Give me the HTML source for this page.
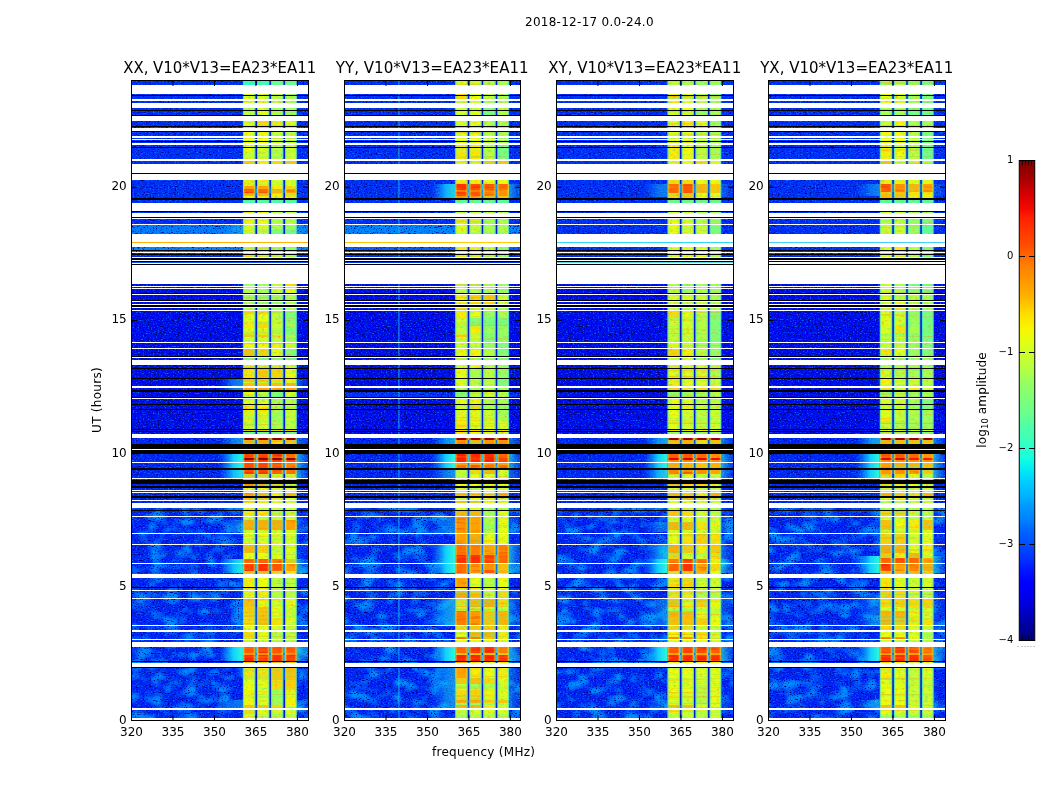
<!DOCTYPE html>
<html><head><meta charset="utf-8"><title>2018-12-17 0.0-24.0</title>
<style>html,body{margin:0;padding:0;background:#fff}body{width:1050px;height:800px;overflow:hidden;position:relative;font-family:"DejaVu Sans","Liberation Sans",sans-serif;color:#000}svg{position:absolute;left:0;top:0}.t{position:absolute;white-space:nowrap;line-height:1}</style></head><body>
<svg width="1050" height="800" viewBox="0 0 1050 800">
<defs><linearGradient id="gl" x1="0" x2="1" y1="0" y2="0"><stop offset="0" stop-color="#1090ff" stop-opacity="0"/><stop offset="0.3" stop-color="#10a8ff" stop-opacity="0.55"/><stop offset="0.6" stop-color="#10d8ff" stop-opacity="0.95"/><stop offset="1" stop-color="#30f8d8" stop-opacity="1"/></linearGradient><linearGradient id="gr" x1="0" x2="1" y1="0" y2="0"><stop offset="0" stop-color="#30f0d8" stop-opacity="1"/><stop offset="1" stop-color="#18c8f0" stop-opacity="0.2"/></linearGradient><filter id="nzd0" x="0" y="0" width="100%" height="100%" color-interpolation-filters="sRGB"><feTurbulence type="fractalNoise" baseFrequency="0.6 0.85" numOctaves="1" seed="3" result="n"/><feColorMatrix in="n" type="matrix" values="0 0 0 0 0  0 0 0 0 0.42  0 0 0 0 1  5 0 0 0 -2.85" result="hi"/><feColorMatrix in="n" type="matrix" values="0 0 0 0 0  0 0 0 0 0  0 0 0 0 0.45  0 -6.5 0 0 2.95" result="lo"/><feMerge><feMergeNode in="SourceGraphic"/><feMergeNode in="lo"/><feMergeNode in="hi"/></feMerge><feComposite in2="SourceGraphic" operator="in"/></filter><filter id="nzb0" x="0" y="0" width="100%" height="100%" color-interpolation-filters="sRGB"><feTurbulence type="fractalNoise" baseFrequency="0.6 0.85" numOctaves="1" seed="3" result="n"/><feColorMatrix in="n" type="matrix" values="0 0 0 0 0  0 0 0 0 0.42  0 0 0 0 1  5 0 0 0 -2.7" result="hi"/><feColorMatrix in="n" type="matrix" values="0 0 0 0 0  0 0 0 0 0  0 0 0 0 0.5  0 -6 0 0 2.62" result="lo"/><feMerge><feMergeNode in="SourceGraphic"/><feMergeNode in="lo"/><feMergeNode in="hi"/></feMerge><feComposite in2="SourceGraphic" operator="in"/></filter><filter id="cl0" x="0" y="0" width="100%" height="100%" color-interpolation-filters="sRGB"><feTurbulence type="fractalNoise" baseFrequency="0.06 0.09" numOctaves="2" seed="4" result="m"/><feColorMatrix in="m" type="matrix" values="0 0 0 0 0  0 0 0 0 0.55  0 0 0 0 1  3.6 0 0 0 -1.6" result="cl"/><feComposite in="cl" in2="SourceGraphic" operator="in"/></filter><filter id="nzy0" x="0" y="0" width="100%" height="100%" color-interpolation-filters="sRGB"><feTurbulence type="fractalNoise" baseFrequency="0.3 0.5" numOctaves="2" seed="5" result="n"/><feColorMatrix in="n" type="matrix" values="0 0 0 0 0.3  0 0 0 0 1  0 0 0 0 0.65  1.7 0 0 0 -0.9" result="hi"/><feColorMatrix in="n" type="matrix" values="0 0 0 0 1  0 0 0 0 0.55  0 0 0 0 0  0 -2 0 0 0.85" result="lo"/><feTurbulence type="fractalNoise" baseFrequency="0.012 0.45" numOctaves="1" seed="6" result="st"/><feColorMatrix in="st" type="matrix" values="0 0 0 0 0.3  0 0 0 0 1  0 0 0 0 0.6  0 0 1.3 0 -0.7" result="sg"/><feColorMatrix in="st" type="matrix" values="0 0 0 0 1  0 0 0 0 0.5  0 0 0 0 0  -1.8 0 0 0 0.78" result="so"/><feMerge><feMergeNode in="SourceGraphic"/><feMergeNode in="so"/><feMergeNode in="sg"/><feMergeNode in="lo"/><feMergeNode in="hi"/></feMerge><feComposite in2="SourceGraphic" operator="in"/></filter><filter id="nzh0" x="0" y="0" width="100%" height="100%" color-interpolation-filters="sRGB"><feTurbulence type="fractalNoise" baseFrequency="0.05 0.5" numOctaves="1" seed="7" result="st"/><feColorMatrix in="st" type="matrix" values="0 0 0 0 1  0 0 0 0 0.6  0 0 0 0 0  0 0 1.5 0 -0.75" result="sg"/><feColorMatrix in="st" type="matrix" values="0 0 0 0 0.8  0 0 0 0 0  0 0 0 0 0  -1.5 0 0 0 0.68" result="so"/><feMerge><feMergeNode in="SourceGraphic"/><feMergeNode in="so"/><feMergeNode in="sg"/></feMerge><feComposite in2="SourceGraphic" operator="in"/></filter><filter id="nzd1" x="0" y="0" width="100%" height="100%" color-interpolation-filters="sRGB"><feTurbulence type="fractalNoise" baseFrequency="0.6 0.85" numOctaves="1" seed="10" result="n"/><feColorMatrix in="n" type="matrix" values="0 0 0 0 0  0 0 0 0 0.42  0 0 0 0 1  5 0 0 0 -2.85" result="hi"/><feColorMatrix in="n" type="matrix" values="0 0 0 0 0  0 0 0 0 0  0 0 0 0 0.45  0 -6.5 0 0 2.95" result="lo"/><feMerge><feMergeNode in="SourceGraphic"/><feMergeNode in="lo"/><feMergeNode in="hi"/></feMerge><feComposite in2="SourceGraphic" operator="in"/></filter><filter id="nzb1" x="0" y="0" width="100%" height="100%" color-interpolation-filters="sRGB"><feTurbulence type="fractalNoise" baseFrequency="0.6 0.85" numOctaves="1" seed="10" result="n"/><feColorMatrix in="n" type="matrix" values="0 0 0 0 0  0 0 0 0 0.42  0 0 0 0 1  5 0 0 0 -2.7" result="hi"/><feColorMatrix in="n" type="matrix" values="0 0 0 0 0  0 0 0 0 0  0 0 0 0 0.5  0 -6 0 0 2.62" result="lo"/><feMerge><feMergeNode in="SourceGraphic"/><feMergeNode in="lo"/><feMergeNode in="hi"/></feMerge><feComposite in2="SourceGraphic" operator="in"/></filter><filter id="cl1" x="0" y="0" width="100%" height="100%" color-interpolation-filters="sRGB"><feTurbulence type="fractalNoise" baseFrequency="0.06 0.09" numOctaves="2" seed="11" result="m"/><feColorMatrix in="m" type="matrix" values="0 0 0 0 0  0 0 0 0 0.55  0 0 0 0 1  3.6 0 0 0 -1.6" result="cl"/><feComposite in="cl" in2="SourceGraphic" operator="in"/></filter><filter id="nzy1" x="0" y="0" width="100%" height="100%" color-interpolation-filters="sRGB"><feTurbulence type="fractalNoise" baseFrequency="0.3 0.5" numOctaves="2" seed="12" result="n"/><feColorMatrix in="n" type="matrix" values="0 0 0 0 0.3  0 0 0 0 1  0 0 0 0 0.65  1.7 0 0 0 -0.9" result="hi"/><feColorMatrix in="n" type="matrix" values="0 0 0 0 1  0 0 0 0 0.55  0 0 0 0 0  0 -2 0 0 0.85" result="lo"/><feTurbulence type="fractalNoise" baseFrequency="0.012 0.45" numOctaves="1" seed="13" result="st"/><feColorMatrix in="st" type="matrix" values="0 0 0 0 0.3  0 0 0 0 1  0 0 0 0 0.6  0 0 1.3 0 -0.7" result="sg"/><feColorMatrix in="st" type="matrix" values="0 0 0 0 1  0 0 0 0 0.5  0 0 0 0 0  -1.8 0 0 0 0.78" result="so"/><feMerge><feMergeNode in="SourceGraphic"/><feMergeNode in="so"/><feMergeNode in="sg"/><feMergeNode in="lo"/><feMergeNode in="hi"/></feMerge><feComposite in2="SourceGraphic" operator="in"/></filter><filter id="nzh1" x="0" y="0" width="100%" height="100%" color-interpolation-filters="sRGB"><feTurbulence type="fractalNoise" baseFrequency="0.05 0.5" numOctaves="1" seed="14" result="st"/><feColorMatrix in="st" type="matrix" values="0 0 0 0 1  0 0 0 0 0.6  0 0 0 0 0  0 0 1.5 0 -0.75" result="sg"/><feColorMatrix in="st" type="matrix" values="0 0 0 0 0.8  0 0 0 0 0  0 0 0 0 0  -1.5 0 0 0 0.68" result="so"/><feMerge><feMergeNode in="SourceGraphic"/><feMergeNode in="so"/><feMergeNode in="sg"/></feMerge><feComposite in2="SourceGraphic" operator="in"/></filter><filter id="nzd2" x="0" y="0" width="100%" height="100%" color-interpolation-filters="sRGB"><feTurbulence type="fractalNoise" baseFrequency="0.6 0.85" numOctaves="1" seed="17" result="n"/><feColorMatrix in="n" type="matrix" values="0 0 0 0 0  0 0 0 0 0.42  0 0 0 0 1  5 0 0 0 -2.85" result="hi"/><feColorMatrix in="n" type="matrix" values="0 0 0 0 0  0 0 0 0 0  0 0 0 0 0.45  0 -6.5 0 0 2.95" result="lo"/><feMerge><feMergeNode in="SourceGraphic"/><feMergeNode in="lo"/><feMergeNode in="hi"/></feMerge><feComposite in2="SourceGraphic" operator="in"/></filter><filter id="nzb2" x="0" y="0" width="100%" height="100%" color-interpolation-filters="sRGB"><feTurbulence type="fractalNoise" baseFrequency="0.6 0.85" numOctaves="1" seed="17" result="n"/><feColorMatrix in="n" type="matrix" values="0 0 0 0 0  0 0 0 0 0.42  0 0 0 0 1  5 0 0 0 -2.7" result="hi"/><feColorMatrix in="n" type="matrix" values="0 0 0 0 0  0 0 0 0 0  0 0 0 0 0.5  0 -6 0 0 2.62" result="lo"/><feMerge><feMergeNode in="SourceGraphic"/><feMergeNode in="lo"/><feMergeNode in="hi"/></feMerge><feComposite in2="SourceGraphic" operator="in"/></filter><filter id="cl2" x="0" y="0" width="100%" height="100%" color-interpolation-filters="sRGB"><feTurbulence type="fractalNoise" baseFrequency="0.06 0.09" numOctaves="2" seed="18" result="m"/><feColorMatrix in="m" type="matrix" values="0 0 0 0 0  0 0 0 0 0.55  0 0 0 0 1  3.6 0 0 0 -1.6" result="cl"/><feComposite in="cl" in2="SourceGraphic" operator="in"/></filter><filter id="nzy2" x="0" y="0" width="100%" height="100%" color-interpolation-filters="sRGB"><feTurbulence type="fractalNoise" baseFrequency="0.3 0.5" numOctaves="2" seed="19" result="n"/><feColorMatrix in="n" type="matrix" values="0 0 0 0 0.3  0 0 0 0 1  0 0 0 0 0.65  1.7 0 0 0 -0.9" result="hi"/><feColorMatrix in="n" type="matrix" values="0 0 0 0 1  0 0 0 0 0.55  0 0 0 0 0  0 -2 0 0 0.85" result="lo"/><feTurbulence type="fractalNoise" baseFrequency="0.012 0.45" numOctaves="1" seed="20" result="st"/><feColorMatrix in="st" type="matrix" values="0 0 0 0 0.3  0 0 0 0 1  0 0 0 0 0.6  0 0 1.3 0 -0.7" result="sg"/><feColorMatrix in="st" type="matrix" values="0 0 0 0 1  0 0 0 0 0.5  0 0 0 0 0  -1.8 0 0 0 0.78" result="so"/><feMerge><feMergeNode in="SourceGraphic"/><feMergeNode in="so"/><feMergeNode in="sg"/><feMergeNode in="lo"/><feMergeNode in="hi"/></feMerge><feComposite in2="SourceGraphic" operator="in"/></filter><filter id="nzh2" x="0" y="0" width="100%" height="100%" color-interpolation-filters="sRGB"><feTurbulence type="fractalNoise" baseFrequency="0.05 0.5" numOctaves="1" seed="21" result="st"/><feColorMatrix in="st" type="matrix" values="0 0 0 0 1  0 0 0 0 0.6  0 0 0 0 0  0 0 1.5 0 -0.75" result="sg"/><feColorMatrix in="st" type="matrix" values="0 0 0 0 0.8  0 0 0 0 0  0 0 0 0 0  -1.5 0 0 0 0.68" result="so"/><feMerge><feMergeNode in="SourceGraphic"/><feMergeNode in="so"/><feMergeNode in="sg"/></feMerge><feComposite in2="SourceGraphic" operator="in"/></filter><filter id="nzd3" x="0" y="0" width="100%" height="100%" color-interpolation-filters="sRGB"><feTurbulence type="fractalNoise" baseFrequency="0.6 0.85" numOctaves="1" seed="24" result="n"/><feColorMatrix in="n" type="matrix" values="0 0 0 0 0  0 0 0 0 0.42  0 0 0 0 1  5 0 0 0 -2.85" result="hi"/><feColorMatrix in="n" type="matrix" values="0 0 0 0 0  0 0 0 0 0  0 0 0 0 0.45  0 -6.5 0 0 2.95" result="lo"/><feMerge><feMergeNode in="SourceGraphic"/><feMergeNode in="lo"/><feMergeNode in="hi"/></feMerge><feComposite in2="SourceGraphic" operator="in"/></filter><filter id="nzb3" x="0" y="0" width="100%" height="100%" color-interpolation-filters="sRGB"><feTurbulence type="fractalNoise" baseFrequency="0.6 0.85" numOctaves="1" seed="24" result="n"/><feColorMatrix in="n" type="matrix" values="0 0 0 0 0  0 0 0 0 0.42  0 0 0 0 1  5 0 0 0 -2.7" result="hi"/><feColorMatrix in="n" type="matrix" values="0 0 0 0 0  0 0 0 0 0  0 0 0 0 0.5  0 -6 0 0 2.62" result="lo"/><feMerge><feMergeNode in="SourceGraphic"/><feMergeNode in="lo"/><feMergeNode in="hi"/></feMerge><feComposite in2="SourceGraphic" operator="in"/></filter><filter id="cl3" x="0" y="0" width="100%" height="100%" color-interpolation-filters="sRGB"><feTurbulence type="fractalNoise" baseFrequency="0.06 0.09" numOctaves="2" seed="25" result="m"/><feColorMatrix in="m" type="matrix" values="0 0 0 0 0  0 0 0 0 0.55  0 0 0 0 1  3.6 0 0 0 -1.6" result="cl"/><feComposite in="cl" in2="SourceGraphic" operator="in"/></filter><filter id="nzy3" x="0" y="0" width="100%" height="100%" color-interpolation-filters="sRGB"><feTurbulence type="fractalNoise" baseFrequency="0.3 0.5" numOctaves="2" seed="26" result="n"/><feColorMatrix in="n" type="matrix" values="0 0 0 0 0.3  0 0 0 0 1  0 0 0 0 0.65  1.7 0 0 0 -0.9" result="hi"/><feColorMatrix in="n" type="matrix" values="0 0 0 0 1  0 0 0 0 0.55  0 0 0 0 0  0 -2 0 0 0.85" result="lo"/><feTurbulence type="fractalNoise" baseFrequency="0.012 0.45" numOctaves="1" seed="27" result="st"/><feColorMatrix in="st" type="matrix" values="0 0 0 0 0.3  0 0 0 0 1  0 0 0 0 0.6  0 0 1.3 0 -0.7" result="sg"/><feColorMatrix in="st" type="matrix" values="0 0 0 0 1  0 0 0 0 0.5  0 0 0 0 0  -1.8 0 0 0 0.78" result="so"/><feMerge><feMergeNode in="SourceGraphic"/><feMergeNode in="so"/><feMergeNode in="sg"/><feMergeNode in="lo"/><feMergeNode in="hi"/></feMerge><feComposite in2="SourceGraphic" operator="in"/></filter><filter id="nzh3" x="0" y="0" width="100%" height="100%" color-interpolation-filters="sRGB"><feTurbulence type="fractalNoise" baseFrequency="0.05 0.5" numOctaves="1" seed="28" result="st"/><feColorMatrix in="st" type="matrix" values="0 0 0 0 1  0 0 0 0 0.6  0 0 0 0 0  0 0 1.5 0 -0.75" result="sg"/><feColorMatrix in="st" type="matrix" values="0 0 0 0 0.8  0 0 0 0 0  0 0 0 0 0  -1.5 0 0 0 0.68" result="so"/><feMerge><feMergeNode in="SourceGraphic"/><feMergeNode in="so"/><feMergeNode in="sg"/></feMerge><feComposite in2="SourceGraphic" operator="in"/></filter><linearGradient id="cb" x1="0" x2="0" y1="1" y2="0">
<stop offset="0" stop-color="#000080"/>
<stop offset="0.03" stop-color="#00009c"/>
<stop offset="0.05" stop-color="#0000b9"/>
<stop offset="0.07" stop-color="#0000d6"/>
<stop offset="0.1" stop-color="#0000f3"/>
<stop offset="0.12" stop-color="#0000ff"/>
<stop offset="0.15" stop-color="#0019ff"/>
<stop offset="0.17" stop-color="#0033ff"/>
<stop offset="0.2" stop-color="#004dff"/>
<stop offset="0.23" stop-color="#0066ff"/>
<stop offset="0.25" stop-color="#0080ff"/>
<stop offset="0.28" stop-color="#0099ff"/>
<stop offset="0.3" stop-color="#00b2ff"/>
<stop offset="0.33" stop-color="#00ccff"/>
<stop offset="0.35" stop-color="#00e5f7"/>
<stop offset="0.38" stop-color="#15ffe2"/>
<stop offset="0.4" stop-color="#29ffce"/>
<stop offset="0.42" stop-color="#3effb9"/>
<stop offset="0.45" stop-color="#52ffa5"/>
<stop offset="0.47" stop-color="#67ff90"/>
<stop offset="0.5" stop-color="#7bff7b"/>
<stop offset="0.53" stop-color="#90ff67"/>
<stop offset="0.55" stop-color="#a5ff52"/>
<stop offset="0.57" stop-color="#b9ff3e"/>
<stop offset="0.6" stop-color="#ceff29"/>
<stop offset="0.62" stop-color="#e2ff15"/>
<stop offset="0.65" stop-color="#f7f600"/>
<stop offset="0.68" stop-color="#ffde00"/>
<stop offset="0.7" stop-color="#ffc600"/>
<stop offset="0.72" stop-color="#ffaf00"/>
<stop offset="0.75" stop-color="#ff9700"/>
<stop offset="0.78" stop-color="#ff8000"/>
<stop offset="0.8" stop-color="#ff6800"/>
<stop offset="0.82" stop-color="#ff5000"/>
<stop offset="0.85" stop-color="#ff3900"/>
<stop offset="0.88" stop-color="#ff2100"/>
<stop offset="0.9" stop-color="#f30900"/>
<stop offset="0.93" stop-color="#d60000"/>
<stop offset="0.95" stop-color="#b90000"/>
<stop offset="0.97" stop-color="#9c0000"/>
<stop offset="1" stop-color="#800000"/>
</linearGradient></defs>
<g transform="translate(131.5,80.5)">
<g filter="url(#nzd0)">
<rect x="0" y="203.5" width="177" height="150" fill="#000cf0"/>
</g>
<g filter="url(#nzb0)">
<rect x="0" y="-0.5" width="177" height="204" fill="#002cfa"/>
<rect x="0" y="353.5" width="177" height="74" fill="#0024f8"/>
<rect x="0" y="427.5" width="177" height="213" fill="#0020f6"/>
<rect x="0" y="427.5" width="177" height="212.5" fill="#fff" filter="url(#cl0)"/>
<rect x="0" y="144.5" width="177" height="9" fill="#0080ff"/>
<rect x="0" y="166.5" width="177" height="5" fill="#008aff"/>
</g>
<rect x="111.4" y="0" width="53.9" height="640" fill="#0418d0"/>
<g filter="url(#nzy0)">
<rect x="111.4" y="-0.5" width="12.5" height="14" fill="#19ffde"/>
<rect x="125.5" y="-0.5" width="12.4" height="14" fill="#3affbd"/>
<rect x="139.4" y="-0.5" width="12.5" height="14" fill="#6bff8c"/>
<rect x="153.5" y="-0.5" width="11.8" height="14" fill="#6bff8c"/>
<rect x="111.4" y="13.5" width="12.5" height="14" fill="#efff08"/>
<rect x="125.5" y="13.5" width="12.4" height="14" fill="#deff19"/>
<rect x="139.4" y="13.5" width="12.5" height="14" fill="#bdff3a"/>
<rect x="153.5" y="13.5" width="11.8" height="14" fill="#adff4a"/>
<rect x="111.4" y="27.5" width="12.5" height="13" fill="#bdff3a"/>
<rect x="125.5" y="27.5" width="12.4" height="13" fill="#efff08"/>
<rect x="139.4" y="27.5" width="12.5" height="13" fill="#adff4a"/>
<rect x="153.5" y="27.5" width="11.8" height="13" fill="#9cff5a"/>
<rect x="111.4" y="40.5" width="12.5" height="10" fill="#deff19"/>
<rect x="125.5" y="40.5" width="12.4" height="10" fill="#ffd900"/>
<rect x="139.4" y="40.5" width="12.5" height="10" fill="#ffec00"/>
<rect x="153.5" y="40.5" width="11.8" height="10" fill="#deff19"/>
<rect x="111.4" y="50.5" width="12.5" height="14" fill="#efff08"/>
<rect x="125.5" y="50.5" width="12.4" height="14" fill="#efff08"/>
<rect x="139.4" y="50.5" width="12.5" height="14" fill="#ceff29"/>
<rect x="153.5" y="50.5" width="11.8" height="14" fill="#bdff3a"/>
<rect x="111.4" y="64.5" width="12.5" height="16" fill="#efff08"/>
<rect x="125.5" y="64.5" width="12.4" height="16" fill="#deff19"/>
<rect x="139.4" y="64.5" width="12.5" height="16" fill="#bdff3a"/>
<rect x="153.5" y="64.5" width="11.8" height="16" fill="#ceff29"/>
<rect x="111.4" y="80.5" width="12.5" height="19" fill="#ffc600"/>
<rect x="125.5" y="80.5" width="12.4" height="19" fill="#ffec00"/>
<rect x="139.4" y="80.5" width="12.5" height="19" fill="#ffd900"/>
<rect x="153.5" y="80.5" width="11.8" height="19" fill="#ffc600"/>
<rect x="111.4" y="99.5" width="12.5" height="6" fill="#ffec00"/>
<rect x="125.5" y="99.5" width="12.4" height="6" fill="#ffec00"/>
<rect x="139.4" y="99.5" width="12.5" height="6" fill="#deff19"/>
<rect x="153.5" y="99.5" width="11.8" height="6" fill="#deff19"/>
<rect x="139.4" y="105.5" width="12.5" height="3" fill="#ffec00"/>
<rect x="153.5" y="105.5" width="11.8" height="3" fill="#ffd900"/>
<rect x="139.4" y="108.5" width="12.5" height="4" fill="#ffb300"/>
<rect x="111.4" y="112.5" width="12.5" height="3" fill="#ffb300"/>
<rect x="125.5" y="112.5" width="12.4" height="3" fill="#ffb300"/>
<rect x="139.4" y="112.5" width="12.5" height="3" fill="#ffec00"/>
<rect x="153.5" y="112.5" width="11.8" height="3" fill="#ffd900"/>
<rect x="111.4" y="115.5" width="12.5" height="4" fill="#ffec00"/>
<rect x="125.5" y="115.5" width="12.4" height="4" fill="#ffec00"/>
<rect x="139.4" y="115.5" width="12.5" height="4" fill="#efff08"/>
<rect x="153.5" y="115.5" width="11.8" height="4" fill="#efff08"/>
<rect x="111.4" y="119.5" width="12.5" height="12" fill="#4affad"/>
<rect x="125.5" y="119.5" width="12.4" height="12" fill="#4affad"/>
<rect x="139.4" y="119.5" width="12.5" height="12" fill="#4affad"/>
<rect x="153.5" y="119.5" width="11.8" height="12" fill="#4affad"/>
<rect x="111.4" y="131.5" width="12.5" height="5" fill="#deff19"/>
<rect x="125.5" y="131.5" width="12.4" height="5" fill="#deff19"/>
<rect x="139.4" y="131.5" width="12.5" height="5" fill="#bdff3a"/>
<rect x="153.5" y="131.5" width="11.8" height="5" fill="#bdff3a"/>
<rect x="111.4" y="136.5" width="12.5" height="8" fill="#efff08"/>
<rect x="125.5" y="136.5" width="12.4" height="8" fill="#efff08"/>
<rect x="139.4" y="136.5" width="12.5" height="8" fill="#bdff3a"/>
<rect x="153.5" y="136.5" width="11.8" height="8" fill="#bdff3a"/>
<rect x="111.4" y="144.5" width="12.5" height="5" fill="#efff08"/>
<rect x="125.5" y="144.5" width="12.4" height="5" fill="#deff19"/>
<rect x="139.4" y="144.5" width="12.5" height="5" fill="#adff4a"/>
<rect x="153.5" y="144.5" width="11.8" height="5" fill="#9cff5a"/>
<rect x="111.4" y="149.5" width="12.5" height="17" fill="#ceff29"/>
<rect x="125.5" y="149.5" width="12.4" height="17" fill="#bdff3a"/>
<rect x="139.4" y="149.5" width="12.5" height="17" fill="#7bff7b"/>
<rect x="153.5" y="149.5" width="11.8" height="17" fill="#6bff8c"/>
<rect x="111.4" y="166.5" width="12.5" height="6" fill="#bdff3a"/>
<rect x="125.5" y="166.5" width="12.4" height="6" fill="#bdff3a"/>
<rect x="139.4" y="166.5" width="12.5" height="6" fill="#9cff5a"/>
<rect x="153.5" y="166.5" width="11.8" height="6" fill="#9cff5a"/>
<rect x="111.4" y="172.5" width="12.5" height="31" fill="#deff19"/>
<rect x="125.5" y="172.5" width="12.4" height="31" fill="#deff19"/>
<rect x="139.4" y="172.5" width="12.5" height="31" fill="#bdff3a"/>
<rect x="153.5" y="172.5" width="11.8" height="31" fill="#adff4a"/>
<rect x="111.4" y="203.5" width="12.5" height="3" fill="#bdff3a"/>
<rect x="125.5" y="203.5" width="12.4" height="3" fill="#adff4a"/>
<rect x="139.4" y="203.5" width="12.5" height="3" fill="#ceff29"/>
<rect x="153.5" y="203.5" width="11.8" height="3" fill="#ffd900"/>
<rect x="111.4" y="206.5" width="12.5" height="8" fill="#bdff3a"/>
<rect x="125.5" y="206.5" width="12.4" height="8" fill="#adff4a"/>
<rect x="139.4" y="206.5" width="12.5" height="8" fill="#ceff29"/>
<rect x="153.5" y="206.5" width="11.8" height="8" fill="#e6ff10"/>
<rect x="111.4" y="214.5" width="12.5" height="16" fill="#adff4a"/>
<rect x="125.5" y="214.5" width="12.4" height="16" fill="#9cff5a"/>
<rect x="139.4" y="214.5" width="12.5" height="16" fill="#9cff5a"/>
<rect x="153.5" y="214.5" width="11.8" height="16" fill="#adff4a"/>
<rect x="111.4" y="230.5" width="12.5" height="11" fill="#e6ff10"/>
<rect x="125.5" y="230.5" width="12.4" height="11" fill="#efff08"/>
<rect x="139.4" y="230.5" width="12.5" height="11" fill="#c5ff31"/>
<rect x="153.5" y="230.5" width="11.8" height="11" fill="#84ff73"/>
<rect x="111.4" y="241.5" width="12.5" height="6" fill="#ffec00"/>
<rect x="125.5" y="241.5" width="12.4" height="6" fill="#ffd900"/>
<rect x="139.4" y="241.5" width="12.5" height="6" fill="#ceff29"/>
<rect x="153.5" y="241.5" width="11.8" height="6" fill="#9cff5a"/>
<rect x="111.4" y="247.5" width="12.5" height="7" fill="#deff19"/>
<rect x="125.5" y="247.5" width="12.4" height="7" fill="#e6ff10"/>
<rect x="139.4" y="247.5" width="12.5" height="7" fill="#c5ff31"/>
<rect x="153.5" y="247.5" width="11.8" height="7" fill="#84ff73"/>
<rect x="111.4" y="254.5" width="12.5" height="2" fill="#ffc600"/>
<rect x="125.5" y="254.5" width="12.4" height="2" fill="#ffc600"/>
<rect x="139.4" y="254.5" width="12.5" height="2" fill="#ffd900"/>
<rect x="153.5" y="254.5" width="11.8" height="2" fill="#adff4a"/>
<rect x="111.4" y="256.5" width="12.5" height="6" fill="#ceff29"/>
<rect x="125.5" y="256.5" width="12.4" height="6" fill="#ceff29"/>
<rect x="139.4" y="256.5" width="12.5" height="6" fill="#bdff3a"/>
<rect x="153.5" y="256.5" width="11.8" height="6" fill="#9cff5a"/>
<rect x="111.4" y="262.5" width="12.5" height="6" fill="#efff08"/>
<rect x="125.5" y="262.5" width="12.4" height="6" fill="#efff08"/>
<rect x="139.4" y="262.5" width="12.5" height="6" fill="#f7f600"/>
<rect x="153.5" y="262.5" width="11.8" height="6" fill="#deff19"/>
<rect x="111.4" y="268.5" width="12.5" height="9" fill="#ffbd00"/>
<rect x="125.5" y="268.5" width="12.4" height="9" fill="#ffd000"/>
<rect x="139.4" y="268.5" width="12.5" height="9" fill="#e6ff10"/>
<rect x="153.5" y="268.5" width="11.8" height="9" fill="#84ff73"/>
<rect x="111.4" y="277.5" width="12.5" height="7" fill="#7bff7b"/>
<rect x="125.5" y="277.5" width="12.4" height="7" fill="#7bff7b"/>
<rect x="139.4" y="277.5" width="12.5" height="7" fill="#7bff7b"/>
<rect x="153.5" y="277.5" width="11.8" height="7" fill="#6bff8c"/>
<rect x="111.4" y="284.5" width="12.5" height="4" fill="#ceff29"/>
<rect x="125.5" y="284.5" width="12.4" height="4" fill="#ceff29"/>
<rect x="139.4" y="284.5" width="12.5" height="4" fill="#ceff29"/>
<rect x="153.5" y="284.5" width="11.8" height="4" fill="#ceff29"/>
<rect x="111.4" y="288.5" width="12.5" height="10" fill="#ffe300"/>
<rect x="125.5" y="288.5" width="12.4" height="10" fill="#ffc600"/>
<rect x="139.4" y="288.5" width="12.5" height="10" fill="#ffd000"/>
<rect x="153.5" y="288.5" width="11.8" height="10" fill="#efff08"/>
<rect x="111.4" y="298.5" width="12.5" height="3" fill="#ffbd00"/>
<rect x="125.5" y="298.5" width="12.4" height="3" fill="#ffc600"/>
<rect x="139.4" y="298.5" width="12.5" height="3" fill="#ffd900"/>
<rect x="153.5" y="298.5" width="11.8" height="3" fill="#ffec00"/>
<rect x="111.4" y="301.5" width="12.5" height="1" fill="#ceff29"/>
<rect x="125.5" y="301.5" width="12.4" height="1" fill="#ceff29"/>
<rect x="139.4" y="301.5" width="12.5" height="1" fill="#ceff29"/>
<rect x="153.5" y="301.5" width="11.8" height="1" fill="#ceff29"/>
<rect x="111.4" y="302.5" width="12.5" height="5" fill="#ffbd00"/>
<rect x="125.5" y="302.5" width="12.4" height="5" fill="#ffc600"/>
<rect x="139.4" y="302.5" width="12.5" height="5" fill="#ffbd00"/>
<rect x="153.5" y="302.5" width="11.8" height="5" fill="#ffb300"/>
<rect x="111.4" y="311.5" width="12.5" height="7" fill="#e6ff10"/>
<rect x="125.5" y="311.5" width="12.4" height="7" fill="#bdff3a"/>
<rect x="139.4" y="311.5" width="12.5" height="7" fill="#84ff73"/>
<rect x="153.5" y="311.5" width="11.8" height="7" fill="#ceff29"/>
<rect x="111.4" y="318.5" width="12.5" height="6" fill="#e6ff10"/>
<rect x="125.5" y="318.5" width="12.4" height="6" fill="#e6ff10"/>
<rect x="139.4" y="318.5" width="12.5" height="6" fill="#adff4a"/>
<rect x="153.5" y="318.5" width="11.8" height="6" fill="#bdff3a"/>
<rect x="111.4" y="324.5" width="12.5" height="5" fill="#ffec00"/>
<rect x="125.5" y="324.5" width="12.4" height="5" fill="#f7f600"/>
<rect x="139.4" y="324.5" width="12.5" height="5" fill="#bdff3a"/>
<rect x="153.5" y="324.5" width="11.8" height="5" fill="#bdff3a"/>
<rect x="111.4" y="329.5" width="12.5" height="12" fill="#f7f600"/>
<rect x="125.5" y="329.5" width="12.4" height="12" fill="#f7f600"/>
<rect x="139.4" y="329.5" width="12.5" height="12" fill="#adff4a"/>
<rect x="153.5" y="329.5" width="11.8" height="12" fill="#ceff29"/>
<rect x="111.4" y="341.5" width="12.5" height="8" fill="#ceff29"/>
<rect x="125.5" y="341.5" width="12.4" height="8" fill="#deff19"/>
<rect x="139.4" y="341.5" width="12.5" height="8" fill="#adff4a"/>
<rect x="153.5" y="341.5" width="11.8" height="8" fill="#bdff3a"/>
<rect x="111.4" y="349.5" width="12.5" height="2" fill="#ffb300"/>
<rect x="125.5" y="349.5" width="12.4" height="2" fill="#ffb300"/>
<rect x="139.4" y="349.5" width="12.5" height="2" fill="#ffc600"/>
<rect x="153.5" y="349.5" width="11.8" height="2" fill="#ffc600"/>
<rect x="111.4" y="351.5" width="12.5" height="6" fill="#6bff8c"/>
<rect x="125.5" y="351.5" width="12.4" height="6" fill="#6bff8c"/>
<rect x="139.4" y="351.5" width="12.5" height="6" fill="#6bff8c"/>
<rect x="153.5" y="351.5" width="11.8" height="6" fill="#6bff8c"/>
<rect x="111.4" y="359.5" width="12.5" height="14" fill="#ffb300"/>
<rect x="125.5" y="359.5" width="12.4" height="14" fill="#ffaa00"/>
<rect x="139.4" y="359.5" width="12.5" height="14" fill="#ffd900"/>
<rect x="153.5" y="359.5" width="11.8" height="14" fill="#ffc600"/>
<rect x="111.4" y="393.5" width="12.5" height="9" fill="#ffc600"/>
<rect x="125.5" y="393.5" width="12.4" height="9" fill="#ffd900"/>
<rect x="139.4" y="393.5" width="12.5" height="9" fill="#efff08"/>
<rect x="153.5" y="393.5" width="11.8" height="9" fill="#deff19"/>
<rect x="125.5" y="402.5" width="12.4" height="4" fill="#ffb300"/>
<rect x="139.4" y="402.5" width="12.5" height="4" fill="#ffd900"/>
<rect x="153.5" y="402.5" width="11.8" height="4" fill="#ceff29"/>
<rect x="111.4" y="406.5" width="12.5" height="6" fill="#efff08"/>
<rect x="125.5" y="406.5" width="12.4" height="6" fill="#efff08"/>
<rect x="139.4" y="406.5" width="12.5" height="6" fill="#efff08"/>
<rect x="153.5" y="406.5" width="11.8" height="6" fill="#efff08"/>
<rect x="125.5" y="412.5" width="12.4" height="4" fill="#ffb300"/>
<rect x="139.4" y="412.5" width="12.5" height="4" fill="#ffec00"/>
<rect x="153.5" y="412.5" width="11.8" height="4" fill="#ffb300"/>
<rect x="111.4" y="416.5" width="12.5" height="3" fill="#ffc600"/>
<rect x="125.5" y="416.5" width="12.4" height="3" fill="#ffc600"/>
<rect x="139.4" y="416.5" width="12.5" height="3" fill="#ffec00"/>
<rect x="153.5" y="416.5" width="11.8" height="3" fill="#efff08"/>
<rect x="111.4" y="419.5" width="12.5" height="8" fill="#ffd900"/>
<rect x="125.5" y="419.5" width="12.4" height="8" fill="#ffec00"/>
<rect x="139.4" y="419.5" width="12.5" height="8" fill="#deff19"/>
<rect x="153.5" y="419.5" width="11.8" height="8" fill="#deff19"/>
<rect x="111.4" y="427.5" width="12.5" height="3" fill="#ceff29"/>
<rect x="125.5" y="427.5" width="12.4" height="3" fill="#ceff29"/>
<rect x="139.4" y="427.5" width="12.5" height="3" fill="#ceff29"/>
<rect x="153.5" y="427.5" width="11.8" height="3" fill="#ceff29"/>
<rect x="111.4" y="430.5" width="12.5" height="6" fill="#ffec00"/>
<rect x="125.5" y="430.5" width="12.4" height="6" fill="#ffec00"/>
<rect x="139.4" y="430.5" width="12.5" height="6" fill="#bdff3a"/>
<rect x="153.5" y="430.5" width="11.8" height="6" fill="#ceff29"/>
<rect x="111.4" y="436.5" width="12.5" height="3" fill="#ceff29"/>
<rect x="125.5" y="436.5" width="12.4" height="3" fill="#ceff29"/>
<rect x="139.4" y="436.5" width="12.5" height="3" fill="#ceff29"/>
<rect x="153.5" y="436.5" width="11.8" height="3" fill="#ceff29"/>
<rect x="111.4" y="439.5" width="12.5" height="10" fill="#ffaa00"/>
<rect x="125.5" y="439.5" width="12.4" height="10" fill="#ffaa00"/>
<rect x="139.4" y="439.5" width="12.5" height="10" fill="#ffaa00"/>
<rect x="111.4" y="449.5" width="12.5" height="4" fill="#deff19"/>
<rect x="125.5" y="449.5" width="12.4" height="4" fill="#deff19"/>
<rect x="139.4" y="449.5" width="12.5" height="4" fill="#deff19"/>
<rect x="153.5" y="449.5" width="11.8" height="4" fill="#deff19"/>
<rect x="111.4" y="453.5" width="12.5" height="11" fill="#deff19"/>
<rect x="125.5" y="453.5" width="12.4" height="11" fill="#efff08"/>
<rect x="139.4" y="453.5" width="12.5" height="11" fill="#deff19"/>
<rect x="153.5" y="453.5" width="11.8" height="11" fill="#deff19"/>
<rect x="111.4" y="464.5" width="12.5" height="8" fill="#ffb300"/>
<rect x="125.5" y="464.5" width="12.4" height="8" fill="#ffd000"/>
<rect x="139.4" y="464.5" width="12.5" height="8" fill="#ceff29"/>
<rect x="153.5" y="464.5" width="11.8" height="8" fill="#deff19"/>
<rect x="111.4" y="472.5" width="12.5" height="6" fill="#efff08"/>
<rect x="125.5" y="472.5" width="12.4" height="6" fill="#efff08"/>
<rect x="139.4" y="472.5" width="12.5" height="6" fill="#deff19"/>
<rect x="153.5" y="472.5" width="11.8" height="6" fill="#deff19"/>
<rect x="153.5" y="478.5" width="11.8" height="5" fill="#ffc600"/>
<rect x="111.4" y="490.5" width="12.5" height="7" fill="#ffd900"/>
<rect x="125.5" y="490.5" width="12.4" height="7" fill="#ffd900"/>
<rect x="139.4" y="490.5" width="12.5" height="7" fill="#ffec00"/>
<rect x="153.5" y="490.5" width="11.8" height="7" fill="#efff08"/>
<rect x="111.4" y="497.5" width="12.5" height="13" fill="#ffec00"/>
<rect x="125.5" y="497.5" width="12.4" height="13" fill="#efff08"/>
<rect x="139.4" y="497.5" width="12.5" height="13" fill="#bdff3a"/>
<rect x="153.5" y="497.5" width="11.8" height="13" fill="#bdff3a"/>
<rect x="111.4" y="510.5" width="12.5" height="7" fill="#f7f600"/>
<rect x="125.5" y="510.5" width="12.4" height="7" fill="#ffec00"/>
<rect x="139.4" y="510.5" width="12.5" height="7" fill="#bdff3a"/>
<rect x="153.5" y="510.5" width="11.8" height="7" fill="#bdff3a"/>
<rect x="111.4" y="517.5" width="12.5" height="9" fill="#ffbd00"/>
<rect x="125.5" y="517.5" width="12.4" height="9" fill="#f7f600"/>
<rect x="139.4" y="517.5" width="12.5" height="9" fill="#d6ff21"/>
<rect x="153.5" y="517.5" width="11.8" height="9" fill="#e6ff10"/>
<rect x="111.4" y="526.5" width="12.5" height="11" fill="#ffd000"/>
<rect x="125.5" y="526.5" width="12.4" height="11" fill="#ffc600"/>
<rect x="139.4" y="526.5" width="12.5" height="11" fill="#e6ff10"/>
<rect x="153.5" y="526.5" width="11.8" height="11" fill="#ceff29"/>
<rect x="111.4" y="537.5" width="12.5" height="8" fill="#ffd900"/>
<rect x="125.5" y="537.5" width="12.4" height="8" fill="#ffbd00"/>
<rect x="139.4" y="537.5" width="12.5" height="8" fill="#ffe300"/>
<rect x="153.5" y="537.5" width="11.8" height="8" fill="#deff19"/>
<rect x="111.4" y="545.5" width="12.5" height="6" fill="#efff08"/>
<rect x="125.5" y="545.5" width="12.4" height="6" fill="#efff08"/>
<rect x="139.4" y="545.5" width="12.5" height="6" fill="#deff19"/>
<rect x="153.5" y="545.5" width="11.8" height="6" fill="#ceff29"/>
<rect x="111.4" y="551.5" width="12.5" height="8" fill="#ffd900"/>
<rect x="125.5" y="551.5" width="12.4" height="8" fill="#efff08"/>
<rect x="139.4" y="551.5" width="12.5" height="8" fill="#bdff3a"/>
<rect x="153.5" y="551.5" width="11.8" height="8" fill="#bdff3a"/>
<rect x="111.4" y="559.5" width="12.5" height="7" fill="#deff19"/>
<rect x="125.5" y="559.5" width="12.4" height="7" fill="#deff19"/>
<rect x="139.4" y="559.5" width="12.5" height="7" fill="#bdff3a"/>
<rect x="153.5" y="559.5" width="11.8" height="7" fill="#bdff3a"/>
<rect x="111.4" y="580.5" width="12.5" height="19" fill="#ffe300"/>
<rect x="125.5" y="580.5" width="12.4" height="19" fill="#ffe300"/>
<rect x="139.4" y="580.5" width="12.5" height="19" fill="#ffc600"/>
<rect x="153.5" y="580.5" width="11.8" height="19" fill="#ffbd00"/>
<rect x="111.4" y="599.5" width="12.5" height="10" fill="#efff08"/>
<rect x="125.5" y="599.5" width="12.4" height="10" fill="#e6ff10"/>
<rect x="139.4" y="599.5" width="12.5" height="10" fill="#ffd900"/>
<rect x="153.5" y="599.5" width="11.8" height="10" fill="#ffd000"/>
<rect x="111.4" y="609.5" width="12.5" height="15" fill="#f7f600"/>
<rect x="125.5" y="609.5" width="12.4" height="15" fill="#deff19"/>
<rect x="139.4" y="609.5" width="12.5" height="15" fill="#a5ff52"/>
<rect x="153.5" y="609.5" width="11.8" height="15" fill="#f7f600"/>
<rect x="111.4" y="624.5" width="12.5" height="5" fill="#ffc600"/>
<rect x="125.5" y="624.5" width="12.4" height="5" fill="#ffc600"/>
<rect x="139.4" y="624.5" width="12.5" height="5" fill="#ffd900"/>
<rect x="153.5" y="624.5" width="11.8" height="5" fill="#efff08"/>
<rect x="111.4" y="629.5" width="12.5" height="4" fill="#ffd900"/>
<rect x="125.5" y="629.5" width="12.4" height="4" fill="#efff08"/>
<rect x="139.4" y="629.5" width="12.5" height="4" fill="#ceff29"/>
<rect x="153.5" y="629.5" width="11.8" height="4" fill="#deff19"/>
<rect x="111.4" y="633.5" width="12.5" height="6.5" fill="#deff19"/>
<rect x="125.5" y="633.5" width="12.4" height="6.5" fill="#deff19"/>
<rect x="139.4" y="633.5" width="12.5" height="6.5" fill="#bdff3a"/>
<rect x="153.5" y="633.5" width="11.8" height="6.5" fill="#ceff29"/>
</g>
<rect x="151.9" y="80.5" width="1.6" height="19" fill="#18b8f4" opacity="0.3"/>
<rect x="123.9" y="105.5" width="1.6" height="3" fill="#18b8f4" opacity="0.55"/>
<rect x="137.9" y="105.5" width="1.5" height="3" fill="#18b8f4" opacity="0.35"/>
<rect x="123.9" y="108.5" width="1.6" height="4" fill="#18b8f4" opacity="0.85"/>
<rect x="137.9" y="108.5" width="1.5" height="4" fill="#18b8f4" opacity="0.65"/>
<rect x="151.9" y="108.5" width="1.6" height="4" fill="#18b8f4" opacity="0.5"/>
<rect x="123.9" y="112.5" width="1.6" height="3" fill="#18b8f4" opacity="0.45"/>
<rect x="123.9" y="254.5" width="1.6" height="2" fill="#18b8f4" opacity="0.35"/>
<rect x="137.9" y="254.5" width="1.5" height="2" fill="#18b8f4" opacity="0.3"/>
<rect x="123.9" y="268.5" width="1.6" height="9" fill="#18b8f4" opacity="0.35"/>
<rect x="137.9" y="288.5" width="1.5" height="10" fill="#18b8f4" opacity="0.33"/>
<rect x="123.9" y="298.5" width="1.6" height="3" fill="#18b8f4" opacity="0.38"/>
<rect x="137.9" y="298.5" width="1.5" height="3" fill="#18b8f4" opacity="0.3"/>
<rect x="123.9" y="302.5" width="1.6" height="5" fill="#18b8f4" opacity="0.38"/>
<rect x="137.9" y="302.5" width="1.5" height="5" fill="#18b8f4" opacity="0.38"/>
<rect x="151.9" y="302.5" width="1.6" height="5" fill="#18b8f4" opacity="0.42"/>
<rect x="123.9" y="307.5" width="1.6" height="4" fill="#18b8f4" opacity="0.55"/>
<rect x="137.9" y="307.5" width="1.5" height="4" fill="#18b8f4" opacity="0.55"/>
<rect x="151.9" y="307.5" width="1.6" height="4" fill="#18b8f4" opacity="0.55"/>
<rect x="123.9" y="349.5" width="1.6" height="2" fill="#18b8f4" opacity="0.45"/>
<rect x="137.9" y="349.5" width="1.5" height="2" fill="#18b8f4" opacity="0.4"/>
<rect x="151.9" y="349.5" width="1.6" height="2" fill="#18b8f4" opacity="0.35"/>
<rect x="123.9" y="357.5" width="1.6" height="2" fill="#f0c020" opacity="0.9"/>
<rect x="137.9" y="357.5" width="1.5" height="2" fill="#f0c020" opacity="0.9"/>
<rect x="151.9" y="357.5" width="1.6" height="2" fill="#f0c020" opacity="0.9"/>
<rect x="123.9" y="359.5" width="1.6" height="14" fill="#18b8f4" opacity="0.48"/>
<rect x="137.9" y="359.5" width="1.5" height="14" fill="#18b8f4" opacity="0.38"/>
<rect x="151.9" y="359.5" width="1.6" height="14" fill="#18b8f4" opacity="0.3"/>
<rect x="123.9" y="373.5" width="1.6" height="4" fill="#40e0d8" opacity="0.85"/>
<rect x="137.9" y="373.5" width="1.5" height="4" fill="#40e0d8" opacity="0.85"/>
<rect x="151.9" y="373.5" width="1.6" height="4" fill="#40e0d8" opacity="0.85"/>
<rect x="123.9" y="377.5" width="1.6" height="2" fill="#f0c020" opacity="0.9"/>
<rect x="137.9" y="377.5" width="1.5" height="2" fill="#f0c020" opacity="0.9"/>
<rect x="151.9" y="377.5" width="1.6" height="2" fill="#f0c020" opacity="0.9"/>
<rect x="123.9" y="379.5" width="1.6" height="3" fill="#40e0d8" opacity="0.85"/>
<rect x="137.9" y="379.5" width="1.5" height="3" fill="#40e0d8" opacity="0.85"/>
<rect x="151.9" y="379.5" width="1.6" height="3" fill="#40e0d8" opacity="0.85"/>
<rect x="123.9" y="382.5" width="1.6" height="6" fill="#40e0d8" opacity="0.85"/>
<rect x="137.9" y="382.5" width="1.5" height="6" fill="#40e0d8" opacity="0.85"/>
<rect x="151.9" y="382.5" width="1.6" height="6" fill="#18b8f4" opacity="0.85"/>
<rect x="123.9" y="388.5" width="1.6" height="5" fill="#40e0d8" opacity="0.85"/>
<rect x="137.9" y="388.5" width="1.5" height="5" fill="#40e0d8" opacity="0.85"/>
<rect x="151.9" y="388.5" width="1.6" height="5" fill="#18b8f4" opacity="0.85"/>
<rect x="123.9" y="393.5" width="1.6" height="9" fill="#18b8f4" opacity="0.3"/>
<rect x="123.9" y="402.5" width="1.6" height="4" fill="#18b8f4" opacity="0.5"/>
<rect x="137.9" y="402.5" width="1.5" height="4" fill="#18b8f4" opacity="0.35"/>
<rect x="123.9" y="412.5" width="1.6" height="4" fill="#18b8f4" opacity="0.5"/>
<rect x="123.9" y="416.5" width="1.6" height="3" fill="#18b8f4" opacity="0.35"/>
<rect x="123.9" y="439.5" width="1.6" height="10" fill="#18b8f4" opacity="0.5"/>
<rect x="137.9" y="439.5" width="1.5" height="10" fill="#18b8f4" opacity="0.5"/>
<rect x="151.9" y="439.5" width="1.6" height="10" fill="#18b8f4" opacity="0.52"/>
<rect x="123.9" y="464.5" width="1.6" height="8" fill="#18b8f4" opacity="0.38"/>
<rect x="123.9" y="478.5" width="1.6" height="5" fill="#18b8f4" opacity="0.85"/>
<rect x="137.9" y="478.5" width="1.5" height="5" fill="#18b8f4" opacity="0.85"/>
<rect x="151.9" y="478.5" width="1.6" height="5" fill="#18b8f4" opacity="0.55"/>
<rect x="123.9" y="483.5" width="1.6" height="7" fill="#40e0d8" opacity="0.85"/>
<rect x="137.9" y="483.5" width="1.5" height="7" fill="#40e0d8" opacity="0.85"/>
<rect x="151.9" y="483.5" width="1.6" height="7" fill="#18b8f4" opacity="0.75"/>
<rect x="123.9" y="526.5" width="1.6" height="11" fill="#18b8f4" opacity="0.33"/>
<rect x="123.9" y="537.5" width="1.6" height="8" fill="#18b8f4" opacity="0.33"/>
<rect x="123.9" y="566.5" width="1.6" height="6" fill="#40e0d8" opacity="0.85"/>
<rect x="137.9" y="566.5" width="1.5" height="6" fill="#40e0d8" opacity="0.85"/>
<rect x="151.9" y="566.5" width="1.6" height="6" fill="#40e0d8" opacity="0.85"/>
<rect x="123.9" y="572.5" width="1.6" height="2" fill="#18b8f4" opacity="0.65"/>
<rect x="137.9" y="572.5" width="1.5" height="2" fill="#18b8f4" opacity="0.65"/>
<rect x="151.9" y="572.5" width="1.6" height="2" fill="#18b8f4" opacity="0.65"/>
<rect x="123.9" y="574.5" width="1.6" height="6" fill="#40e0d8" opacity="0.85"/>
<rect x="137.9" y="574.5" width="1.5" height="6" fill="#40e0d8" opacity="0.85"/>
<rect x="151.9" y="574.5" width="1.6" height="6" fill="#40e0d8" opacity="0.85"/>
<rect x="151.9" y="580.5" width="1.6" height="19" fill="#18b8f4" opacity="0.38"/>
<rect x="123.9" y="624.5" width="1.6" height="5" fill="#18b8f4" opacity="0.35"/>
<rect x="137.9" y="624.5" width="1.5" height="5" fill="#18b8f4" opacity="0.3"/>
<g filter="url(#nzh0)">
<rect x="111.4" y="105.5" width="12.5" height="3" fill="#ffa100"/>
<rect x="125.5" y="105.5" width="12.4" height="3" fill="#ffa100"/>
<rect x="111.4" y="108.5" width="12.5" height="4" fill="#ff5500"/>
<rect x="125.5" y="108.5" width="12.4" height="4" fill="#ff6800"/>
<rect x="153.5" y="108.5" width="11.8" height="4" fill="#ffa100"/>
<rect x="111.4" y="307.5" width="12.5" height="4" fill="#ffa100"/>
<rect x="125.5" y="307.5" width="12.4" height="4" fill="#ffa100"/>
<rect x="139.4" y="307.5" width="12.5" height="4" fill="#ffa100"/>
<rect x="153.5" y="307.5" width="11.8" height="4" fill="#ffa100"/>
<rect x="111.4" y="373.5" width="12.5" height="4" fill="#ff4200"/>
<rect x="125.5" y="373.5" width="12.4" height="4" fill="#ff4200"/>
<rect x="139.4" y="373.5" width="12.5" height="4" fill="#ff4c00"/>
<rect x="153.5" y="373.5" width="11.8" height="4" fill="#ff7100"/>
<rect x="111.4" y="379.5" width="12.5" height="3" fill="#ff2f00"/>
<rect x="125.5" y="379.5" width="12.4" height="3" fill="#ff2f00"/>
<rect x="139.4" y="379.5" width="12.5" height="3" fill="#ff2f00"/>
<rect x="153.5" y="379.5" width="11.8" height="3" fill="#ff4200"/>
<rect x="111.4" y="382.5" width="12.5" height="6" fill="#ff4c00"/>
<rect x="125.5" y="382.5" width="12.4" height="6" fill="#ff4200"/>
<rect x="139.4" y="382.5" width="12.5" height="6" fill="#ff5500"/>
<rect x="153.5" y="382.5" width="11.8" height="6" fill="#ff7b00"/>
<rect x="111.4" y="388.5" width="12.5" height="5" fill="#ff4200"/>
<rect x="125.5" y="388.5" width="12.4" height="5" fill="#ff4200"/>
<rect x="139.4" y="388.5" width="12.5" height="5" fill="#ff5500"/>
<rect x="153.5" y="388.5" width="11.8" height="5" fill="#ff6800"/>
<rect x="111.4" y="402.5" width="12.5" height="4" fill="#ffa100"/>
<rect x="111.4" y="412.5" width="12.5" height="4" fill="#ffa100"/>
<rect x="153.5" y="439.5" width="11.8" height="10" fill="#ffa100"/>
<rect x="111.4" y="478.5" width="12.5" height="5" fill="#ff6800"/>
<rect x="125.5" y="478.5" width="12.4" height="5" fill="#ff5500"/>
<rect x="139.4" y="478.5" width="12.5" height="5" fill="#ff7b00"/>
<rect x="111.4" y="483.5" width="12.5" height="7" fill="#ff3900"/>
<rect x="125.5" y="483.5" width="12.4" height="7" fill="#ff2f00"/>
<rect x="139.4" y="483.5" width="12.5" height="7" fill="#ff5500"/>
<rect x="153.5" y="483.5" width="11.8" height="7" fill="#ffa100"/>
<rect x="111.4" y="566.5" width="12.5" height="6" fill="#ff5e00"/>
<rect x="125.5" y="566.5" width="12.4" height="6" fill="#ff4200"/>
<rect x="139.4" y="566.5" width="12.5" height="6" fill="#ff5500"/>
<rect x="153.5" y="566.5" width="11.8" height="6" fill="#ff5e00"/>
<rect x="111.4" y="572.5" width="12.5" height="2" fill="#ff8e00"/>
<rect x="125.5" y="572.5" width="12.4" height="2" fill="#ff8e00"/>
<rect x="139.4" y="572.5" width="12.5" height="2" fill="#ff8e00"/>
<rect x="153.5" y="572.5" width="11.8" height="2" fill="#ff8e00"/>
<rect x="111.4" y="574.5" width="12.5" height="6" fill="#ff2600"/>
<rect x="125.5" y="574.5" width="12.4" height="6" fill="#ff2600"/>
<rect x="139.4" y="574.5" width="12.5" height="6" fill="#ff2f00"/>
<rect x="153.5" y="574.5" width="11.8" height="6" fill="#ff3900"/>
</g>
<rect x="111.4" y="357.5" width="12.5" height="2" fill="#8b0000"/>
<rect x="125.5" y="357.5" width="12.4" height="2" fill="#8b0000"/>
<rect x="139.4" y="357.5" width="12.5" height="2" fill="#8b0000"/>
<rect x="153.5" y="357.5" width="11.8" height="2" fill="#8b0000"/>
<rect x="111.4" y="377.5" width="12.5" height="2" fill="#8b0000"/>
<rect x="125.5" y="377.5" width="12.4" height="2" fill="#8b0000"/>
<rect x="139.4" y="377.5" width="12.5" height="2" fill="#8b0000"/>
<rect x="153.5" y="377.5" width="11.8" height="2" fill="#970000"/>
<rect x="87.4" y="298.5" width="24" height="11" fill="url(#gl)" opacity="0.5"/>
<rect x="165.3" y="298.5" width="11.5" height="11" fill="url(#gr)" opacity="0.33"/>
<rect x="87.4" y="357.5" width="24" height="6" fill="url(#gl)" opacity="0.5"/>
<rect x="165.3" y="357.5" width="11.5" height="6" fill="url(#gr)" opacity="0.33"/>
<rect x="87.4" y="373.5" width="24" height="14" fill="url(#gl)" opacity="1"/>
<rect x="165.3" y="373.5" width="11.5" height="14" fill="url(#gr)" opacity="0.65"/>
<rect x="87.4" y="388.5" width="24" height="9" fill="url(#gl)" opacity="0.9"/>
<rect x="165.3" y="388.5" width="11.5" height="9" fill="url(#gr)" opacity="0.59"/>
<rect x="87.4" y="478.5" width="24" height="14" fill="url(#gl)" opacity="0.9"/>
<rect x="165.3" y="478.5" width="11.5" height="14" fill="url(#gr)" opacity="0.59"/>
<rect x="87.4" y="566.5" width="24" height="14" fill="url(#gl)" opacity="1"/>
<rect x="165.3" y="566.5" width="11.5" height="14" fill="url(#gr)" opacity="0.65"/>
<rect x="87.4" y="144.5" width="24" height="9" fill="url(#gl)" opacity="0.3"/>
<rect x="165.3" y="144.5" width="11.5" height="9" fill="url(#gr)" opacity="0.2"/>
<rect x="87.4" y="619.5" width="24" height="8" fill="url(#gl)" opacity="0.4"/>
<rect x="165.3" y="619.5" width="11.5" height="8" fill="url(#gr)" opacity="0.26"/>
<rect x="87.4" y="439.5" width="24" height="12" fill="url(#gl)" opacity="0.35"/>
<rect x="165.3" y="439.5" width="11.5" height="12" fill="url(#gr)" opacity="0.23"/>
<rect x="111.4" y="-0.5" width="1" height="106" fill="#38dce0" opacity="0.8"/>
<rect x="122.9" y="-0.5" width="1" height="106" fill="#38dce0" opacity="0.8"/>
<rect x="112.4" y="-0.5" width="0.9" height="106" fill="#80f890" opacity="0.28"/>
<rect x="122" y="-0.5" width="0.9" height="106" fill="#80f890" opacity="0.28"/>
<rect x="125.5" y="-0.5" width="1" height="106" fill="#38dce0" opacity="0.8"/>
<rect x="136.9" y="-0.5" width="1" height="106" fill="#38dce0" opacity="0.8"/>
<rect x="126.5" y="-0.5" width="0.9" height="106" fill="#80f890" opacity="0.28"/>
<rect x="136" y="-0.5" width="0.9" height="106" fill="#80f890" opacity="0.28"/>
<rect x="139.4" y="-0.5" width="1" height="308" fill="#38dce0" opacity="0.8"/>
<rect x="150.9" y="-0.5" width="1" height="308" fill="#38dce0" opacity="0.8"/>
<rect x="140.4" y="-0.5" width="0.9" height="308" fill="#80f890" opacity="0.28"/>
<rect x="150" y="-0.5" width="0.9" height="308" fill="#80f890" opacity="0.28"/>
<rect x="153.5" y="-0.5" width="1" height="109" fill="#38dce0" opacity="0.8"/>
<rect x="164.3" y="-0.5" width="1" height="109" fill="#38dce0" opacity="0.8"/>
<rect x="154.5" y="-0.5" width="0.9" height="109" fill="#80f890" opacity="0.28"/>
<rect x="163.4" y="-0.5" width="0.9" height="109" fill="#80f890" opacity="0.28"/>
<rect x="111.4" y="105.5" width="1" height="7" fill="#a0f060" opacity="0.75"/>
<rect x="122.9" y="105.5" width="1" height="7" fill="#a0f060" opacity="0.75"/>
<rect x="112.4" y="105.5" width="0.9" height="7" fill="#f0f020" opacity="0.3"/>
<rect x="122" y="105.5" width="0.9" height="7" fill="#f0f020" opacity="0.3"/>
<rect x="125.5" y="105.5" width="1" height="7" fill="#a0f060" opacity="0.75"/>
<rect x="136.9" y="105.5" width="1" height="7" fill="#a0f060" opacity="0.75"/>
<rect x="126.5" y="105.5" width="0.9" height="7" fill="#f0f020" opacity="0.3"/>
<rect x="136" y="105.5" width="0.9" height="7" fill="#f0f020" opacity="0.3"/>
<rect x="153.5" y="108.5" width="1" height="4" fill="#a0f060" opacity="0.75"/>
<rect x="164.3" y="108.5" width="1" height="4" fill="#a0f060" opacity="0.75"/>
<rect x="154.5" y="108.5" width="0.9" height="4" fill="#f0f020" opacity="0.3"/>
<rect x="163.4" y="108.5" width="0.9" height="4" fill="#f0f020" opacity="0.3"/>
<rect x="111.4" y="112.5" width="1" height="195" fill="#38dce0" opacity="0.8"/>
<rect x="122.9" y="112.5" width="1" height="195" fill="#38dce0" opacity="0.8"/>
<rect x="112.4" y="112.5" width="0.9" height="195" fill="#80f890" opacity="0.28"/>
<rect x="122" y="112.5" width="0.9" height="195" fill="#80f890" opacity="0.28"/>
<rect x="125.5" y="112.5" width="1" height="195" fill="#38dce0" opacity="0.8"/>
<rect x="136.9" y="112.5" width="1" height="195" fill="#38dce0" opacity="0.8"/>
<rect x="126.5" y="112.5" width="0.9" height="195" fill="#80f890" opacity="0.28"/>
<rect x="136" y="112.5" width="0.9" height="195" fill="#80f890" opacity="0.28"/>
<rect x="153.5" y="112.5" width="1" height="195" fill="#38dce0" opacity="0.8"/>
<rect x="164.3" y="112.5" width="1" height="195" fill="#38dce0" opacity="0.8"/>
<rect x="154.5" y="112.5" width="0.9" height="195" fill="#80f890" opacity="0.28"/>
<rect x="163.4" y="112.5" width="0.9" height="195" fill="#80f890" opacity="0.28"/>
<rect x="111.4" y="307.5" width="1" height="4" fill="#a0f060" opacity="0.75"/>
<rect x="122.9" y="307.5" width="1" height="4" fill="#a0f060" opacity="0.75"/>
<rect x="112.4" y="307.5" width="0.9" height="4" fill="#f0f020" opacity="0.3"/>
<rect x="122" y="307.5" width="0.9" height="4" fill="#f0f020" opacity="0.3"/>
<rect x="125.5" y="307.5" width="1" height="4" fill="#a0f060" opacity="0.75"/>
<rect x="136.9" y="307.5" width="1" height="4" fill="#a0f060" opacity="0.75"/>
<rect x="126.5" y="307.5" width="0.9" height="4" fill="#f0f020" opacity="0.3"/>
<rect x="136" y="307.5" width="0.9" height="4" fill="#f0f020" opacity="0.3"/>
<rect x="139.4" y="307.5" width="1" height="4" fill="#a0f060" opacity="0.75"/>
<rect x="150.9" y="307.5" width="1" height="4" fill="#a0f060" opacity="0.75"/>
<rect x="140.4" y="307.5" width="0.9" height="4" fill="#f0f020" opacity="0.3"/>
<rect x="150" y="307.5" width="0.9" height="4" fill="#f0f020" opacity="0.3"/>
<rect x="153.5" y="307.5" width="1" height="4" fill="#a0f060" opacity="0.75"/>
<rect x="164.3" y="307.5" width="1" height="4" fill="#a0f060" opacity="0.75"/>
<rect x="154.5" y="307.5" width="0.9" height="4" fill="#f0f020" opacity="0.3"/>
<rect x="163.4" y="307.5" width="0.9" height="4" fill="#f0f020" opacity="0.3"/>
<rect x="111.4" y="311.5" width="1" height="46" fill="#38dce0" opacity="0.8"/>
<rect x="122.9" y="311.5" width="1" height="46" fill="#38dce0" opacity="0.8"/>
<rect x="112.4" y="311.5" width="0.9" height="46" fill="#80f890" opacity="0.28"/>
<rect x="122" y="311.5" width="0.9" height="46" fill="#80f890" opacity="0.28"/>
<rect x="125.5" y="311.5" width="1" height="46" fill="#38dce0" opacity="0.8"/>
<rect x="136.9" y="311.5" width="1" height="46" fill="#38dce0" opacity="0.8"/>
<rect x="126.5" y="311.5" width="0.9" height="46" fill="#80f890" opacity="0.28"/>
<rect x="136" y="311.5" width="0.9" height="46" fill="#80f890" opacity="0.28"/>
<rect x="139.4" y="311.5" width="1" height="46" fill="#38dce0" opacity="0.8"/>
<rect x="150.9" y="311.5" width="1" height="46" fill="#38dce0" opacity="0.8"/>
<rect x="140.4" y="311.5" width="0.9" height="46" fill="#80f890" opacity="0.28"/>
<rect x="150" y="311.5" width="0.9" height="46" fill="#80f890" opacity="0.28"/>
<rect x="153.5" y="311.5" width="1" height="46" fill="#38dce0" opacity="0.8"/>
<rect x="164.3" y="311.5" width="1" height="46" fill="#38dce0" opacity="0.8"/>
<rect x="154.5" y="311.5" width="0.9" height="46" fill="#80f890" opacity="0.28"/>
<rect x="163.4" y="311.5" width="0.9" height="46" fill="#80f890" opacity="0.28"/>
<rect x="111.4" y="357.5" width="1" height="2" fill="#a0f060" opacity="0.75"/>
<rect x="122.9" y="357.5" width="1" height="2" fill="#a0f060" opacity="0.75"/>
<rect x="112.4" y="357.5" width="0.9" height="2" fill="#f0f020" opacity="0.3"/>
<rect x="122" y="357.5" width="0.9" height="2" fill="#f0f020" opacity="0.3"/>
<rect x="125.5" y="357.5" width="1" height="2" fill="#a0f060" opacity="0.75"/>
<rect x="136.9" y="357.5" width="1" height="2" fill="#a0f060" opacity="0.75"/>
<rect x="126.5" y="357.5" width="0.9" height="2" fill="#f0f020" opacity="0.3"/>
<rect x="136" y="357.5" width="0.9" height="2" fill="#f0f020" opacity="0.3"/>
<rect x="139.4" y="357.5" width="1" height="2" fill="#a0f060" opacity="0.75"/>
<rect x="150.9" y="357.5" width="1" height="2" fill="#a0f060" opacity="0.75"/>
<rect x="140.4" y="357.5" width="0.9" height="2" fill="#f0f020" opacity="0.3"/>
<rect x="150" y="357.5" width="0.9" height="2" fill="#f0f020" opacity="0.3"/>
<rect x="153.5" y="357.5" width="1" height="2" fill="#a0f060" opacity="0.75"/>
<rect x="164.3" y="357.5" width="1" height="2" fill="#a0f060" opacity="0.75"/>
<rect x="154.5" y="357.5" width="0.9" height="2" fill="#f0f020" opacity="0.3"/>
<rect x="163.4" y="357.5" width="0.9" height="2" fill="#f0f020" opacity="0.3"/>
<rect x="111.4" y="359.5" width="1" height="14" fill="#38dce0" opacity="0.8"/>
<rect x="122.9" y="359.5" width="1" height="14" fill="#38dce0" opacity="0.8"/>
<rect x="112.4" y="359.5" width="0.9" height="14" fill="#80f890" opacity="0.28"/>
<rect x="122" y="359.5" width="0.9" height="14" fill="#80f890" opacity="0.28"/>
<rect x="125.5" y="359.5" width="1" height="14" fill="#38dce0" opacity="0.8"/>
<rect x="136.9" y="359.5" width="1" height="14" fill="#38dce0" opacity="0.8"/>
<rect x="126.5" y="359.5" width="0.9" height="14" fill="#80f890" opacity="0.28"/>
<rect x="136" y="359.5" width="0.9" height="14" fill="#80f890" opacity="0.28"/>
<rect x="139.4" y="359.5" width="1" height="14" fill="#38dce0" opacity="0.8"/>
<rect x="150.9" y="359.5" width="1" height="14" fill="#38dce0" opacity="0.8"/>
<rect x="140.4" y="359.5" width="0.9" height="14" fill="#80f890" opacity="0.28"/>
<rect x="150" y="359.5" width="0.9" height="14" fill="#80f890" opacity="0.28"/>
<rect x="153.5" y="359.5" width="1" height="14" fill="#38dce0" opacity="0.8"/>
<rect x="164.3" y="359.5" width="1" height="14" fill="#38dce0" opacity="0.8"/>
<rect x="154.5" y="359.5" width="0.9" height="14" fill="#80f890" opacity="0.28"/>
<rect x="163.4" y="359.5" width="0.9" height="14" fill="#80f890" opacity="0.28"/>
<rect x="111.4" y="373.5" width="1" height="20" fill="#a0f060" opacity="0.75"/>
<rect x="122.9" y="373.5" width="1" height="20" fill="#a0f060" opacity="0.75"/>
<rect x="112.4" y="373.5" width="0.9" height="20" fill="#f0f020" opacity="0.3"/>
<rect x="122" y="373.5" width="0.9" height="20" fill="#f0f020" opacity="0.3"/>
<rect x="125.5" y="373.5" width="1" height="20" fill="#a0f060" opacity="0.75"/>
<rect x="136.9" y="373.5" width="1" height="20" fill="#a0f060" opacity="0.75"/>
<rect x="126.5" y="373.5" width="0.9" height="20" fill="#f0f020" opacity="0.3"/>
<rect x="136" y="373.5" width="0.9" height="20" fill="#f0f020" opacity="0.3"/>
<rect x="139.4" y="373.5" width="1" height="20" fill="#a0f060" opacity="0.75"/>
<rect x="150.9" y="373.5" width="1" height="20" fill="#a0f060" opacity="0.75"/>
<rect x="140.4" y="373.5" width="0.9" height="20" fill="#f0f020" opacity="0.3"/>
<rect x="150" y="373.5" width="0.9" height="20" fill="#f0f020" opacity="0.3"/>
<rect x="153.5" y="373.5" width="1" height="20" fill="#a0f060" opacity="0.75"/>
<rect x="164.3" y="373.5" width="1" height="20" fill="#a0f060" opacity="0.75"/>
<rect x="154.5" y="373.5" width="0.9" height="20" fill="#f0f020" opacity="0.3"/>
<rect x="163.4" y="373.5" width="0.9" height="20" fill="#f0f020" opacity="0.3"/>
<rect x="111.4" y="393.5" width="1" height="9" fill="#38dce0" opacity="0.8"/>
<rect x="122.9" y="393.5" width="1" height="9" fill="#38dce0" opacity="0.8"/>
<rect x="112.4" y="393.5" width="0.9" height="9" fill="#80f890" opacity="0.28"/>
<rect x="122" y="393.5" width="0.9" height="9" fill="#80f890" opacity="0.28"/>
<rect x="125.5" y="393.5" width="1" height="85" fill="#38dce0" opacity="0.8"/>
<rect x="136.9" y="393.5" width="1" height="85" fill="#38dce0" opacity="0.8"/>
<rect x="126.5" y="393.5" width="0.9" height="85" fill="#80f890" opacity="0.28"/>
<rect x="136" y="393.5" width="0.9" height="85" fill="#80f890" opacity="0.28"/>
<rect x="139.4" y="393.5" width="1" height="85" fill="#38dce0" opacity="0.8"/>
<rect x="150.9" y="393.5" width="1" height="85" fill="#38dce0" opacity="0.8"/>
<rect x="140.4" y="393.5" width="0.9" height="85" fill="#80f890" opacity="0.28"/>
<rect x="150" y="393.5" width="0.9" height="85" fill="#80f890" opacity="0.28"/>
<rect x="153.5" y="393.5" width="1" height="46" fill="#38dce0" opacity="0.8"/>
<rect x="164.3" y="393.5" width="1" height="46" fill="#38dce0" opacity="0.8"/>
<rect x="154.5" y="393.5" width="0.9" height="46" fill="#80f890" opacity="0.28"/>
<rect x="163.4" y="393.5" width="0.9" height="46" fill="#80f890" opacity="0.28"/>
<rect x="111.4" y="402.5" width="1" height="4" fill="#a0f060" opacity="0.75"/>
<rect x="122.9" y="402.5" width="1" height="4" fill="#a0f060" opacity="0.75"/>
<rect x="112.4" y="402.5" width="0.9" height="4" fill="#f0f020" opacity="0.3"/>
<rect x="122" y="402.5" width="0.9" height="4" fill="#f0f020" opacity="0.3"/>
<rect x="111.4" y="406.5" width="1" height="6" fill="#38dce0" opacity="0.8"/>
<rect x="122.9" y="406.5" width="1" height="6" fill="#38dce0" opacity="0.8"/>
<rect x="112.4" y="406.5" width="0.9" height="6" fill="#80f890" opacity="0.28"/>
<rect x="122" y="406.5" width="0.9" height="6" fill="#80f890" opacity="0.28"/>
<rect x="111.4" y="412.5" width="1" height="4" fill="#a0f060" opacity="0.75"/>
<rect x="122.9" y="412.5" width="1" height="4" fill="#a0f060" opacity="0.75"/>
<rect x="112.4" y="412.5" width="0.9" height="4" fill="#f0f020" opacity="0.3"/>
<rect x="122" y="412.5" width="0.9" height="4" fill="#f0f020" opacity="0.3"/>
<rect x="111.4" y="416.5" width="1" height="62" fill="#38dce0" opacity="0.8"/>
<rect x="122.9" y="416.5" width="1" height="62" fill="#38dce0" opacity="0.8"/>
<rect x="112.4" y="416.5" width="0.9" height="62" fill="#80f890" opacity="0.28"/>
<rect x="122" y="416.5" width="0.9" height="62" fill="#80f890" opacity="0.28"/>
<rect x="153.5" y="439.5" width="1" height="10" fill="#a0f060" opacity="0.75"/>
<rect x="164.3" y="439.5" width="1" height="10" fill="#a0f060" opacity="0.75"/>
<rect x="154.5" y="439.5" width="0.9" height="10" fill="#f0f020" opacity="0.3"/>
<rect x="163.4" y="439.5" width="0.9" height="10" fill="#f0f020" opacity="0.3"/>
<rect x="153.5" y="449.5" width="1" height="34" fill="#38dce0" opacity="0.8"/>
<rect x="164.3" y="449.5" width="1" height="34" fill="#38dce0" opacity="0.8"/>
<rect x="154.5" y="449.5" width="0.9" height="34" fill="#80f890" opacity="0.28"/>
<rect x="163.4" y="449.5" width="0.9" height="34" fill="#80f890" opacity="0.28"/>
<rect x="111.4" y="478.5" width="1" height="12" fill="#a0f060" opacity="0.75"/>
<rect x="122.9" y="478.5" width="1" height="12" fill="#a0f060" opacity="0.75"/>
<rect x="112.4" y="478.5" width="0.9" height="12" fill="#f0f020" opacity="0.3"/>
<rect x="122" y="478.5" width="0.9" height="12" fill="#f0f020" opacity="0.3"/>
<rect x="125.5" y="478.5" width="1" height="12" fill="#a0f060" opacity="0.75"/>
<rect x="136.9" y="478.5" width="1" height="12" fill="#a0f060" opacity="0.75"/>
<rect x="126.5" y="478.5" width="0.9" height="12" fill="#f0f020" opacity="0.3"/>
<rect x="136" y="478.5" width="0.9" height="12" fill="#f0f020" opacity="0.3"/>
<rect x="139.4" y="478.5" width="1" height="12" fill="#a0f060" opacity="0.75"/>
<rect x="150.9" y="478.5" width="1" height="12" fill="#a0f060" opacity="0.75"/>
<rect x="140.4" y="478.5" width="0.9" height="12" fill="#f0f020" opacity="0.3"/>
<rect x="150" y="478.5" width="0.9" height="12" fill="#f0f020" opacity="0.3"/>
<rect x="153.5" y="483.5" width="1" height="7" fill="#a0f060" opacity="0.75"/>
<rect x="164.3" y="483.5" width="1" height="7" fill="#a0f060" opacity="0.75"/>
<rect x="154.5" y="483.5" width="0.9" height="7" fill="#f0f020" opacity="0.3"/>
<rect x="163.4" y="483.5" width="0.9" height="7" fill="#f0f020" opacity="0.3"/>
<rect x="111.4" y="490.5" width="1" height="76" fill="#38dce0" opacity="0.8"/>
<rect x="122.9" y="490.5" width="1" height="76" fill="#38dce0" opacity="0.8"/>
<rect x="112.4" y="490.5" width="0.9" height="76" fill="#80f890" opacity="0.28"/>
<rect x="122" y="490.5" width="0.9" height="76" fill="#80f890" opacity="0.28"/>
<rect x="125.5" y="490.5" width="1" height="76" fill="#38dce0" opacity="0.8"/>
<rect x="136.9" y="490.5" width="1" height="76" fill="#38dce0" opacity="0.8"/>
<rect x="126.5" y="490.5" width="0.9" height="76" fill="#80f890" opacity="0.28"/>
<rect x="136" y="490.5" width="0.9" height="76" fill="#80f890" opacity="0.28"/>
<rect x="139.4" y="490.5" width="1" height="76" fill="#38dce0" opacity="0.8"/>
<rect x="150.9" y="490.5" width="1" height="76" fill="#38dce0" opacity="0.8"/>
<rect x="140.4" y="490.5" width="0.9" height="76" fill="#80f890" opacity="0.28"/>
<rect x="150" y="490.5" width="0.9" height="76" fill="#80f890" opacity="0.28"/>
<rect x="153.5" y="490.5" width="1" height="76" fill="#38dce0" opacity="0.8"/>
<rect x="164.3" y="490.5" width="1" height="76" fill="#38dce0" opacity="0.8"/>
<rect x="154.5" y="490.5" width="0.9" height="76" fill="#80f890" opacity="0.28"/>
<rect x="163.4" y="490.5" width="0.9" height="76" fill="#80f890" opacity="0.28"/>
<rect x="111.4" y="566.5" width="1" height="14" fill="#a0f060" opacity="0.75"/>
<rect x="122.9" y="566.5" width="1" height="14" fill="#a0f060" opacity="0.75"/>
<rect x="112.4" y="566.5" width="0.9" height="14" fill="#f0f020" opacity="0.3"/>
<rect x="122" y="566.5" width="0.9" height="14" fill="#f0f020" opacity="0.3"/>
<rect x="125.5" y="566.5" width="1" height="14" fill="#a0f060" opacity="0.75"/>
<rect x="136.9" y="566.5" width="1" height="14" fill="#a0f060" opacity="0.75"/>
<rect x="126.5" y="566.5" width="0.9" height="14" fill="#f0f020" opacity="0.3"/>
<rect x="136" y="566.5" width="0.9" height="14" fill="#f0f020" opacity="0.3"/>
<rect x="139.4" y="566.5" width="1" height="14" fill="#a0f060" opacity="0.75"/>
<rect x="150.9" y="566.5" width="1" height="14" fill="#a0f060" opacity="0.75"/>
<rect x="140.4" y="566.5" width="0.9" height="14" fill="#f0f020" opacity="0.3"/>
<rect x="150" y="566.5" width="0.9" height="14" fill="#f0f020" opacity="0.3"/>
<rect x="153.5" y="566.5" width="1" height="14" fill="#a0f060" opacity="0.75"/>
<rect x="164.3" y="566.5" width="1" height="14" fill="#a0f060" opacity="0.75"/>
<rect x="154.5" y="566.5" width="0.9" height="14" fill="#f0f020" opacity="0.3"/>
<rect x="163.4" y="566.5" width="0.9" height="14" fill="#f0f020" opacity="0.3"/>
<rect x="111.4" y="580.5" width="1" height="59.5" fill="#38dce0" opacity="0.8"/>
<rect x="122.9" y="580.5" width="1" height="59.5" fill="#38dce0" opacity="0.8"/>
<rect x="112.4" y="580.5" width="0.9" height="59.5" fill="#80f890" opacity="0.28"/>
<rect x="122" y="580.5" width="0.9" height="59.5" fill="#80f890" opacity="0.28"/>
<rect x="125.5" y="580.5" width="1" height="59.5" fill="#38dce0" opacity="0.8"/>
<rect x="136.9" y="580.5" width="1" height="59.5" fill="#38dce0" opacity="0.8"/>
<rect x="126.5" y="580.5" width="0.9" height="59.5" fill="#80f890" opacity="0.28"/>
<rect x="136" y="580.5" width="0.9" height="59.5" fill="#80f890" opacity="0.28"/>
<rect x="139.4" y="580.5" width="1" height="59.5" fill="#38dce0" opacity="0.8"/>
<rect x="150.9" y="580.5" width="1" height="59.5" fill="#38dce0" opacity="0.8"/>
<rect x="140.4" y="580.5" width="0.9" height="59.5" fill="#80f890" opacity="0.28"/>
<rect x="150" y="580.5" width="0.9" height="59.5" fill="#80f890" opacity="0.28"/>
<rect x="153.5" y="580.5" width="1" height="59.5" fill="#38dce0" opacity="0.8"/>
<rect x="164.3" y="580.5" width="1" height="59.5" fill="#38dce0" opacity="0.8"/>
<rect x="154.5" y="580.5" width="0.9" height="59.5" fill="#80f890" opacity="0.28"/>
<rect x="163.4" y="580.5" width="0.9" height="59.5" fill="#80f890" opacity="0.28"/>
<rect x="0" y="4.5" width="177" height="9" fill="#fff"/>
<rect x="0" y="18.5" width="177" height="2" fill="#fff"/>
<rect x="0" y="22.5" width="177" height="5" fill="#fff"/>
<rect x="0" y="34.5" width="177" height="6" fill="#fff"/>
<rect x="0" y="47.5" width="177" height="3" fill="#fff"/>
<rect x="0" y="55.5" width="177" height="2" fill="#fff"/>
<rect x="0" y="58.5" width="177" height="1" fill="#fff"/>
<rect x="0" y="62.5" width="177" height="2" fill="#fff"/>
<rect x="0" y="78.5" width="177" height="2" fill="#fff"/>
<rect x="0" y="83.5" width="177" height="16" fill="#fff"/>
<rect x="0" y="122.5" width="177" height="8" fill="#fff"/>
<rect x="0" y="132.5" width="177" height="4" fill="#fff"/>
<rect x="0" y="137.5" width="177" height="1" fill="#fff"/>
<rect x="0" y="143.5" width="177" height="1" fill="#fff"/>
<rect x="0" y="153.5" width="177" height="13" fill="#fff"/>
<rect x="0" y="171.5" width="177" height="1" fill="#fff"/>
<rect x="0" y="176.5" width="177" height="1" fill="#fff"/>
<rect x="0" y="179.5" width="177" height="1" fill="#fff"/>
<rect x="0" y="182.5" width="177" height="1" fill="#fff"/>
<rect x="0" y="184.5" width="177" height="19" fill="#fff"/>
<rect x="0" y="205.5" width="177" height="1" fill="#fff"/>
<rect x="0" y="207.5" width="177" height="1" fill="#fff"/>
<rect x="0" y="213.5" width="177" height="1" fill="#fff"/>
<rect x="0" y="220.5" width="177" height="1" fill="#fff"/>
<rect x="0" y="223.5" width="177" height="1" fill="#fff"/>
<rect x="0" y="226.5" width="177" height="1" fill="#fff"/>
<rect x="0" y="229.5" width="177" height="1" fill="#fff"/>
<rect x="0" y="261.5" width="177" height="1" fill="#fff"/>
<rect x="0" y="267.5" width="177" height="1" fill="#fff"/>
<rect x="0" y="276.5" width="177" height="1" fill="#fff"/>
<rect x="0" y="279.5" width="177" height="5" fill="#fff"/>
<rect x="0" y="305.5" width="177" height="2" fill="#fff"/>
<rect x="0" y="317.5" width="177" height="1" fill="#fff"/>
<rect x="0" y="353.5" width="177" height="4" fill="#fff"/>
<rect x="0" y="368.5" width="177" height="1" fill="#fff"/>
<rect x="0" y="381.5" width="177" height="1" fill="#fff"/>
<rect x="0" y="397.5" width="177" height="1" fill="#fff"/>
<rect x="0" y="409.5" width="177" height="1" fill="#fff"/>
<rect x="0" y="411.5" width="177" height="1" fill="#fff"/>
<rect x="0" y="419.5" width="177" height="1" fill="#fff"/>
<rect x="0" y="422.5" width="177" height="5" fill="#fff"/>
<rect x="0" y="435.5" width="177" height="1" fill="#fff"/>
<rect x="0" y="452.5" width="177" height="1" fill="#fff"/>
<rect x="0" y="463.5" width="177" height="1" fill="#fff"/>
<rect x="0" y="482.5" width="177" height="1" fill="#fff"/>
<rect x="0" y="493.5" width="177" height="4" fill="#fff"/>
<rect x="0" y="509.5" width="177" height="1" fill="#fff"/>
<rect x="0" y="517.5" width="177" height="1" fill="#fff"/>
<rect x="0" y="544.5" width="177" height="1" fill="#fff"/>
<rect x="0" y="549.5" width="177" height="2" fill="#fff"/>
<rect x="0" y="558.5" width="177" height="1" fill="#fff"/>
<rect x="0" y="561.5" width="177" height="5" fill="#fff"/>
<rect x="0" y="582.5" width="177" height="4" fill="#fff"/>
<rect x="0" y="627.5" width="177" height="2" fill="#fff"/>
<rect x="0" y="637.5" width="177" height="2" fill="#fff"/>
<rect x="0" y="161.5" width="177" height="1" fill="#ffb000"/>
<rect x="0" y="181.5" width="177" height="1" fill="#1058f0"/>
<rect x="0" y="14.5" width="177" height="1" fill="#000"/>
<rect x="0" y="29.5" width="177" height="1" fill="#000"/>
<rect x="0" y="34.5" width="177" height="1" fill="#000"/>
<rect x="0" y="45.5" width="177" height="1" fill="#000"/>
<rect x="0" y="50.5" width="177" height="1" fill="#000"/>
<rect x="0" y="60.5" width="177" height="1" fill="#000"/>
<rect x="0" y="66.5" width="177" height="1" fill="#000"/>
<rect x="0" y="92.5" width="177" height="1" fill="#000"/>
<rect x="0" y="117.5" width="177" height="2" fill="#000"/>
<rect x="0" y="130.5" width="177" height="1" fill="#000"/>
<rect x="0" y="136.5" width="177" height="1" fill="#000"/>
<rect x="0" y="169.5" width="177" height="1" fill="#000"/>
<rect x="0" y="173.5" width="177" height="1" fill="#000"/>
<rect x="0" y="177.5" width="177" height="2" fill="#000"/>
<rect x="0" y="180.5" width="177" height="1" fill="#000"/>
<rect x="0" y="183.5" width="177" height="1" fill="#000"/>
<rect x="0" y="212.5" width="177" height="1" fill="#000"/>
<rect x="0" y="219.5" width="177" height="1" fill="#000"/>
<rect x="0" y="224.5" width="177" height="2" fill="#000"/>
<rect x="0" y="275.5" width="177" height="1" fill="#000"/>
<rect x="0" y="287.5" width="177" height="1" fill="#000"/>
<rect x="0" y="297.5" width="177" height="1" fill="#000"/>
<rect x="0" y="309.5" width="177" height="2" fill="#000"/>
<rect x="0" y="316.5" width="177" height="1" fill="#000"/>
<rect x="0" y="323.5" width="177" height="1" fill="#000"/>
<rect x="0" y="328.5" width="177" height="1" fill="#000"/>
<rect x="0" y="348.5" width="177" height="1" fill="#000"/>
<rect x="0" y="350.5" width="177" height="1" fill="#000"/>
<rect x="0" y="363.5" width="177" height="5" fill="#000"/>
<rect x="0" y="369.5" width="177" height="4" fill="#000"/>
<rect x="0" y="387.5" width="177" height="2" fill="#000"/>
<rect x="0" y="399.5" width="177" height="4" fill="#000"/>
<rect x="0" y="405.5" width="177" height="2" fill="#000"/>
<rect x="0" y="415.5" width="177" height="2" fill="#000"/>
<rect x="0" y="429.5" width="177" height="1" fill="#000"/>
<rect x="0" y="506.5" width="177" height="1" fill="#000"/>
<rect x="0" y="580.5" width="177" height="1" fill="#000"/>
<rect x="0" y="586.5" width="177" height="1" fill="#000"/>
<rect x="-0.5" y="634.5" width="1" height="5.5" fill="#000"/>
<rect x="-0.5" y="0" width="1" height="5.5" fill="#000"/>
<rect x="40.98" y="634.5" width="1" height="5.5" fill="#000"/>
<rect x="40.98" y="0" width="1" height="5.5" fill="#000"/>
<rect x="82.46" y="634.5" width="1" height="5.5" fill="#000"/>
<rect x="82.46" y="0" width="1" height="5.5" fill="#000"/>
<rect x="123.94" y="634.5" width="1" height="5.5" fill="#000"/>
<rect x="123.94" y="0" width="1" height="5.5" fill="#000"/>
<rect x="165.42" y="634.5" width="1" height="5.5" fill="#000"/>
<rect x="165.42" y="0" width="1" height="5.5" fill="#000"/>
<rect x="0" y="639.5" width="5.5" height="1" fill="#000"/>
<rect x="171.5" y="639.5" width="5.5" height="1" fill="#000"/>
<rect x="0" y="506.17" width="5.5" height="1" fill="#000"/>
<rect x="171.5" y="506.17" width="5.5" height="1" fill="#000"/>
<rect x="0" y="372.83" width="5.5" height="1" fill="#000"/>
<rect x="171.5" y="372.83" width="5.5" height="1" fill="#000"/>
<rect x="0" y="239.5" width="5.5" height="1" fill="#000"/>
<rect x="171.5" y="239.5" width="5.5" height="1" fill="#000"/>
<rect x="0" y="106.17" width="5.5" height="1" fill="#000"/>
<rect x="171.5" y="106.17" width="5.5" height="1" fill="#000"/>
<rect x="0" y="0" width="177" height="640" fill="none" stroke="#000" stroke-width="1"/>
</g>
<g transform="translate(344.5,80.5)">
<g filter="url(#nzd1)">
<rect x="0" y="203.5" width="176" height="150" fill="#000cf0"/>
</g>
<g filter="url(#nzb1)">
<rect x="0" y="-0.5" width="176" height="204" fill="#002cfa"/>
<rect x="0" y="353.5" width="176" height="74" fill="#0024f8"/>
<rect x="0" y="427.5" width="176" height="213" fill="#0020f6"/>
<rect x="0" y="427.5" width="176" height="212.5" fill="#fff" filter="url(#cl1)"/>
<rect x="0" y="144.5" width="176" height="9" fill="#008aff"/>
<rect x="0" y="166.5" width="176" height="5" fill="#0061ff"/>
<rect x="0" y="311.5" width="176" height="5" fill="#002eff"/>
</g>
<rect x="110.68" y="0" width="53.9" height="640" fill="#0418d0"/>
<g filter="url(#nzy1)">
<rect x="110.68" y="-0.5" width="12.5" height="14" fill="#deff19"/>
<rect x="124.78" y="-0.5" width="12.4" height="14" fill="#ceff29"/>
<rect x="138.68" y="-0.5" width="12.5" height="14" fill="#adff4a"/>
<rect x="152.78" y="-0.5" width="11.8" height="14" fill="#adff4a"/>
<rect x="110.68" y="13.5" width="12.5" height="6" fill="#ffd900"/>
<rect x="124.78" y="13.5" width="12.4" height="6" fill="#efff08"/>
<rect x="138.68" y="13.5" width="12.5" height="6" fill="#bdff3a"/>
<rect x="152.78" y="13.5" width="11.8" height="6" fill="#adff4a"/>
<rect x="110.68" y="19.5" width="12.5" height="8" fill="#ceff29"/>
<rect x="124.78" y="19.5" width="12.4" height="8" fill="#ceff29"/>
<rect x="138.68" y="19.5" width="12.5" height="8" fill="#adff4a"/>
<rect x="152.78" y="19.5" width="11.8" height="8" fill="#adff4a"/>
<rect x="110.68" y="27.5" width="12.5" height="13" fill="#deff19"/>
<rect x="124.78" y="27.5" width="12.4" height="13" fill="#deff19"/>
<rect x="138.68" y="27.5" width="12.5" height="13" fill="#7bff7b"/>
<rect x="152.78" y="27.5" width="11.8" height="13" fill="#bdff3a"/>
<rect x="110.68" y="40.5" width="12.5" height="10" fill="#deff19"/>
<rect x="124.78" y="40.5" width="12.4" height="10" fill="#efff08"/>
<rect x="138.68" y="40.5" width="12.5" height="10" fill="#bdff3a"/>
<rect x="152.78" y="40.5" width="11.8" height="10" fill="#adff4a"/>
<rect x="110.68" y="50.5" width="12.5" height="14" fill="#efff08"/>
<rect x="124.78" y="50.5" width="12.4" height="14" fill="#efff08"/>
<rect x="138.68" y="50.5" width="12.5" height="14" fill="#bdff3a"/>
<rect x="152.78" y="50.5" width="11.8" height="14" fill="#adff4a"/>
<rect x="110.68" y="64.5" width="12.5" height="16" fill="#ffec00"/>
<rect x="124.78" y="64.5" width="12.4" height="16" fill="#ffec00"/>
<rect x="138.68" y="64.5" width="12.5" height="16" fill="#bdff3a"/>
<rect x="152.78" y="64.5" width="11.8" height="16" fill="#7bff7b"/>
<rect x="110.68" y="80.5" width="12.5" height="19" fill="#ffec00"/>
<rect x="124.78" y="80.5" width="12.4" height="19" fill="#ffec00"/>
<rect x="138.68" y="80.5" width="12.5" height="19" fill="#ffc600"/>
<rect x="152.78" y="80.5" width="11.8" height="19" fill="#ffc600"/>
<rect x="110.68" y="99.5" width="12.5" height="4" fill="#ffec00"/>
<rect x="124.78" y="99.5" width="12.4" height="4" fill="#ffec00"/>
<rect x="138.68" y="99.5" width="12.5" height="4" fill="#efff08"/>
<rect x="152.78" y="99.5" width="11.8" height="4" fill="#efff08"/>
<rect x="138.68" y="115.5" width="12.5" height="4" fill="#ffb300"/>
<rect x="152.78" y="115.5" width="11.8" height="4" fill="#ffc600"/>
<rect x="110.68" y="119.5" width="12.5" height="12" fill="#5aff9c"/>
<rect x="124.78" y="119.5" width="12.4" height="12" fill="#5aff9c"/>
<rect x="138.68" y="119.5" width="12.5" height="12" fill="#5aff9c"/>
<rect x="152.78" y="119.5" width="11.8" height="12" fill="#5aff9c"/>
<rect x="110.68" y="131.5" width="12.5" height="5" fill="#deff19"/>
<rect x="124.78" y="131.5" width="12.4" height="5" fill="#deff19"/>
<rect x="138.68" y="131.5" width="12.5" height="5" fill="#bdff3a"/>
<rect x="152.78" y="131.5" width="11.8" height="5" fill="#bdff3a"/>
<rect x="110.68" y="136.5" width="12.5" height="8" fill="#efff08"/>
<rect x="124.78" y="136.5" width="12.4" height="8" fill="#deff19"/>
<rect x="138.68" y="136.5" width="12.5" height="8" fill="#adff4a"/>
<rect x="152.78" y="136.5" width="11.8" height="8" fill="#bdff3a"/>
<rect x="110.68" y="144.5" width="12.5" height="22" fill="#deff19"/>
<rect x="124.78" y="144.5" width="12.4" height="22" fill="#ceff29"/>
<rect x="138.68" y="144.5" width="12.5" height="22" fill="#adff4a"/>
<rect x="152.78" y="144.5" width="11.8" height="22" fill="#adff4a"/>
<rect x="110.68" y="166.5" width="12.5" height="37" fill="#ffec00"/>
<rect x="124.78" y="166.5" width="12.4" height="37" fill="#ffec00"/>
<rect x="138.68" y="166.5" width="12.5" height="37" fill="#bdff3a"/>
<rect x="152.78" y="166.5" width="11.8" height="37" fill="#9cff5a"/>
<rect x="110.68" y="203.5" width="12.5" height="11" fill="#bdff3a"/>
<rect x="124.78" y="203.5" width="12.4" height="11" fill="#adff4a"/>
<rect x="138.68" y="203.5" width="12.5" height="11" fill="#adff4a"/>
<rect x="152.78" y="203.5" width="11.8" height="11" fill="#9cff5a"/>
<rect x="110.68" y="214.5" width="12.5" height="7" fill="#ffec00"/>
<rect x="124.78" y="214.5" width="12.4" height="7" fill="#ffd000"/>
<rect x="138.68" y="214.5" width="12.5" height="7" fill="#ffc600"/>
<rect x="152.78" y="214.5" width="11.8" height="7" fill="#deff19"/>
<rect x="110.68" y="221.5" width="12.5" height="6" fill="#efff08"/>
<rect x="124.78" y="221.5" width="12.4" height="6" fill="#ffd900"/>
<rect x="138.68" y="221.5" width="12.5" height="6" fill="#ffd900"/>
<rect x="152.78" y="221.5" width="11.8" height="6" fill="#deff19"/>
<rect x="110.68" y="227.5" width="12.5" height="3" fill="#ffd900"/>
<rect x="124.78" y="227.5" width="12.4" height="3" fill="#efff08"/>
<rect x="138.68" y="227.5" width="12.5" height="3" fill="#deff19"/>
<rect x="152.78" y="227.5" width="11.8" height="3" fill="#adff4a"/>
<rect x="110.68" y="230.5" width="12.5" height="7" fill="#ffec00"/>
<rect x="124.78" y="230.5" width="12.4" height="7" fill="#e6ff10"/>
<rect x="138.68" y="230.5" width="12.5" height="7" fill="#9cff5a"/>
<rect x="152.78" y="230.5" width="11.8" height="7" fill="#adff4a"/>
<rect x="110.68" y="237.5" width="12.5" height="8" fill="#ceff29"/>
<rect x="124.78" y="237.5" width="12.4" height="8" fill="#84ff73"/>
<rect x="138.68" y="237.5" width="12.5" height="8" fill="#7bff7b"/>
<rect x="152.78" y="237.5" width="11.8" height="8" fill="#7bff7b"/>
<rect x="110.68" y="245.5" width="12.5" height="7" fill="#ceff29"/>
<rect x="124.78" y="245.5" width="12.4" height="7" fill="#ffec00"/>
<rect x="138.68" y="245.5" width="12.5" height="7" fill="#9cff5a"/>
<rect x="152.78" y="245.5" width="11.8" height="7" fill="#9cff5a"/>
<rect x="110.68" y="252.5" width="12.5" height="2" fill="#d6ff21"/>
<rect x="124.78" y="252.5" width="12.4" height="2" fill="#ceff29"/>
<rect x="138.68" y="252.5" width="12.5" height="2" fill="#84ff73"/>
<rect x="152.78" y="252.5" width="11.8" height="2" fill="#9cff5a"/>
<rect x="110.68" y="254.5" width="12.5" height="2" fill="#ffc600"/>
<rect x="124.78" y="254.5" width="12.4" height="2" fill="#ceff29"/>
<rect x="138.68" y="254.5" width="12.5" height="2" fill="#84ff73"/>
<rect x="152.78" y="254.5" width="11.8" height="2" fill="#9cff5a"/>
<rect x="110.68" y="256.5" width="12.5" height="6" fill="#d6ff21"/>
<rect x="124.78" y="256.5" width="12.4" height="6" fill="#ceff29"/>
<rect x="138.68" y="256.5" width="12.5" height="6" fill="#84ff73"/>
<rect x="152.78" y="256.5" width="11.8" height="6" fill="#9cff5a"/>
<rect x="110.68" y="262.5" width="12.5" height="6" fill="#deff19"/>
<rect x="124.78" y="262.5" width="12.4" height="6" fill="#ceff29"/>
<rect x="138.68" y="262.5" width="12.5" height="6" fill="#9cff5a"/>
<rect x="152.78" y="262.5" width="11.8" height="6" fill="#84ff73"/>
<rect x="110.68" y="268.5" width="12.5" height="9" fill="#f7f600"/>
<rect x="124.78" y="268.5" width="12.4" height="9" fill="#f7f600"/>
<rect x="138.68" y="268.5" width="12.5" height="9" fill="#bdff3a"/>
<rect x="152.78" y="268.5" width="11.8" height="9" fill="#84ff73"/>
<rect x="110.68" y="277.5" width="12.5" height="7" fill="#ceff29"/>
<rect x="124.78" y="277.5" width="12.4" height="7" fill="#deff19"/>
<rect x="138.68" y="277.5" width="12.5" height="7" fill="#adff4a"/>
<rect x="152.78" y="277.5" width="11.8" height="7" fill="#84ff73"/>
<rect x="110.68" y="284.5" width="12.5" height="4" fill="#deff19"/>
<rect x="124.78" y="284.5" width="12.4" height="4" fill="#efff08"/>
<rect x="138.68" y="284.5" width="12.5" height="4" fill="#bdff3a"/>
<rect x="152.78" y="284.5" width="11.8" height="4" fill="#adff4a"/>
<rect x="110.68" y="288.5" width="12.5" height="10" fill="#efff08"/>
<rect x="124.78" y="288.5" width="12.4" height="10" fill="#adff4a"/>
<rect x="138.68" y="288.5" width="12.5" height="10" fill="#bdff3a"/>
<rect x="152.78" y="288.5" width="11.8" height="10" fill="#9cff5a"/>
<rect x="110.68" y="298.5" width="12.5" height="9" fill="#e6ff10"/>
<rect x="124.78" y="298.5" width="12.4" height="9" fill="#bdff3a"/>
<rect x="138.68" y="298.5" width="12.5" height="9" fill="#bdff3a"/>
<rect x="152.78" y="298.5" width="11.8" height="9" fill="#84ff73"/>
<rect x="110.68" y="307.5" width="12.5" height="4" fill="#adff4a"/>
<rect x="124.78" y="307.5" width="12.4" height="4" fill="#adff4a"/>
<rect x="138.68" y="307.5" width="12.5" height="4" fill="#adff4a"/>
<rect x="152.78" y="307.5" width="11.8" height="4" fill="#adff4a"/>
<rect x="110.68" y="311.5" width="12.5" height="7" fill="#84ff73"/>
<rect x="124.78" y="311.5" width="12.4" height="7" fill="#bdff3a"/>
<rect x="138.68" y="311.5" width="12.5" height="7" fill="#ceff29"/>
<rect x="152.78" y="311.5" width="11.8" height="7" fill="#bdff3a"/>
<rect x="110.68" y="318.5" width="12.5" height="6" fill="#efff08"/>
<rect x="124.78" y="318.5" width="12.4" height="6" fill="#f7f600"/>
<rect x="138.68" y="318.5" width="12.5" height="6" fill="#bdff3a"/>
<rect x="152.78" y="318.5" width="11.8" height="6" fill="#adff4a"/>
<rect x="110.68" y="324.5" width="12.5" height="5" fill="#deff19"/>
<rect x="124.78" y="324.5" width="12.4" height="5" fill="#ffd900"/>
<rect x="138.68" y="324.5" width="12.5" height="5" fill="#bdff3a"/>
<rect x="152.78" y="324.5" width="11.8" height="5" fill="#9cff5a"/>
<rect x="110.68" y="329.5" width="12.5" height="10" fill="#deff19"/>
<rect x="124.78" y="329.5" width="12.4" height="10" fill="#e6ff10"/>
<rect x="138.68" y="329.5" width="12.5" height="10" fill="#ceff29"/>
<rect x="152.78" y="329.5" width="11.8" height="10" fill="#adff4a"/>
<rect x="110.68" y="339.5" width="12.5" height="10" fill="#ffec00"/>
<rect x="124.78" y="339.5" width="12.4" height="10" fill="#e6ff10"/>
<rect x="138.68" y="339.5" width="12.5" height="10" fill="#deff19"/>
<rect x="152.78" y="339.5" width="11.8" height="10" fill="#d6ff21"/>
<rect x="110.68" y="349.5" width="12.5" height="2" fill="#ffc600"/>
<rect x="124.78" y="349.5" width="12.4" height="2" fill="#ffc600"/>
<rect x="138.68" y="349.5" width="12.5" height="2" fill="#ffd900"/>
<rect x="152.78" y="349.5" width="11.8" height="2" fill="#ffd900"/>
<rect x="110.68" y="351.5" width="12.5" height="6" fill="#ffec00"/>
<rect x="124.78" y="351.5" width="12.4" height="6" fill="#efff08"/>
<rect x="138.68" y="351.5" width="12.5" height="6" fill="#deff19"/>
<rect x="152.78" y="351.5" width="11.8" height="6" fill="#ceff29"/>
<rect x="124.78" y="359.5" width="12.4" height="14" fill="#ffb300"/>
<rect x="110.68" y="388.5" width="12.5" height="5" fill="#ceff29"/>
<rect x="124.78" y="388.5" width="12.4" height="5" fill="#ffd900"/>
<rect x="138.68" y="388.5" width="12.5" height="5" fill="#ffb300"/>
<rect x="152.78" y="388.5" width="11.8" height="5" fill="#deff19"/>
<rect x="110.68" y="393.5" width="12.5" height="9" fill="#ceff29"/>
<rect x="124.78" y="393.5" width="12.4" height="9" fill="#efff08"/>
<rect x="138.68" y="393.5" width="12.5" height="9" fill="#efff08"/>
<rect x="152.78" y="393.5" width="11.8" height="9" fill="#deff19"/>
<rect x="110.68" y="402.5" width="12.5" height="4" fill="#efff08"/>
<rect x="124.78" y="402.5" width="12.4" height="4" fill="#efff08"/>
<rect x="138.68" y="402.5" width="12.5" height="4" fill="#efff08"/>
<rect x="152.78" y="402.5" width="11.8" height="4" fill="#efff08"/>
<rect x="110.68" y="406.5" width="12.5" height="6" fill="#ceff29"/>
<rect x="124.78" y="406.5" width="12.4" height="6" fill="#ceff29"/>
<rect x="138.68" y="406.5" width="12.5" height="6" fill="#deff19"/>
<rect x="152.78" y="406.5" width="11.8" height="6" fill="#ceff29"/>
<rect x="110.68" y="412.5" width="12.5" height="4" fill="#ffbd00"/>
<rect x="124.78" y="412.5" width="12.4" height="4" fill="#ffc600"/>
<rect x="138.68" y="412.5" width="12.5" height="4" fill="#ffd900"/>
<rect x="152.78" y="412.5" width="11.8" height="4" fill="#ffaa00"/>
<rect x="110.68" y="416.5" width="12.5" height="3" fill="#deff19"/>
<rect x="124.78" y="416.5" width="12.4" height="3" fill="#efff08"/>
<rect x="138.68" y="416.5" width="12.5" height="3" fill="#ffec00"/>
<rect x="152.78" y="416.5" width="11.8" height="3" fill="#deff19"/>
<rect x="110.68" y="419.5" width="12.5" height="8" fill="#ffc600"/>
<rect x="124.78" y="419.5" width="12.4" height="8" fill="#ffc600"/>
<rect x="138.68" y="419.5" width="12.5" height="8" fill="#efff08"/>
<rect x="152.78" y="419.5" width="11.8" height="8" fill="#deff19"/>
<rect x="110.68" y="427.5" width="12.5" height="3" fill="#deff19"/>
<rect x="124.78" y="427.5" width="12.4" height="3" fill="#deff19"/>
<rect x="138.68" y="427.5" width="12.5" height="3" fill="#9cff5a"/>
<rect x="152.78" y="427.5" width="11.8" height="3" fill="#bdff3a"/>
<rect x="110.68" y="430.5" width="12.5" height="5" fill="#ffb300"/>
<rect x="124.78" y="430.5" width="12.4" height="5" fill="#ffb300"/>
<rect x="138.68" y="430.5" width="12.5" height="5" fill="#adff4a"/>
<rect x="152.78" y="430.5" width="11.8" height="5" fill="#efff08"/>
<rect x="138.68" y="435.5" width="12.5" height="18" fill="#adff4a"/>
<rect x="152.78" y="435.5" width="11.8" height="18" fill="#efff08"/>
<rect x="124.78" y="453.5" width="12.4" height="11" fill="#ffaa00"/>
<rect x="138.68" y="453.5" width="12.5" height="11" fill="#efff08"/>
<rect x="152.78" y="453.5" width="11.8" height="11" fill="#efff08"/>
<rect x="152.78" y="483.5" width="11.8" height="6" fill="#ffbd00"/>
<rect x="152.78" y="489.5" width="11.8" height="3" fill="#ffb300"/>
<rect x="124.78" y="492.5" width="12.4" height="15" fill="#efff08"/>
<rect x="138.68" y="492.5" width="12.5" height="15" fill="#bdff3a"/>
<rect x="152.78" y="492.5" width="11.8" height="15" fill="#efff08"/>
<rect x="110.68" y="507.5" width="12.5" height="3" fill="#efff08"/>
<rect x="124.78" y="507.5" width="12.4" height="3" fill="#efff08"/>
<rect x="138.68" y="507.5" width="12.5" height="3" fill="#ceff29"/>
<rect x="152.78" y="507.5" width="11.8" height="3" fill="#efff08"/>
<rect x="110.68" y="510.5" width="12.5" height="7" fill="#ffaa00"/>
<rect x="124.78" y="510.5" width="12.4" height="7" fill="#ffc600"/>
<rect x="138.68" y="510.5" width="12.5" height="7" fill="#ceff29"/>
<rect x="152.78" y="510.5" width="11.8" height="7" fill="#ffd900"/>
<rect x="110.68" y="517.5" width="12.5" height="9" fill="#ffd900"/>
<rect x="124.78" y="517.5" width="12.4" height="9" fill="#ffb300"/>
<rect x="138.68" y="517.5" width="12.5" height="9" fill="#ffaa00"/>
<rect x="152.78" y="517.5" width="11.8" height="9" fill="#ffd900"/>
<rect x="110.68" y="526.5" width="12.5" height="4" fill="#ceff29"/>
<rect x="124.78" y="526.5" width="12.4" height="4" fill="#ceff29"/>
<rect x="138.68" y="526.5" width="12.5" height="4" fill="#ceff29"/>
<rect x="152.78" y="526.5" width="11.8" height="4" fill="#ceff29"/>
<rect x="138.68" y="530.5" width="12.5" height="15" fill="#ffc600"/>
<rect x="152.78" y="530.5" width="11.8" height="15" fill="#ffb300"/>
<rect x="110.68" y="545.5" width="12.5" height="6" fill="#ffd900"/>
<rect x="124.78" y="545.5" width="12.4" height="6" fill="#ffc600"/>
<rect x="138.68" y="545.5" width="12.5" height="6" fill="#ffc600"/>
<rect x="152.78" y="545.5" width="11.8" height="6" fill="#ffec00"/>
<rect x="110.68" y="551.5" width="12.5" height="5" fill="#efff08"/>
<rect x="124.78" y="551.5" width="12.4" height="5" fill="#ffb300"/>
<rect x="138.68" y="551.5" width="12.5" height="5" fill="#ffb300"/>
<rect x="152.78" y="551.5" width="11.8" height="5" fill="#ffec00"/>
<rect x="138.68" y="556.5" width="12.5" height="3" fill="#ffc600"/>
<rect x="152.78" y="556.5" width="11.8" height="3" fill="#ffec00"/>
<rect x="110.68" y="559.5" width="12.5" height="7" fill="#efff08"/>
<rect x="124.78" y="559.5" width="12.4" height="7" fill="#efff08"/>
<rect x="138.68" y="559.5" width="12.5" height="7" fill="#efff08"/>
<rect x="152.78" y="559.5" width="11.8" height="7" fill="#efff08"/>
<rect x="110.68" y="572.5" width="12.5" height="2" fill="#ffc600"/>
<rect x="124.78" y="572.5" width="12.4" height="2" fill="#ffc600"/>
<rect x="138.68" y="572.5" width="12.5" height="2" fill="#ffc600"/>
<rect x="152.78" y="572.5" width="11.8" height="2" fill="#ffc600"/>
<rect x="124.78" y="580.5" width="12.4" height="17" fill="#ffec00"/>
<rect x="138.68" y="580.5" width="12.5" height="17" fill="#efff08"/>
<rect x="152.78" y="580.5" width="11.8" height="17" fill="#ffec00"/>
<rect x="110.68" y="597.5" width="12.5" height="6" fill="#ffc600"/>
<rect x="124.78" y="597.5" width="12.4" height="6" fill="#ffbd00"/>
<rect x="138.68" y="597.5" width="12.5" height="6" fill="#ffd900"/>
<rect x="152.78" y="597.5" width="11.8" height="6" fill="#deff19"/>
<rect x="110.68" y="603.5" width="12.5" height="6" fill="#ceff29"/>
<rect x="124.78" y="603.5" width="12.4" height="6" fill="#adff4a"/>
<rect x="138.68" y="603.5" width="12.5" height="6" fill="#bdff3a"/>
<rect x="152.78" y="603.5" width="11.8" height="6" fill="#ceff29"/>
<rect x="110.68" y="609.5" width="12.5" height="10" fill="#ffd900"/>
<rect x="124.78" y="609.5" width="12.4" height="10" fill="#ffd000"/>
<rect x="138.68" y="609.5" width="12.5" height="10" fill="#f7f600"/>
<rect x="152.78" y="609.5" width="11.8" height="10" fill="#deff19"/>
<rect x="110.68" y="619.5" width="12.5" height="3" fill="#ffb300"/>
<rect x="124.78" y="619.5" width="12.4" height="3" fill="#ffb300"/>
<rect x="138.68" y="619.5" width="12.5" height="3" fill="#ffd900"/>
<rect x="152.78" y="619.5" width="11.8" height="3" fill="#ffc600"/>
<rect x="110.68" y="622.5" width="12.5" height="2" fill="#9cff5a"/>
<rect x="124.78" y="622.5" width="12.4" height="2" fill="#9cff5a"/>
<rect x="138.68" y="622.5" width="12.5" height="2" fill="#adff4a"/>
<rect x="152.78" y="622.5" width="11.8" height="2" fill="#bdff3a"/>
<rect x="110.68" y="624.5" width="12.5" height="5" fill="#ffb300"/>
<rect x="124.78" y="624.5" width="12.4" height="5" fill="#ffb300"/>
<rect x="138.68" y="624.5" width="12.5" height="5" fill="#ffec00"/>
<rect x="152.78" y="624.5" width="11.8" height="5" fill="#deff19"/>
<rect x="110.68" y="629.5" width="12.5" height="4" fill="#deff19"/>
<rect x="124.78" y="629.5" width="12.4" height="4" fill="#deff19"/>
<rect x="138.68" y="629.5" width="12.5" height="4" fill="#deff19"/>
<rect x="152.78" y="629.5" width="11.8" height="4" fill="#deff19"/>
<rect x="110.68" y="633.5" width="12.5" height="6.5" fill="#adff4a"/>
<rect x="124.78" y="633.5" width="12.4" height="6.5" fill="#bdff3a"/>
<rect x="138.68" y="633.5" width="12.5" height="6.5" fill="#bdff3a"/>
<rect x="152.78" y="633.5" width="11.8" height="6.5" fill="#bdff3a"/>
</g>
<rect x="151.18" y="80.5" width="1.6" height="19" fill="#18b8f4" opacity="0.35"/>
<rect x="123.18" y="103.5" width="1.6" height="6" fill="#40e0d8" opacity="0.85"/>
<rect x="137.18" y="103.5" width="1.5" height="6" fill="#40e0d8" opacity="0.85"/>
<rect x="151.18" y="103.5" width="1.6" height="6" fill="#18b8f4" opacity="0.85"/>
<rect x="123.18" y="109.5" width="1.6" height="2" fill="#18b8f4" opacity="0.75"/>
<rect x="137.18" y="109.5" width="1.5" height="2" fill="#18b8f4" opacity="0.7"/>
<rect x="151.18" y="109.5" width="1.6" height="2" fill="#18b8f4" opacity="0.6"/>
<rect x="123.18" y="111.5" width="1.6" height="4" fill="#40e0d8" opacity="0.85"/>
<rect x="137.18" y="111.5" width="1.5" height="4" fill="#18b8f4" opacity="0.85"/>
<rect x="151.18" y="111.5" width="1.6" height="4" fill="#18b8f4" opacity="0.7"/>
<rect x="123.18" y="115.5" width="1.6" height="4" fill="#18b8f4" opacity="0.55"/>
<rect x="137.18" y="115.5" width="1.5" height="4" fill="#18b8f4" opacity="0.5"/>
<rect x="151.18" y="115.5" width="1.6" height="4" fill="#18b8f4" opacity="0.4"/>
<rect x="137.18" y="214.5" width="1.5" height="7" fill="#18b8f4" opacity="0.33"/>
<rect x="123.18" y="349.5" width="1.6" height="2" fill="#18b8f4" opacity="0.35"/>
<rect x="137.18" y="349.5" width="1.5" height="2" fill="#18b8f4" opacity="0.3"/>
<rect x="123.18" y="357.5" width="1.6" height="2" fill="#f0c020" opacity="0.9"/>
<rect x="137.18" y="357.5" width="1.5" height="2" fill="#f0c020" opacity="0.9"/>
<rect x="151.18" y="357.5" width="1.6" height="2" fill="#f0c020" opacity="0.9"/>
<rect x="123.18" y="359.5" width="1.6" height="14" fill="#18b8f4" opacity="0.55"/>
<rect x="137.18" y="359.5" width="1.5" height="14" fill="#18b8f4" opacity="0.53"/>
<rect x="151.18" y="359.5" width="1.6" height="14" fill="#18b8f4" opacity="0.62"/>
<rect x="123.18" y="373.5" width="1.6" height="4" fill="#40e0d8" opacity="0.85"/>
<rect x="137.18" y="373.5" width="1.5" height="4" fill="#40e0d8" opacity="0.85"/>
<rect x="151.18" y="373.5" width="1.6" height="4" fill="#40e0d8" opacity="0.85"/>
<rect x="123.18" y="377.5" width="1.6" height="5" fill="#40e0d8" opacity="0.85"/>
<rect x="137.18" y="377.5" width="1.5" height="5" fill="#40e0d8" opacity="0.85"/>
<rect x="151.18" y="377.5" width="1.6" height="5" fill="#40e0d8" opacity="0.85"/>
<rect x="123.18" y="382.5" width="1.6" height="2" fill="#18b8f4" opacity="0.55"/>
<rect x="137.18" y="382.5" width="1.5" height="2" fill="#18b8f4" opacity="0.55"/>
<rect x="151.18" y="382.5" width="1.6" height="2" fill="#18b8f4" opacity="0.55"/>
<rect x="123.18" y="384.5" width="1.6" height="4" fill="#18b8f4" opacity="0.85"/>
<rect x="137.18" y="384.5" width="1.5" height="4" fill="#18b8f4" opacity="0.85"/>
<rect x="151.18" y="384.5" width="1.6" height="4" fill="#18b8f4" opacity="0.82"/>
<rect x="137.18" y="388.5" width="1.5" height="5" fill="#18b8f4" opacity="0.35"/>
<rect x="123.18" y="412.5" width="1.6" height="4" fill="#18b8f4" opacity="0.38"/>
<rect x="137.18" y="412.5" width="1.5" height="4" fill="#18b8f4" opacity="0.3"/>
<rect x="151.18" y="412.5" width="1.6" height="4" fill="#18b8f4" opacity="0.38"/>
<rect x="123.18" y="419.5" width="1.6" height="8" fill="#18b8f4" opacity="0.35"/>
<rect x="123.18" y="430.5" width="1.6" height="5" fill="#18b8f4" opacity="0.45"/>
<rect x="123.18" y="435.5" width="1.6" height="18" fill="#18b8f4" opacity="0.6"/>
<rect x="123.18" y="453.5" width="1.6" height="11" fill="#18b8f4" opacity="0.52"/>
<rect x="123.18" y="464.5" width="1.6" height="10" fill="#18b8f4" opacity="0.78"/>
<rect x="137.18" y="464.5" width="1.5" height="10" fill="#18b8f4" opacity="0.65"/>
<rect x="151.18" y="464.5" width="1.6" height="10" fill="#18b8f4" opacity="0.65"/>
<rect x="123.18" y="474.5" width="1.6" height="9" fill="#40e0d8" opacity="0.85"/>
<rect x="137.18" y="474.5" width="1.5" height="9" fill="#40e0d8" opacity="0.85"/>
<rect x="151.18" y="474.5" width="1.6" height="9" fill="#40e0d8" opacity="0.85"/>
<rect x="123.18" y="483.5" width="1.6" height="6" fill="#18b8f4" opacity="0.73"/>
<rect x="137.18" y="483.5" width="1.5" height="6" fill="#18b8f4" opacity="0.62"/>
<rect x="151.18" y="483.5" width="1.6" height="6" fill="#18b8f4" opacity="0.52"/>
<rect x="123.18" y="489.5" width="1.6" height="3" fill="#18b8f4" opacity="0.75"/>
<rect x="137.18" y="489.5" width="1.5" height="3" fill="#18b8f4" opacity="0.8"/>
<rect x="151.18" y="489.5" width="1.6" height="3" fill="#18b8f4" opacity="0.7"/>
<rect x="123.18" y="510.5" width="1.6" height="7" fill="#18b8f4" opacity="0.42"/>
<rect x="123.18" y="517.5" width="1.6" height="9" fill="#18b8f4" opacity="0.35"/>
<rect x="137.18" y="517.5" width="1.5" height="9" fill="#18b8f4" opacity="0.48"/>
<rect x="151.18" y="517.5" width="1.6" height="9" fill="#18b8f4" opacity="0.38"/>
<rect x="123.18" y="530.5" width="1.6" height="15" fill="#18b8f4" opacity="0.68"/>
<rect x="137.18" y="530.5" width="1.5" height="15" fill="#18b8f4" opacity="0.48"/>
<rect x="151.18" y="530.5" width="1.6" height="15" fill="#18b8f4" opacity="0.4"/>
<rect x="123.18" y="545.5" width="1.6" height="6" fill="#18b8f4" opacity="0.3"/>
<rect x="137.18" y="545.5" width="1.5" height="6" fill="#18b8f4" opacity="0.35"/>
<rect x="137.18" y="551.5" width="1.5" height="5" fill="#18b8f4" opacity="0.45"/>
<rect x="123.18" y="556.5" width="1.6" height="3" fill="#18b8f4" opacity="0.75"/>
<rect x="137.18" y="556.5" width="1.5" height="3" fill="#18b8f4" opacity="0.55"/>
<rect x="123.18" y="566.5" width="1.6" height="6" fill="#40e0d8" opacity="0.85"/>
<rect x="137.18" y="566.5" width="1.5" height="6" fill="#40e0d8" opacity="0.85"/>
<rect x="151.18" y="566.5" width="1.6" height="6" fill="#40e0d8" opacity="0.85"/>
<rect x="123.18" y="572.5" width="1.6" height="2" fill="#18b8f4" opacity="0.35"/>
<rect x="137.18" y="572.5" width="1.5" height="2" fill="#18b8f4" opacity="0.35"/>
<rect x="151.18" y="572.5" width="1.6" height="2" fill="#18b8f4" opacity="0.35"/>
<rect x="123.18" y="574.5" width="1.6" height="6" fill="#40e0d8" opacity="0.85"/>
<rect x="137.18" y="574.5" width="1.5" height="6" fill="#40e0d8" opacity="0.85"/>
<rect x="151.18" y="574.5" width="1.6" height="6" fill="#40e0d8" opacity="0.85"/>
<rect x="123.18" y="580.5" width="1.6" height="17" fill="#18b8f4" opacity="0.35"/>
<rect x="123.18" y="597.5" width="1.6" height="6" fill="#18b8f4" opacity="0.38"/>
<rect x="137.18" y="597.5" width="1.5" height="6" fill="#18b8f4" opacity="0.33"/>
<rect x="123.18" y="619.5" width="1.6" height="3" fill="#18b8f4" opacity="0.45"/>
<rect x="137.18" y="619.5" width="1.5" height="3" fill="#18b8f4" opacity="0.35"/>
<rect x="151.18" y="619.5" width="1.6" height="3" fill="#18b8f4" opacity="0.3"/>
<rect x="123.18" y="624.5" width="1.6" height="5" fill="#18b8f4" opacity="0.45"/>
<g filter="url(#nzh1)">
<rect x="110.68" y="103.5" width="12.5" height="6" fill="#ff2f00"/>
<rect x="124.78" y="103.5" width="12.4" height="6" fill="#ff4200"/>
<rect x="138.68" y="103.5" width="12.5" height="6" fill="#ff5500"/>
<rect x="152.78" y="103.5" width="11.8" height="6" fill="#ff6800"/>
<rect x="110.68" y="109.5" width="12.5" height="2" fill="#ff7b00"/>
<rect x="124.78" y="109.5" width="12.4" height="2" fill="#ff7b00"/>
<rect x="138.68" y="109.5" width="12.5" height="2" fill="#ff8e00"/>
<rect x="152.78" y="109.5" width="11.8" height="2" fill="#ffa100"/>
<rect x="110.68" y="111.5" width="12.5" height="4" fill="#ff4200"/>
<rect x="124.78" y="111.5" width="12.4" height="4" fill="#ff5500"/>
<rect x="138.68" y="111.5" width="12.5" height="4" fill="#ff7b00"/>
<rect x="152.78" y="111.5" width="11.8" height="4" fill="#ff8e00"/>
<rect x="110.68" y="115.5" width="12.5" height="4" fill="#ffa100"/>
<rect x="124.78" y="115.5" width="12.4" height="4" fill="#ffa100"/>
<rect x="110.68" y="359.5" width="12.5" height="14" fill="#ff8e00"/>
<rect x="138.68" y="359.5" width="12.5" height="14" fill="#ff9700"/>
<rect x="152.78" y="359.5" width="11.8" height="14" fill="#ff8e00"/>
<rect x="110.68" y="373.5" width="12.5" height="4" fill="#ff2600"/>
<rect x="124.78" y="373.5" width="12.4" height="4" fill="#ff2600"/>
<rect x="138.68" y="373.5" width="12.5" height="4" fill="#ff2f00"/>
<rect x="152.78" y="373.5" width="11.8" height="4" fill="#ff5e00"/>
<rect x="110.68" y="377.5" width="12.5" height="5" fill="#ff1c00"/>
<rect x="124.78" y="377.5" width="12.4" height="5" fill="#ff1c00"/>
<rect x="138.68" y="377.5" width="12.5" height="5" fill="#ff1c00"/>
<rect x="152.78" y="377.5" width="11.8" height="5" fill="#ff4200"/>
<rect x="110.68" y="382.5" width="12.5" height="2" fill="#ffa100"/>
<rect x="124.78" y="382.5" width="12.4" height="2" fill="#ffa100"/>
<rect x="138.68" y="382.5" width="12.5" height="2" fill="#ffa100"/>
<rect x="152.78" y="382.5" width="11.8" height="2" fill="#ffa100"/>
<rect x="110.68" y="384.5" width="12.5" height="4" fill="#ff6800"/>
<rect x="124.78" y="384.5" width="12.4" height="4" fill="#ff6800"/>
<rect x="138.68" y="384.5" width="12.5" height="4" fill="#ff6800"/>
<rect x="152.78" y="384.5" width="11.8" height="4" fill="#ff7100"/>
<rect x="110.68" y="435.5" width="12.5" height="18" fill="#ff8e00"/>
<rect x="124.78" y="435.5" width="12.4" height="18" fill="#ffa100"/>
<rect x="110.68" y="453.5" width="12.5" height="11" fill="#ffa100"/>
<rect x="110.68" y="464.5" width="12.5" height="10" fill="#ff7100"/>
<rect x="124.78" y="464.5" width="12.4" height="10" fill="#ff7b00"/>
<rect x="138.68" y="464.5" width="12.5" height="10" fill="#ffa100"/>
<rect x="152.78" y="464.5" width="11.8" height="10" fill="#ff7b00"/>
<rect x="110.68" y="474.5" width="12.5" height="9" fill="#ff2f00"/>
<rect x="124.78" y="474.5" width="12.4" height="9" fill="#ff2f00"/>
<rect x="138.68" y="474.5" width="12.5" height="9" fill="#ff3900"/>
<rect x="152.78" y="474.5" width="11.8" height="9" fill="#ff6800"/>
<rect x="110.68" y="483.5" width="12.5" height="6" fill="#ff6800"/>
<rect x="124.78" y="483.5" width="12.4" height="6" fill="#ff9700"/>
<rect x="138.68" y="483.5" width="12.5" height="6" fill="#ff8e00"/>
<rect x="110.68" y="489.5" width="12.5" height="3" fill="#ff6800"/>
<rect x="124.78" y="489.5" width="12.4" height="3" fill="#ff8e00"/>
<rect x="138.68" y="489.5" width="12.5" height="3" fill="#ff5500"/>
<rect x="110.68" y="492.5" width="12.5" height="15" fill="#ffa100"/>
<rect x="110.68" y="530.5" width="12.5" height="15" fill="#ff7b00"/>
<rect x="124.78" y="530.5" width="12.4" height="15" fill="#ff9700"/>
<rect x="110.68" y="556.5" width="12.5" height="3" fill="#ff7b00"/>
<rect x="124.78" y="556.5" width="12.4" height="3" fill="#ff7b00"/>
<rect x="110.68" y="566.5" width="12.5" height="6" fill="#ff6800"/>
<rect x="124.78" y="566.5" width="12.4" height="6" fill="#ff2600"/>
<rect x="138.68" y="566.5" width="12.5" height="6" fill="#ff2f00"/>
<rect x="152.78" y="566.5" width="11.8" height="6" fill="#ff7b00"/>
<rect x="110.68" y="574.5" width="12.5" height="6" fill="#ff1c00"/>
<rect x="124.78" y="574.5" width="12.4" height="6" fill="#ff1c00"/>
<rect x="138.68" y="574.5" width="12.5" height="6" fill="#ff1c00"/>
<rect x="152.78" y="574.5" width="11.8" height="6" fill="#ff2f00"/>
<rect x="110.68" y="580.5" width="12.5" height="17" fill="#ffa100"/>
</g>
<rect x="110.68" y="357.5" width="12.5" height="2" fill="#970000"/>
<rect x="124.78" y="357.5" width="12.4" height="2" fill="#970000"/>
<rect x="138.68" y="357.5" width="12.5" height="2" fill="#970000"/>
<rect x="152.78" y="357.5" width="11.8" height="2" fill="#970000"/>
<rect x="86.68" y="103.5" width="24" height="15" fill="url(#gl)" opacity="0.8"/>
<rect x="164.58" y="103.5" width="11.5" height="15" fill="url(#gr)" opacity="0.52"/>
<rect x="86.68" y="357.5" width="24" height="6" fill="url(#gl)" opacity="0.6"/>
<rect x="164.58" y="357.5" width="11.5" height="6" fill="url(#gr)" opacity="0.39"/>
<rect x="86.68" y="373.5" width="24" height="14" fill="url(#gl)" opacity="1"/>
<rect x="164.58" y="373.5" width="11.5" height="14" fill="url(#gr)" opacity="0.65"/>
<rect x="86.68" y="388.5" width="24" height="9" fill="url(#gl)" opacity="0.5"/>
<rect x="164.58" y="388.5" width="11.5" height="9" fill="url(#gr)" opacity="0.33"/>
<rect x="86.68" y="464.5" width="24" height="28" fill="url(#gl)" opacity="1"/>
<rect x="164.58" y="464.5" width="11.5" height="28" fill="url(#gr)" opacity="0.65"/>
<rect x="86.68" y="517.5" width="24" height="27" fill="url(#gl)" opacity="0.6"/>
<rect x="164.58" y="517.5" width="11.5" height="27" fill="url(#gr)" opacity="0.39"/>
<rect x="86.68" y="566.5" width="24" height="14" fill="url(#gl)" opacity="1"/>
<rect x="164.58" y="566.5" width="11.5" height="14" fill="url(#gr)" opacity="0.65"/>
<rect x="86.68" y="586.5" width="24" height="41" fill="url(#gl)" opacity="0.5"/>
<rect x="164.58" y="586.5" width="11.5" height="41" fill="url(#gr)" opacity="0.33"/>
<rect x="86.68" y="435.5" width="24" height="18" fill="url(#gl)" opacity="0.4"/>
<rect x="164.58" y="435.5" width="11.5" height="18" fill="url(#gr)" opacity="0.26"/>
<rect x="110.68" y="-0.5" width="1" height="104" fill="#38dce0" opacity="0.8"/>
<rect x="122.18" y="-0.5" width="1" height="104" fill="#38dce0" opacity="0.8"/>
<rect x="111.68" y="-0.5" width="0.9" height="104" fill="#80f890" opacity="0.28"/>
<rect x="121.28" y="-0.5" width="0.9" height="104" fill="#80f890" opacity="0.28"/>
<rect x="124.78" y="-0.5" width="1" height="104" fill="#38dce0" opacity="0.8"/>
<rect x="136.18" y="-0.5" width="1" height="104" fill="#38dce0" opacity="0.8"/>
<rect x="125.78" y="-0.5" width="0.9" height="104" fill="#80f890" opacity="0.28"/>
<rect x="135.28" y="-0.5" width="0.9" height="104" fill="#80f890" opacity="0.28"/>
<rect x="138.68" y="-0.5" width="1" height="104" fill="#38dce0" opacity="0.8"/>
<rect x="150.18" y="-0.5" width="1" height="104" fill="#38dce0" opacity="0.8"/>
<rect x="139.68" y="-0.5" width="0.9" height="104" fill="#80f890" opacity="0.28"/>
<rect x="149.28" y="-0.5" width="0.9" height="104" fill="#80f890" opacity="0.28"/>
<rect x="152.78" y="-0.5" width="1" height="104" fill="#38dce0" opacity="0.8"/>
<rect x="163.58" y="-0.5" width="1" height="104" fill="#38dce0" opacity="0.8"/>
<rect x="153.78" y="-0.5" width="0.9" height="104" fill="#80f890" opacity="0.28"/>
<rect x="162.68" y="-0.5" width="0.9" height="104" fill="#80f890" opacity="0.28"/>
<rect x="110.68" y="103.5" width="1" height="16" fill="#a0f060" opacity="0.75"/>
<rect x="122.18" y="103.5" width="1" height="16" fill="#a0f060" opacity="0.75"/>
<rect x="111.68" y="103.5" width="0.9" height="16" fill="#f0f020" opacity="0.3"/>
<rect x="121.28" y="103.5" width="0.9" height="16" fill="#f0f020" opacity="0.3"/>
<rect x="124.78" y="103.5" width="1" height="16" fill="#a0f060" opacity="0.75"/>
<rect x="136.18" y="103.5" width="1" height="16" fill="#a0f060" opacity="0.75"/>
<rect x="125.78" y="103.5" width="0.9" height="16" fill="#f0f020" opacity="0.3"/>
<rect x="135.28" y="103.5" width="0.9" height="16" fill="#f0f020" opacity="0.3"/>
<rect x="138.68" y="103.5" width="1" height="12" fill="#a0f060" opacity="0.75"/>
<rect x="150.18" y="103.5" width="1" height="12" fill="#a0f060" opacity="0.75"/>
<rect x="139.68" y="103.5" width="0.9" height="12" fill="#f0f020" opacity="0.3"/>
<rect x="149.28" y="103.5" width="0.9" height="12" fill="#f0f020" opacity="0.3"/>
<rect x="152.78" y="103.5" width="1" height="12" fill="#a0f060" opacity="0.75"/>
<rect x="163.58" y="103.5" width="1" height="12" fill="#a0f060" opacity="0.75"/>
<rect x="153.78" y="103.5" width="0.9" height="12" fill="#f0f020" opacity="0.3"/>
<rect x="162.68" y="103.5" width="0.9" height="12" fill="#f0f020" opacity="0.3"/>
<rect x="138.68" y="115.5" width="1" height="242" fill="#38dce0" opacity="0.8"/>
<rect x="150.18" y="115.5" width="1" height="242" fill="#38dce0" opacity="0.8"/>
<rect x="139.68" y="115.5" width="0.9" height="242" fill="#80f890" opacity="0.28"/>
<rect x="149.28" y="115.5" width="0.9" height="242" fill="#80f890" opacity="0.28"/>
<rect x="152.78" y="115.5" width="1" height="242" fill="#38dce0" opacity="0.8"/>
<rect x="163.58" y="115.5" width="1" height="242" fill="#38dce0" opacity="0.8"/>
<rect x="153.78" y="115.5" width="0.9" height="242" fill="#80f890" opacity="0.28"/>
<rect x="162.68" y="115.5" width="0.9" height="242" fill="#80f890" opacity="0.28"/>
<rect x="110.68" y="119.5" width="1" height="238" fill="#38dce0" opacity="0.8"/>
<rect x="122.18" y="119.5" width="1" height="238" fill="#38dce0" opacity="0.8"/>
<rect x="111.68" y="119.5" width="0.9" height="238" fill="#80f890" opacity="0.28"/>
<rect x="121.28" y="119.5" width="0.9" height="238" fill="#80f890" opacity="0.28"/>
<rect x="124.78" y="119.5" width="1" height="238" fill="#38dce0" opacity="0.8"/>
<rect x="136.18" y="119.5" width="1" height="238" fill="#38dce0" opacity="0.8"/>
<rect x="125.78" y="119.5" width="0.9" height="238" fill="#80f890" opacity="0.28"/>
<rect x="135.28" y="119.5" width="0.9" height="238" fill="#80f890" opacity="0.28"/>
<rect x="110.68" y="357.5" width="1" height="31" fill="#a0f060" opacity="0.75"/>
<rect x="122.18" y="357.5" width="1" height="31" fill="#a0f060" opacity="0.75"/>
<rect x="111.68" y="357.5" width="0.9" height="31" fill="#f0f020" opacity="0.3"/>
<rect x="121.28" y="357.5" width="0.9" height="31" fill="#f0f020" opacity="0.3"/>
<rect x="124.78" y="357.5" width="1" height="2" fill="#a0f060" opacity="0.75"/>
<rect x="136.18" y="357.5" width="1" height="2" fill="#a0f060" opacity="0.75"/>
<rect x="125.78" y="357.5" width="0.9" height="2" fill="#f0f020" opacity="0.3"/>
<rect x="135.28" y="357.5" width="0.9" height="2" fill="#f0f020" opacity="0.3"/>
<rect x="138.68" y="357.5" width="1" height="31" fill="#a0f060" opacity="0.75"/>
<rect x="150.18" y="357.5" width="1" height="31" fill="#a0f060" opacity="0.75"/>
<rect x="139.68" y="357.5" width="0.9" height="31" fill="#f0f020" opacity="0.3"/>
<rect x="149.28" y="357.5" width="0.9" height="31" fill="#f0f020" opacity="0.3"/>
<rect x="152.78" y="357.5" width="1" height="31" fill="#a0f060" opacity="0.75"/>
<rect x="163.58" y="357.5" width="1" height="31" fill="#a0f060" opacity="0.75"/>
<rect x="153.78" y="357.5" width="0.9" height="31" fill="#f0f020" opacity="0.3"/>
<rect x="162.68" y="357.5" width="0.9" height="31" fill="#f0f020" opacity="0.3"/>
<rect x="124.78" y="359.5" width="1" height="14" fill="#38dce0" opacity="0.8"/>
<rect x="136.18" y="359.5" width="1" height="14" fill="#38dce0" opacity="0.8"/>
<rect x="125.78" y="359.5" width="0.9" height="14" fill="#80f890" opacity="0.28"/>
<rect x="135.28" y="359.5" width="0.9" height="14" fill="#80f890" opacity="0.28"/>
<rect x="124.78" y="373.5" width="1" height="15" fill="#a0f060" opacity="0.75"/>
<rect x="136.18" y="373.5" width="1" height="15" fill="#a0f060" opacity="0.75"/>
<rect x="125.78" y="373.5" width="0.9" height="15" fill="#f0f020" opacity="0.3"/>
<rect x="135.28" y="373.5" width="0.9" height="15" fill="#f0f020" opacity="0.3"/>
<rect x="110.68" y="388.5" width="1" height="47" fill="#38dce0" opacity="0.8"/>
<rect x="122.18" y="388.5" width="1" height="47" fill="#38dce0" opacity="0.8"/>
<rect x="111.68" y="388.5" width="0.9" height="47" fill="#80f890" opacity="0.28"/>
<rect x="121.28" y="388.5" width="0.9" height="47" fill="#80f890" opacity="0.28"/>
<rect x="124.78" y="388.5" width="1" height="47" fill="#38dce0" opacity="0.8"/>
<rect x="136.18" y="388.5" width="1" height="47" fill="#38dce0" opacity="0.8"/>
<rect x="125.78" y="388.5" width="0.9" height="47" fill="#80f890" opacity="0.28"/>
<rect x="135.28" y="388.5" width="0.9" height="47" fill="#80f890" opacity="0.28"/>
<rect x="138.68" y="388.5" width="1" height="76" fill="#38dce0" opacity="0.8"/>
<rect x="150.18" y="388.5" width="1" height="76" fill="#38dce0" opacity="0.8"/>
<rect x="139.68" y="388.5" width="0.9" height="76" fill="#80f890" opacity="0.28"/>
<rect x="149.28" y="388.5" width="0.9" height="76" fill="#80f890" opacity="0.28"/>
<rect x="152.78" y="388.5" width="1" height="76" fill="#38dce0" opacity="0.8"/>
<rect x="163.58" y="388.5" width="1" height="76" fill="#38dce0" opacity="0.8"/>
<rect x="153.78" y="388.5" width="0.9" height="76" fill="#80f890" opacity="0.28"/>
<rect x="162.68" y="388.5" width="0.9" height="76" fill="#80f890" opacity="0.28"/>
<rect x="110.68" y="435.5" width="1" height="72" fill="#a0f060" opacity="0.75"/>
<rect x="122.18" y="435.5" width="1" height="72" fill="#a0f060" opacity="0.75"/>
<rect x="111.68" y="435.5" width="0.9" height="72" fill="#f0f020" opacity="0.3"/>
<rect x="121.28" y="435.5" width="0.9" height="72" fill="#f0f020" opacity="0.3"/>
<rect x="124.78" y="435.5" width="1" height="18" fill="#a0f060" opacity="0.75"/>
<rect x="136.18" y="435.5" width="1" height="18" fill="#a0f060" opacity="0.75"/>
<rect x="125.78" y="435.5" width="0.9" height="18" fill="#f0f020" opacity="0.3"/>
<rect x="135.28" y="435.5" width="0.9" height="18" fill="#f0f020" opacity="0.3"/>
<rect x="124.78" y="453.5" width="1" height="11" fill="#38dce0" opacity="0.8"/>
<rect x="136.18" y="453.5" width="1" height="11" fill="#38dce0" opacity="0.8"/>
<rect x="125.78" y="453.5" width="0.9" height="11" fill="#80f890" opacity="0.28"/>
<rect x="135.28" y="453.5" width="0.9" height="11" fill="#80f890" opacity="0.28"/>
<rect x="124.78" y="464.5" width="1" height="28" fill="#a0f060" opacity="0.75"/>
<rect x="136.18" y="464.5" width="1" height="28" fill="#a0f060" opacity="0.75"/>
<rect x="125.78" y="464.5" width="0.9" height="28" fill="#f0f020" opacity="0.3"/>
<rect x="135.28" y="464.5" width="0.9" height="28" fill="#f0f020" opacity="0.3"/>
<rect x="138.68" y="464.5" width="1" height="28" fill="#a0f060" opacity="0.75"/>
<rect x="150.18" y="464.5" width="1" height="28" fill="#a0f060" opacity="0.75"/>
<rect x="139.68" y="464.5" width="0.9" height="28" fill="#f0f020" opacity="0.3"/>
<rect x="149.28" y="464.5" width="0.9" height="28" fill="#f0f020" opacity="0.3"/>
<rect x="152.78" y="464.5" width="1" height="19" fill="#a0f060" opacity="0.75"/>
<rect x="163.58" y="464.5" width="1" height="19" fill="#a0f060" opacity="0.75"/>
<rect x="153.78" y="464.5" width="0.9" height="19" fill="#f0f020" opacity="0.3"/>
<rect x="162.68" y="464.5" width="0.9" height="19" fill="#f0f020" opacity="0.3"/>
<rect x="152.78" y="483.5" width="1" height="83" fill="#38dce0" opacity="0.8"/>
<rect x="163.58" y="483.5" width="1" height="83" fill="#38dce0" opacity="0.8"/>
<rect x="153.78" y="483.5" width="0.9" height="83" fill="#80f890" opacity="0.28"/>
<rect x="162.68" y="483.5" width="0.9" height="83" fill="#80f890" opacity="0.28"/>
<rect x="124.78" y="492.5" width="1" height="38" fill="#38dce0" opacity="0.8"/>
<rect x="136.18" y="492.5" width="1" height="38" fill="#38dce0" opacity="0.8"/>
<rect x="125.78" y="492.5" width="0.9" height="38" fill="#80f890" opacity="0.28"/>
<rect x="135.28" y="492.5" width="0.9" height="38" fill="#80f890" opacity="0.28"/>
<rect x="138.68" y="492.5" width="1" height="74" fill="#38dce0" opacity="0.8"/>
<rect x="150.18" y="492.5" width="1" height="74" fill="#38dce0" opacity="0.8"/>
<rect x="139.68" y="492.5" width="0.9" height="74" fill="#80f890" opacity="0.28"/>
<rect x="149.28" y="492.5" width="0.9" height="74" fill="#80f890" opacity="0.28"/>
<rect x="110.68" y="507.5" width="1" height="23" fill="#38dce0" opacity="0.8"/>
<rect x="122.18" y="507.5" width="1" height="23" fill="#38dce0" opacity="0.8"/>
<rect x="111.68" y="507.5" width="0.9" height="23" fill="#80f890" opacity="0.28"/>
<rect x="121.28" y="507.5" width="0.9" height="23" fill="#80f890" opacity="0.28"/>
<rect x="110.68" y="530.5" width="1" height="15" fill="#a0f060" opacity="0.75"/>
<rect x="122.18" y="530.5" width="1" height="15" fill="#a0f060" opacity="0.75"/>
<rect x="111.68" y="530.5" width="0.9" height="15" fill="#f0f020" opacity="0.3"/>
<rect x="121.28" y="530.5" width="0.9" height="15" fill="#f0f020" opacity="0.3"/>
<rect x="124.78" y="530.5" width="1" height="15" fill="#a0f060" opacity="0.75"/>
<rect x="136.18" y="530.5" width="1" height="15" fill="#a0f060" opacity="0.75"/>
<rect x="125.78" y="530.5" width="0.9" height="15" fill="#f0f020" opacity="0.3"/>
<rect x="135.28" y="530.5" width="0.9" height="15" fill="#f0f020" opacity="0.3"/>
<rect x="110.68" y="545.5" width="1" height="11" fill="#38dce0" opacity="0.8"/>
<rect x="122.18" y="545.5" width="1" height="11" fill="#38dce0" opacity="0.8"/>
<rect x="111.68" y="545.5" width="0.9" height="11" fill="#80f890" opacity="0.28"/>
<rect x="121.28" y="545.5" width="0.9" height="11" fill="#80f890" opacity="0.28"/>
<rect x="124.78" y="545.5" width="1" height="11" fill="#38dce0" opacity="0.8"/>
<rect x="136.18" y="545.5" width="1" height="11" fill="#38dce0" opacity="0.8"/>
<rect x="125.78" y="545.5" width="0.9" height="11" fill="#80f890" opacity="0.28"/>
<rect x="135.28" y="545.5" width="0.9" height="11" fill="#80f890" opacity="0.28"/>
<rect x="110.68" y="556.5" width="1" height="3" fill="#a0f060" opacity="0.75"/>
<rect x="122.18" y="556.5" width="1" height="3" fill="#a0f060" opacity="0.75"/>
<rect x="111.68" y="556.5" width="0.9" height="3" fill="#f0f020" opacity="0.3"/>
<rect x="121.28" y="556.5" width="0.9" height="3" fill="#f0f020" opacity="0.3"/>
<rect x="124.78" y="556.5" width="1" height="3" fill="#a0f060" opacity="0.75"/>
<rect x="136.18" y="556.5" width="1" height="3" fill="#a0f060" opacity="0.75"/>
<rect x="125.78" y="556.5" width="0.9" height="3" fill="#f0f020" opacity="0.3"/>
<rect x="135.28" y="556.5" width="0.9" height="3" fill="#f0f020" opacity="0.3"/>
<rect x="110.68" y="559.5" width="1" height="7" fill="#38dce0" opacity="0.8"/>
<rect x="122.18" y="559.5" width="1" height="7" fill="#38dce0" opacity="0.8"/>
<rect x="111.68" y="559.5" width="0.9" height="7" fill="#80f890" opacity="0.28"/>
<rect x="121.28" y="559.5" width="0.9" height="7" fill="#80f890" opacity="0.28"/>
<rect x="124.78" y="559.5" width="1" height="7" fill="#38dce0" opacity="0.8"/>
<rect x="136.18" y="559.5" width="1" height="7" fill="#38dce0" opacity="0.8"/>
<rect x="125.78" y="559.5" width="0.9" height="7" fill="#80f890" opacity="0.28"/>
<rect x="135.28" y="559.5" width="0.9" height="7" fill="#80f890" opacity="0.28"/>
<rect x="110.68" y="566.5" width="1" height="6" fill="#a0f060" opacity="0.75"/>
<rect x="122.18" y="566.5" width="1" height="6" fill="#a0f060" opacity="0.75"/>
<rect x="111.68" y="566.5" width="0.9" height="6" fill="#f0f020" opacity="0.3"/>
<rect x="121.28" y="566.5" width="0.9" height="6" fill="#f0f020" opacity="0.3"/>
<rect x="124.78" y="566.5" width="1" height="6" fill="#a0f060" opacity="0.75"/>
<rect x="136.18" y="566.5" width="1" height="6" fill="#a0f060" opacity="0.75"/>
<rect x="125.78" y="566.5" width="0.9" height="6" fill="#f0f020" opacity="0.3"/>
<rect x="135.28" y="566.5" width="0.9" height="6" fill="#f0f020" opacity="0.3"/>
<rect x="138.68" y="566.5" width="1" height="6" fill="#a0f060" opacity="0.75"/>
<rect x="150.18" y="566.5" width="1" height="6" fill="#a0f060" opacity="0.75"/>
<rect x="139.68" y="566.5" width="0.9" height="6" fill="#f0f020" opacity="0.3"/>
<rect x="149.28" y="566.5" width="0.9" height="6" fill="#f0f020" opacity="0.3"/>
<rect x="152.78" y="566.5" width="1" height="6" fill="#a0f060" opacity="0.75"/>
<rect x="163.58" y="566.5" width="1" height="6" fill="#a0f060" opacity="0.75"/>
<rect x="153.78" y="566.5" width="0.9" height="6" fill="#f0f020" opacity="0.3"/>
<rect x="162.68" y="566.5" width="0.9" height="6" fill="#f0f020" opacity="0.3"/>
<rect x="110.68" y="572.5" width="1" height="2" fill="#38dce0" opacity="0.8"/>
<rect x="122.18" y="572.5" width="1" height="2" fill="#38dce0" opacity="0.8"/>
<rect x="111.68" y="572.5" width="0.9" height="2" fill="#80f890" opacity="0.28"/>
<rect x="121.28" y="572.5" width="0.9" height="2" fill="#80f890" opacity="0.28"/>
<rect x="124.78" y="572.5" width="1" height="2" fill="#38dce0" opacity="0.8"/>
<rect x="136.18" y="572.5" width="1" height="2" fill="#38dce0" opacity="0.8"/>
<rect x="125.78" y="572.5" width="0.9" height="2" fill="#80f890" opacity="0.28"/>
<rect x="135.28" y="572.5" width="0.9" height="2" fill="#80f890" opacity="0.28"/>
<rect x="138.68" y="572.5" width="1" height="2" fill="#38dce0" opacity="0.8"/>
<rect x="150.18" y="572.5" width="1" height="2" fill="#38dce0" opacity="0.8"/>
<rect x="139.68" y="572.5" width="0.9" height="2" fill="#80f890" opacity="0.28"/>
<rect x="149.28" y="572.5" width="0.9" height="2" fill="#80f890" opacity="0.28"/>
<rect x="152.78" y="572.5" width="1" height="2" fill="#38dce0" opacity="0.8"/>
<rect x="163.58" y="572.5" width="1" height="2" fill="#38dce0" opacity="0.8"/>
<rect x="153.78" y="572.5" width="0.9" height="2" fill="#80f890" opacity="0.28"/>
<rect x="162.68" y="572.5" width="0.9" height="2" fill="#80f890" opacity="0.28"/>
<rect x="110.68" y="574.5" width="1" height="23" fill="#a0f060" opacity="0.75"/>
<rect x="122.18" y="574.5" width="1" height="23" fill="#a0f060" opacity="0.75"/>
<rect x="111.68" y="574.5" width="0.9" height="23" fill="#f0f020" opacity="0.3"/>
<rect x="121.28" y="574.5" width="0.9" height="23" fill="#f0f020" opacity="0.3"/>
<rect x="124.78" y="574.5" width="1" height="6" fill="#a0f060" opacity="0.75"/>
<rect x="136.18" y="574.5" width="1" height="6" fill="#a0f060" opacity="0.75"/>
<rect x="125.78" y="574.5" width="0.9" height="6" fill="#f0f020" opacity="0.3"/>
<rect x="135.28" y="574.5" width="0.9" height="6" fill="#f0f020" opacity="0.3"/>
<rect x="138.68" y="574.5" width="1" height="6" fill="#a0f060" opacity="0.75"/>
<rect x="150.18" y="574.5" width="1" height="6" fill="#a0f060" opacity="0.75"/>
<rect x="139.68" y="574.5" width="0.9" height="6" fill="#f0f020" opacity="0.3"/>
<rect x="149.28" y="574.5" width="0.9" height="6" fill="#f0f020" opacity="0.3"/>
<rect x="152.78" y="574.5" width="1" height="6" fill="#a0f060" opacity="0.75"/>
<rect x="163.58" y="574.5" width="1" height="6" fill="#a0f060" opacity="0.75"/>
<rect x="153.78" y="574.5" width="0.9" height="6" fill="#f0f020" opacity="0.3"/>
<rect x="162.68" y="574.5" width="0.9" height="6" fill="#f0f020" opacity="0.3"/>
<rect x="124.78" y="580.5" width="1" height="59.5" fill="#38dce0" opacity="0.8"/>
<rect x="136.18" y="580.5" width="1" height="59.5" fill="#38dce0" opacity="0.8"/>
<rect x="125.78" y="580.5" width="0.9" height="59.5" fill="#80f890" opacity="0.28"/>
<rect x="135.28" y="580.5" width="0.9" height="59.5" fill="#80f890" opacity="0.28"/>
<rect x="138.68" y="580.5" width="1" height="59.5" fill="#38dce0" opacity="0.8"/>
<rect x="150.18" y="580.5" width="1" height="59.5" fill="#38dce0" opacity="0.8"/>
<rect x="139.68" y="580.5" width="0.9" height="59.5" fill="#80f890" opacity="0.28"/>
<rect x="149.28" y="580.5" width="0.9" height="59.5" fill="#80f890" opacity="0.28"/>
<rect x="152.78" y="580.5" width="1" height="59.5" fill="#38dce0" opacity="0.8"/>
<rect x="163.58" y="580.5" width="1" height="59.5" fill="#38dce0" opacity="0.8"/>
<rect x="153.78" y="580.5" width="0.9" height="59.5" fill="#80f890" opacity="0.28"/>
<rect x="162.68" y="580.5" width="0.9" height="59.5" fill="#80f890" opacity="0.28"/>
<rect x="110.68" y="597.5" width="1" height="42.5" fill="#38dce0" opacity="0.8"/>
<rect x="122.18" y="597.5" width="1" height="42.5" fill="#38dce0" opacity="0.8"/>
<rect x="111.68" y="597.5" width="0.9" height="42.5" fill="#80f890" opacity="0.28"/>
<rect x="121.28" y="597.5" width="0.9" height="42.5" fill="#80f890" opacity="0.28"/>
<rect x="53.93" y="0" width="1" height="640" fill="#20c8f0" opacity="0.8"/>
<rect x="0" y="4.5" width="176" height="9" fill="#fff"/>
<rect x="0" y="18.5" width="176" height="2" fill="#fff"/>
<rect x="0" y="22.5" width="176" height="5" fill="#fff"/>
<rect x="0" y="34.5" width="176" height="6" fill="#fff"/>
<rect x="0" y="47.5" width="176" height="3" fill="#fff"/>
<rect x="0" y="55.5" width="176" height="2" fill="#fff"/>
<rect x="0" y="58.5" width="176" height="1" fill="#fff"/>
<rect x="0" y="62.5" width="176" height="2" fill="#fff"/>
<rect x="0" y="78.5" width="176" height="2" fill="#fff"/>
<rect x="0" y="83.5" width="176" height="16" fill="#fff"/>
<rect x="0" y="122.5" width="176" height="8" fill="#fff"/>
<rect x="0" y="132.5" width="176" height="4" fill="#fff"/>
<rect x="0" y="137.5" width="176" height="1" fill="#fff"/>
<rect x="0" y="143.5" width="176" height="1" fill="#fff"/>
<rect x="0" y="153.5" width="176" height="13" fill="#fff"/>
<rect x="0" y="171.5" width="176" height="1" fill="#fff"/>
<rect x="0" y="176.5" width="176" height="1" fill="#fff"/>
<rect x="0" y="179.5" width="176" height="1" fill="#fff"/>
<rect x="0" y="182.5" width="176" height="1" fill="#fff"/>
<rect x="0" y="184.5" width="176" height="19" fill="#fff"/>
<rect x="0" y="205.5" width="176" height="1" fill="#fff"/>
<rect x="0" y="207.5" width="176" height="1" fill="#fff"/>
<rect x="0" y="213.5" width="176" height="1" fill="#fff"/>
<rect x="0" y="220.5" width="176" height="1" fill="#fff"/>
<rect x="0" y="223.5" width="176" height="1" fill="#fff"/>
<rect x="0" y="226.5" width="176" height="1" fill="#fff"/>
<rect x="0" y="229.5" width="176" height="1" fill="#fff"/>
<rect x="0" y="261.5" width="176" height="1" fill="#fff"/>
<rect x="0" y="267.5" width="176" height="1" fill="#fff"/>
<rect x="0" y="276.5" width="176" height="1" fill="#fff"/>
<rect x="0" y="279.5" width="176" height="5" fill="#fff"/>
<rect x="0" y="305.5" width="176" height="2" fill="#fff"/>
<rect x="0" y="317.5" width="176" height="1" fill="#fff"/>
<rect x="0" y="353.5" width="176" height="4" fill="#fff"/>
<rect x="0" y="368.5" width="176" height="1" fill="#fff"/>
<rect x="0" y="381.5" width="176" height="1" fill="#fff"/>
<rect x="0" y="397.5" width="176" height="1" fill="#fff"/>
<rect x="0" y="409.5" width="176" height="1" fill="#fff"/>
<rect x="0" y="411.5" width="176" height="1" fill="#fff"/>
<rect x="0" y="419.5" width="176" height="1" fill="#fff"/>
<rect x="0" y="422.5" width="176" height="5" fill="#fff"/>
<rect x="0" y="435.5" width="176" height="1" fill="#fff"/>
<rect x="0" y="452.5" width="176" height="1" fill="#fff"/>
<rect x="0" y="463.5" width="176" height="1" fill="#fff"/>
<rect x="0" y="482.5" width="176" height="1" fill="#fff"/>
<rect x="0" y="493.5" width="176" height="4" fill="#fff"/>
<rect x="0" y="509.5" width="176" height="1" fill="#fff"/>
<rect x="0" y="517.5" width="176" height="1" fill="#fff"/>
<rect x="0" y="544.5" width="176" height="1" fill="#fff"/>
<rect x="0" y="549.5" width="176" height="2" fill="#fff"/>
<rect x="0" y="558.5" width="176" height="1" fill="#fff"/>
<rect x="0" y="561.5" width="176" height="5" fill="#fff"/>
<rect x="0" y="582.5" width="176" height="4" fill="#fff"/>
<rect x="0" y="627.5" width="176" height="2" fill="#fff"/>
<rect x="0" y="637.5" width="176" height="2" fill="#fff"/>
<rect x="0" y="161.5" width="176" height="1" fill="#ffc800"/>
<rect x="0" y="181.5" width="176" height="1" fill="#0838e8"/>
<rect x="0" y="14.5" width="176" height="1" fill="#000"/>
<rect x="0" y="29.5" width="176" height="1" fill="#000"/>
<rect x="0" y="34.5" width="176" height="1" fill="#000"/>
<rect x="0" y="45.5" width="176" height="1" fill="#000"/>
<rect x="0" y="50.5" width="176" height="1" fill="#000"/>
<rect x="0" y="60.5" width="176" height="1" fill="#000"/>
<rect x="0" y="66.5" width="176" height="1" fill="#000"/>
<rect x="0" y="92.5" width="176" height="1" fill="#000"/>
<rect x="0" y="117.5" width="176" height="2" fill="#000"/>
<rect x="0" y="130.5" width="176" height="1" fill="#000"/>
<rect x="0" y="136.5" width="176" height="1" fill="#000"/>
<rect x="0" y="169.5" width="176" height="1" fill="#000"/>
<rect x="0" y="173.5" width="176" height="1" fill="#000"/>
<rect x="0" y="177.5" width="176" height="2" fill="#000"/>
<rect x="0" y="180.5" width="176" height="1" fill="#000"/>
<rect x="0" y="183.5" width="176" height="1" fill="#000"/>
<rect x="0" y="212.5" width="176" height="1" fill="#000"/>
<rect x="0" y="219.5" width="176" height="1" fill="#000"/>
<rect x="0" y="224.5" width="176" height="2" fill="#000"/>
<rect x="0" y="275.5" width="176" height="1" fill="#000"/>
<rect x="0" y="287.5" width="176" height="1" fill="#000"/>
<rect x="0" y="297.5" width="176" height="1" fill="#000"/>
<rect x="0" y="309.5" width="176" height="2" fill="#000"/>
<rect x="0" y="316.5" width="176" height="1" fill="#000"/>
<rect x="0" y="323.5" width="176" height="1" fill="#000"/>
<rect x="0" y="328.5" width="176" height="1" fill="#000"/>
<rect x="0" y="348.5" width="176" height="1" fill="#000"/>
<rect x="0" y="350.5" width="176" height="1" fill="#000"/>
<rect x="0" y="363.5" width="176" height="5" fill="#000"/>
<rect x="0" y="369.5" width="176" height="4" fill="#000"/>
<rect x="0" y="387.5" width="176" height="2" fill="#000"/>
<rect x="0" y="399.5" width="176" height="4" fill="#000"/>
<rect x="0" y="405.5" width="176" height="2" fill="#000"/>
<rect x="0" y="415.5" width="176" height="2" fill="#000"/>
<rect x="0" y="429.5" width="176" height="1" fill="#000"/>
<rect x="0" y="506.5" width="176" height="1" fill="#000"/>
<rect x="0" y="580.5" width="176" height="1" fill="#000"/>
<rect x="0" y="586.5" width="176" height="1" fill="#000"/>
<rect x="-0.5" y="634.5" width="1" height="5.5" fill="#000"/>
<rect x="-0.5" y="0" width="1" height="5.5" fill="#000"/>
<rect x="40.98" y="634.5" width="1" height="5.5" fill="#000"/>
<rect x="40.98" y="0" width="1" height="5.5" fill="#000"/>
<rect x="82.46" y="634.5" width="1" height="5.5" fill="#000"/>
<rect x="82.46" y="0" width="1" height="5.5" fill="#000"/>
<rect x="123.94" y="634.5" width="1" height="5.5" fill="#000"/>
<rect x="123.94" y="0" width="1" height="5.5" fill="#000"/>
<rect x="165.42" y="634.5" width="1" height="5.5" fill="#000"/>
<rect x="165.42" y="0" width="1" height="5.5" fill="#000"/>
<rect x="0" y="639.5" width="5.5" height="1" fill="#000"/>
<rect x="170.5" y="639.5" width="5.5" height="1" fill="#000"/>
<rect x="0" y="506.17" width="5.5" height="1" fill="#000"/>
<rect x="170.5" y="506.17" width="5.5" height="1" fill="#000"/>
<rect x="0" y="372.83" width="5.5" height="1" fill="#000"/>
<rect x="170.5" y="372.83" width="5.5" height="1" fill="#000"/>
<rect x="0" y="239.5" width="5.5" height="1" fill="#000"/>
<rect x="170.5" y="239.5" width="5.5" height="1" fill="#000"/>
<rect x="0" y="106.17" width="5.5" height="1" fill="#000"/>
<rect x="170.5" y="106.17" width="5.5" height="1" fill="#000"/>
<rect x="0" y="0" width="176" height="640" fill="none" stroke="#000" stroke-width="1"/>
</g>
<g transform="translate(556.5,80.5)">
<g filter="url(#nzd2)">
<rect x="0" y="203.5" width="177" height="150" fill="#000cf0"/>
</g>
<g filter="url(#nzb2)">
<rect x="0" y="-0.5" width="177" height="204" fill="#002cfa"/>
<rect x="0" y="353.5" width="177" height="74" fill="#0024f8"/>
<rect x="0" y="427.5" width="177" height="213" fill="#0020f6"/>
<rect x="0" y="427.5" width="177" height="212.5" fill="#fff" filter="url(#cl2)"/>
</g>
<rect x="110.95" y="0" width="53.9" height="640" fill="#0418d0"/>
<g filter="url(#nzy2)">
<rect x="110.95" y="-0.5" width="12.5" height="14" fill="#bdff3a"/>
<rect x="125.05" y="-0.5" width="12.4" height="14" fill="#adff4a"/>
<rect x="138.95" y="-0.5" width="12.5" height="14" fill="#9cff5a"/>
<rect x="153.05" y="-0.5" width="11.8" height="14" fill="#9cff5a"/>
<rect x="110.95" y="13.5" width="12.5" height="14" fill="#ffec00"/>
<rect x="125.05" y="13.5" width="12.4" height="14" fill="#efff08"/>
<rect x="138.95" y="13.5" width="12.5" height="14" fill="#bdff3a"/>
<rect x="153.05" y="13.5" width="11.8" height="14" fill="#9cff5a"/>
<rect x="110.95" y="27.5" width="12.5" height="13" fill="#deff19"/>
<rect x="125.05" y="27.5" width="12.4" height="13" fill="#efff08"/>
<rect x="138.95" y="27.5" width="12.5" height="13" fill="#9cff5a"/>
<rect x="153.05" y="27.5" width="11.8" height="13" fill="#adff4a"/>
<rect x="110.95" y="40.5" width="12.5" height="10" fill="#deff19"/>
<rect x="125.05" y="40.5" width="12.4" height="10" fill="#ffec00"/>
<rect x="138.95" y="40.5" width="12.5" height="10" fill="#deff19"/>
<rect x="153.05" y="40.5" width="11.8" height="10" fill="#9cff5a"/>
<rect x="110.95" y="50.5" width="12.5" height="14" fill="#efff08"/>
<rect x="125.05" y="50.5" width="12.4" height="14" fill="#efff08"/>
<rect x="138.95" y="50.5" width="12.5" height="14" fill="#bdff3a"/>
<rect x="153.05" y="50.5" width="11.8" height="14" fill="#adff4a"/>
<rect x="110.95" y="64.5" width="12.5" height="16" fill="#ffec00"/>
<rect x="125.05" y="64.5" width="12.4" height="16" fill="#efff08"/>
<rect x="138.95" y="64.5" width="12.5" height="16" fill="#bdff3a"/>
<rect x="153.05" y="64.5" width="11.8" height="16" fill="#adff4a"/>
<rect x="110.95" y="80.5" width="12.5" height="19" fill="#ffec00"/>
<rect x="125.05" y="80.5" width="12.4" height="19" fill="#efff08"/>
<rect x="138.95" y="80.5" width="12.5" height="19" fill="#ffd900"/>
<rect x="153.05" y="80.5" width="11.8" height="19" fill="#deff19"/>
<rect x="110.95" y="99.5" width="12.5" height="4" fill="#ffd900"/>
<rect x="125.05" y="99.5" width="12.4" height="4" fill="#ffd900"/>
<rect x="138.95" y="99.5" width="12.5" height="4" fill="#efff08"/>
<rect x="153.05" y="99.5" width="11.8" height="4" fill="#efff08"/>
<rect x="138.95" y="103.5" width="12.5" height="9" fill="#ffb300"/>
<rect x="153.05" y="103.5" width="11.8" height="9" fill="#ffc600"/>
<rect x="110.95" y="112.5" width="12.5" height="7" fill="#ffd900"/>
<rect x="125.05" y="112.5" width="12.4" height="7" fill="#ffc600"/>
<rect x="138.95" y="112.5" width="12.5" height="7" fill="#efff08"/>
<rect x="153.05" y="112.5" width="11.8" height="7" fill="#deff19"/>
<rect x="110.95" y="119.5" width="12.5" height="12" fill="#6bff8c"/>
<rect x="125.05" y="119.5" width="12.4" height="12" fill="#6bff8c"/>
<rect x="138.95" y="119.5" width="12.5" height="12" fill="#6bff8c"/>
<rect x="153.05" y="119.5" width="11.8" height="12" fill="#6bff8c"/>
<rect x="110.95" y="131.5" width="12.5" height="5" fill="#deff19"/>
<rect x="125.05" y="131.5" width="12.4" height="5" fill="#deff19"/>
<rect x="138.95" y="131.5" width="12.5" height="5" fill="#bdff3a"/>
<rect x="153.05" y="131.5" width="11.8" height="5" fill="#adff4a"/>
<rect x="110.95" y="136.5" width="12.5" height="9" fill="#efff08"/>
<rect x="125.05" y="136.5" width="12.4" height="9" fill="#deff19"/>
<rect x="138.95" y="136.5" width="12.5" height="9" fill="#bdff3a"/>
<rect x="153.05" y="136.5" width="11.8" height="9" fill="#9cff5a"/>
<rect x="110.95" y="145.5" width="12.5" height="21" fill="#efff08"/>
<rect x="125.05" y="145.5" width="12.4" height="21" fill="#deff19"/>
<rect x="138.95" y="145.5" width="12.5" height="21" fill="#ceff29"/>
<rect x="153.05" y="145.5" width="11.8" height="21" fill="#7bff7b"/>
<rect x="110.95" y="166.5" width="12.5" height="37" fill="#deff19"/>
<rect x="125.05" y="166.5" width="12.4" height="37" fill="#deff19"/>
<rect x="138.95" y="166.5" width="12.5" height="37" fill="#efff08"/>
<rect x="153.05" y="166.5" width="11.8" height="37" fill="#adff4a"/>
<rect x="110.95" y="203.5" width="12.5" height="11" fill="#bdff3a"/>
<rect x="125.05" y="203.5" width="12.4" height="11" fill="#9cff5a"/>
<rect x="138.95" y="203.5" width="12.5" height="11" fill="#adff4a"/>
<rect x="153.05" y="203.5" width="11.8" height="11" fill="#9cff5a"/>
<rect x="110.95" y="214.5" width="12.5" height="7" fill="#deff19"/>
<rect x="125.05" y="214.5" width="12.4" height="7" fill="#deff19"/>
<rect x="138.95" y="214.5" width="12.5" height="7" fill="#ceff29"/>
<rect x="153.05" y="214.5" width="11.8" height="7" fill="#adff4a"/>
<rect x="110.95" y="221.5" width="12.5" height="9" fill="#ceff29"/>
<rect x="125.05" y="221.5" width="12.4" height="9" fill="#bdff3a"/>
<rect x="138.95" y="221.5" width="12.5" height="9" fill="#ceff29"/>
<rect x="153.05" y="221.5" width="11.8" height="9" fill="#adff4a"/>
<rect x="110.95" y="230.5" width="12.5" height="7" fill="#ffd900"/>
<rect x="125.05" y="230.5" width="12.4" height="7" fill="#e6ff10"/>
<rect x="138.95" y="230.5" width="12.5" height="7" fill="#bdff3a"/>
<rect x="153.05" y="230.5" width="11.8" height="7" fill="#84ff73"/>
<rect x="110.95" y="237.5" width="12.5" height="25" fill="#c5ff31"/>
<rect x="125.05" y="237.5" width="12.4" height="25" fill="#d6ff21"/>
<rect x="138.95" y="237.5" width="12.5" height="25" fill="#b5ff42"/>
<rect x="153.05" y="237.5" width="11.8" height="25" fill="#84ff73"/>
<rect x="110.95" y="262.5" width="12.5" height="6" fill="#deff19"/>
<rect x="125.05" y="262.5" width="12.4" height="6" fill="#ceff29"/>
<rect x="138.95" y="262.5" width="12.5" height="6" fill="#adff4a"/>
<rect x="153.05" y="262.5" width="11.8" height="6" fill="#9cff5a"/>
<rect x="110.95" y="268.5" width="12.5" height="9" fill="#ffd000"/>
<rect x="125.05" y="268.5" width="12.4" height="9" fill="#f7f600"/>
<rect x="138.95" y="268.5" width="12.5" height="9" fill="#bdff3a"/>
<rect x="153.05" y="268.5" width="11.8" height="9" fill="#9cff5a"/>
<rect x="110.95" y="277.5" width="12.5" height="7" fill="#ceff29"/>
<rect x="125.05" y="277.5" width="12.4" height="7" fill="#deff19"/>
<rect x="138.95" y="277.5" width="12.5" height="7" fill="#9cff5a"/>
<rect x="153.05" y="277.5" width="11.8" height="7" fill="#7bff7b"/>
<rect x="110.95" y="284.5" width="12.5" height="4" fill="#ffec00"/>
<rect x="125.05" y="284.5" width="12.4" height="4" fill="#efff08"/>
<rect x="138.95" y="284.5" width="12.5" height="4" fill="#deff19"/>
<rect x="153.05" y="284.5" width="11.8" height="4" fill="#bdff3a"/>
<rect x="110.95" y="288.5" width="12.5" height="10" fill="#e6ff10"/>
<rect x="125.05" y="288.5" width="12.4" height="10" fill="#e6ff10"/>
<rect x="138.95" y="288.5" width="12.5" height="10" fill="#deff19"/>
<rect x="153.05" y="288.5" width="11.8" height="10" fill="#bdff3a"/>
<rect x="110.95" y="298.5" width="12.5" height="9" fill="#ffec00"/>
<rect x="125.05" y="298.5" width="12.4" height="9" fill="#e6ff10"/>
<rect x="138.95" y="298.5" width="12.5" height="9" fill="#deff19"/>
<rect x="153.05" y="298.5" width="11.8" height="9" fill="#ceff29"/>
<rect x="110.95" y="307.5" width="12.5" height="4" fill="#ffd900"/>
<rect x="125.05" y="307.5" width="12.4" height="4" fill="#efff08"/>
<rect x="138.95" y="307.5" width="12.5" height="4" fill="#ffd900"/>
<rect x="153.05" y="307.5" width="11.8" height="4" fill="#ffd900"/>
<rect x="110.95" y="311.5" width="12.5" height="7" fill="#9cff5a"/>
<rect x="125.05" y="311.5" width="12.4" height="7" fill="#adff4a"/>
<rect x="138.95" y="311.5" width="12.5" height="7" fill="#adff4a"/>
<rect x="153.05" y="311.5" width="11.8" height="7" fill="#bdff3a"/>
<rect x="110.95" y="318.5" width="12.5" height="6" fill="#efff08"/>
<rect x="125.05" y="318.5" width="12.4" height="6" fill="#e6ff10"/>
<rect x="138.95" y="318.5" width="12.5" height="6" fill="#bdff3a"/>
<rect x="153.05" y="318.5" width="11.8" height="6" fill="#bdff3a"/>
<rect x="110.95" y="324.5" width="12.5" height="5" fill="#efff08"/>
<rect x="125.05" y="324.5" width="12.4" height="5" fill="#ffec00"/>
<rect x="138.95" y="324.5" width="12.5" height="5" fill="#ceff29"/>
<rect x="153.05" y="324.5" width="11.8" height="5" fill="#bdff3a"/>
<rect x="110.95" y="329.5" width="12.5" height="20" fill="#e6ff10"/>
<rect x="125.05" y="329.5" width="12.4" height="20" fill="#d6ff21"/>
<rect x="138.95" y="329.5" width="12.5" height="20" fill="#bdff3a"/>
<rect x="153.05" y="329.5" width="11.8" height="20" fill="#ceff29"/>
<rect x="110.95" y="349.5" width="12.5" height="2" fill="#ffd900"/>
<rect x="125.05" y="349.5" width="12.4" height="2" fill="#ffd900"/>
<rect x="138.95" y="349.5" width="12.5" height="2" fill="#ffec00"/>
<rect x="153.05" y="349.5" width="11.8" height="2" fill="#ffec00"/>
<rect x="110.95" y="351.5" width="12.5" height="6" fill="#adff4a"/>
<rect x="125.05" y="351.5" width="12.4" height="6" fill="#adff4a"/>
<rect x="138.95" y="351.5" width="12.5" height="6" fill="#adff4a"/>
<rect x="153.05" y="351.5" width="11.8" height="6" fill="#adff4a"/>
<rect x="110.95" y="359.5" width="12.5" height="14" fill="#ffbd00"/>
<rect x="125.05" y="359.5" width="12.4" height="14" fill="#ffb300"/>
<rect x="138.95" y="359.5" width="12.5" height="14" fill="#ffd900"/>
<rect x="153.05" y="359.5" width="11.8" height="14" fill="#ffbd00"/>
<rect x="110.95" y="382.5" width="12.5" height="6" fill="#ffaa00"/>
<rect x="125.05" y="382.5" width="12.4" height="6" fill="#ffb300"/>
<rect x="138.95" y="382.5" width="12.5" height="6" fill="#ffc600"/>
<rect x="153.05" y="382.5" width="11.8" height="6" fill="#ffb300"/>
<rect x="110.95" y="393.5" width="12.5" height="9" fill="#ceff29"/>
<rect x="125.05" y="393.5" width="12.4" height="9" fill="#efff08"/>
<rect x="138.95" y="393.5" width="12.5" height="9" fill="#ceff29"/>
<rect x="153.05" y="393.5" width="11.8" height="9" fill="#ceff29"/>
<rect x="110.95" y="402.5" width="12.5" height="4" fill="#ffc600"/>
<rect x="125.05" y="402.5" width="12.4" height="4" fill="#ffec00"/>
<rect x="138.95" y="402.5" width="12.5" height="4" fill="#ffd900"/>
<rect x="153.05" y="402.5" width="11.8" height="4" fill="#deff19"/>
<rect x="110.95" y="406.5" width="12.5" height="6" fill="#deff19"/>
<rect x="125.05" y="406.5" width="12.4" height="6" fill="#deff19"/>
<rect x="138.95" y="406.5" width="12.5" height="6" fill="#deff19"/>
<rect x="153.05" y="406.5" width="11.8" height="6" fill="#deff19"/>
<rect x="110.95" y="412.5" width="12.5" height="4" fill="#ffb300"/>
<rect x="125.05" y="412.5" width="12.4" height="4" fill="#ffc600"/>
<rect x="138.95" y="412.5" width="12.5" height="4" fill="#ffec00"/>
<rect x="153.05" y="412.5" width="11.8" height="4" fill="#ffaa00"/>
<rect x="110.95" y="416.5" width="12.5" height="3" fill="#efff08"/>
<rect x="125.05" y="416.5" width="12.4" height="3" fill="#ffc600"/>
<rect x="138.95" y="416.5" width="12.5" height="3" fill="#deff19"/>
<rect x="153.05" y="416.5" width="11.8" height="3" fill="#deff19"/>
<rect x="110.95" y="419.5" width="12.5" height="8" fill="#deff19"/>
<rect x="125.05" y="419.5" width="12.4" height="8" fill="#deff19"/>
<rect x="138.95" y="419.5" width="12.5" height="8" fill="#ceff29"/>
<rect x="153.05" y="419.5" width="11.8" height="8" fill="#ceff29"/>
<rect x="110.95" y="427.5" width="12.5" height="3" fill="#bdff3a"/>
<rect x="125.05" y="427.5" width="12.4" height="3" fill="#bdff3a"/>
<rect x="138.95" y="427.5" width="12.5" height="3" fill="#bdff3a"/>
<rect x="153.05" y="427.5" width="11.8" height="3" fill="#bdff3a"/>
<rect x="110.95" y="430.5" width="12.5" height="6" fill="#ffc600"/>
<rect x="125.05" y="430.5" width="12.4" height="6" fill="#ffd900"/>
<rect x="138.95" y="430.5" width="12.5" height="6" fill="#e6ff10"/>
<rect x="153.05" y="430.5" width="11.8" height="6" fill="#ceff29"/>
<rect x="110.95" y="436.5" width="12.5" height="5" fill="#d6ff21"/>
<rect x="125.05" y="436.5" width="12.4" height="5" fill="#e6ff10"/>
<rect x="138.95" y="436.5" width="12.5" height="5" fill="#ceff29"/>
<rect x="153.05" y="436.5" width="11.8" height="5" fill="#ceff29"/>
<rect x="110.95" y="441.5" width="12.5" height="8" fill="#ffb300"/>
<rect x="125.05" y="441.5" width="12.4" height="8" fill="#ffb300"/>
<rect x="138.95" y="441.5" width="12.5" height="8" fill="#ffe300"/>
<rect x="153.05" y="441.5" width="11.8" height="8" fill="#e6ff10"/>
<rect x="110.95" y="449.5" width="12.5" height="4" fill="#ceff29"/>
<rect x="125.05" y="449.5" width="12.4" height="4" fill="#ceff29"/>
<rect x="138.95" y="449.5" width="12.5" height="4" fill="#ceff29"/>
<rect x="153.05" y="449.5" width="11.8" height="4" fill="#ceff29"/>
<rect x="110.95" y="453.5" width="12.5" height="11" fill="#efff08"/>
<rect x="125.05" y="453.5" width="12.4" height="11" fill="#ffe300"/>
<rect x="138.95" y="453.5" width="12.5" height="11" fill="#ffd000"/>
<rect x="153.05" y="453.5" width="11.8" height="11" fill="#ffe300"/>
<rect x="110.95" y="464.5" width="12.5" height="8" fill="#ffaa00"/>
<rect x="125.05" y="464.5" width="12.4" height="8" fill="#ffc600"/>
<rect x="138.95" y="464.5" width="12.5" height="8" fill="#ffec00"/>
<rect x="153.05" y="464.5" width="11.8" height="8" fill="#ffc600"/>
<rect x="110.95" y="472.5" width="12.5" height="6" fill="#ffd000"/>
<rect x="125.05" y="472.5" width="12.4" height="6" fill="#d6ff21"/>
<rect x="138.95" y="472.5" width="12.5" height="6" fill="#ceff29"/>
<rect x="153.05" y="472.5" width="11.8" height="6" fill="#ffd900"/>
<rect x="153.05" y="478.5" width="11.8" height="5" fill="#f7f600"/>
<rect x="153.05" y="483.5" width="11.8" height="7" fill="#ffd900"/>
<rect x="110.95" y="490.5" width="12.5" height="7" fill="#ffd900"/>
<rect x="125.05" y="490.5" width="12.4" height="7" fill="#ffc600"/>
<rect x="138.95" y="490.5" width="12.5" height="7" fill="#ffb300"/>
<rect x="153.05" y="490.5" width="11.8" height="7" fill="#efff08"/>
<rect x="110.95" y="497.5" width="12.5" height="13" fill="#ffe300"/>
<rect x="125.05" y="497.5" width="12.4" height="13" fill="#ffd900"/>
<rect x="138.95" y="497.5" width="12.5" height="13" fill="#ceff29"/>
<rect x="153.05" y="497.5" width="11.8" height="13" fill="#d6ff21"/>
<rect x="110.95" y="510.5" width="12.5" height="7" fill="#ffe300"/>
<rect x="125.05" y="510.5" width="12.4" height="7" fill="#ffec00"/>
<rect x="138.95" y="510.5" width="12.5" height="7" fill="#bdff3a"/>
<rect x="153.05" y="510.5" width="11.8" height="7" fill="#bdff3a"/>
<rect x="110.95" y="517.5" width="12.5" height="9" fill="#ffbd00"/>
<rect x="125.05" y="517.5" width="12.4" height="9" fill="#f7f600"/>
<rect x="138.95" y="517.5" width="12.5" height="9" fill="#ffd000"/>
<rect x="153.05" y="517.5" width="11.8" height="9" fill="#efff08"/>
<rect x="110.95" y="526.5" width="12.5" height="4" fill="#ceff29"/>
<rect x="125.05" y="526.5" width="12.4" height="4" fill="#ceff29"/>
<rect x="138.95" y="526.5" width="12.5" height="4" fill="#ceff29"/>
<rect x="153.05" y="526.5" width="11.8" height="4" fill="#ceff29"/>
<rect x="110.95" y="530.5" width="12.5" height="7" fill="#ffb300"/>
<rect x="125.05" y="530.5" width="12.4" height="7" fill="#ffbd00"/>
<rect x="138.95" y="530.5" width="12.5" height="7" fill="#e6ff10"/>
<rect x="153.05" y="530.5" width="11.8" height="7" fill="#ceff29"/>
<rect x="110.95" y="537.5" width="12.5" height="8" fill="#ffbd00"/>
<rect x="125.05" y="537.5" width="12.4" height="8" fill="#ffbd00"/>
<rect x="138.95" y="537.5" width="12.5" height="8" fill="#ffd000"/>
<rect x="153.05" y="537.5" width="11.8" height="8" fill="#efff08"/>
<rect x="110.95" y="545.5" width="12.5" height="6" fill="#ffd000"/>
<rect x="125.05" y="545.5" width="12.4" height="6" fill="#ffd900"/>
<rect x="138.95" y="545.5" width="12.5" height="6" fill="#d6ff21"/>
<rect x="153.05" y="545.5" width="11.8" height="6" fill="#ceff29"/>
<rect x="110.95" y="551.5" width="12.5" height="5" fill="#efff08"/>
<rect x="125.05" y="551.5" width="12.4" height="5" fill="#f7f600"/>
<rect x="138.95" y="551.5" width="12.5" height="5" fill="#ffe300"/>
<rect x="153.05" y="551.5" width="11.8" height="5" fill="#d6ff21"/>
<rect x="138.95" y="556.5" width="12.5" height="2" fill="#ffe300"/>
<rect x="153.05" y="556.5" width="11.8" height="2" fill="#d6ff21"/>
<rect x="110.95" y="558.5" width="12.5" height="8" fill="#efff08"/>
<rect x="125.05" y="558.5" width="12.4" height="8" fill="#efff08"/>
<rect x="138.95" y="558.5" width="12.5" height="8" fill="#efff08"/>
<rect x="153.05" y="558.5" width="11.8" height="8" fill="#deff19"/>
<rect x="110.95" y="580.5" width="12.5" height="24" fill="#efff08"/>
<rect x="125.05" y="580.5" width="12.4" height="24" fill="#efff08"/>
<rect x="138.95" y="580.5" width="12.5" height="24" fill="#deff19"/>
<rect x="153.05" y="580.5" width="11.8" height="24" fill="#e6ff10"/>
<rect x="110.95" y="604.5" width="12.5" height="20" fill="#efff08"/>
<rect x="125.05" y="604.5" width="12.4" height="20" fill="#e6ff10"/>
<rect x="138.95" y="604.5" width="12.5" height="20" fill="#bdff3a"/>
<rect x="153.05" y="604.5" width="11.8" height="20" fill="#e6ff10"/>
<rect x="110.95" y="624.5" width="12.5" height="5" fill="#ffbd00"/>
<rect x="125.05" y="624.5" width="12.4" height="5" fill="#ffbd00"/>
<rect x="138.95" y="624.5" width="12.5" height="5" fill="#efff08"/>
<rect x="153.05" y="624.5" width="11.8" height="5" fill="#deff19"/>
<rect x="110.95" y="629.5" width="12.5" height="4" fill="#ffec00"/>
<rect x="125.05" y="629.5" width="12.4" height="4" fill="#deff19"/>
<rect x="138.95" y="629.5" width="12.5" height="4" fill="#ceff29"/>
<rect x="153.05" y="629.5" width="11.8" height="4" fill="#d6ff21"/>
<rect x="110.95" y="633.5" width="12.5" height="6.5" fill="#ceff29"/>
<rect x="125.05" y="633.5" width="12.4" height="6.5" fill="#ceff29"/>
<rect x="138.95" y="633.5" width="12.5" height="6.5" fill="#bdff3a"/>
<rect x="153.05" y="633.5" width="11.8" height="6.5" fill="#ceff29"/>
</g>
<rect x="123.45" y="103.5" width="1.6" height="9" fill="#18b8f4" opacity="0.85"/>
<rect x="137.45" y="103.5" width="1.5" height="9" fill="#18b8f4" opacity="0.7"/>
<rect x="151.45" y="103.5" width="1.6" height="9" fill="#18b8f4" opacity="0.4"/>
<rect x="123.45" y="112.5" width="1.6" height="7" fill="#18b8f4" opacity="0.3"/>
<rect x="123.45" y="357.5" width="1.6" height="2" fill="#f0c020" opacity="0.9"/>
<rect x="137.45" y="357.5" width="1.5" height="2" fill="#f0c020" opacity="0.9"/>
<rect x="151.45" y="357.5" width="1.6" height="2" fill="#f0c020" opacity="0.9"/>
<rect x="123.45" y="359.5" width="1.6" height="14" fill="#18b8f4" opacity="0.42"/>
<rect x="137.45" y="359.5" width="1.5" height="14" fill="#18b8f4" opacity="0.35"/>
<rect x="151.45" y="359.5" width="1.6" height="14" fill="#18b8f4" opacity="0.33"/>
<rect x="123.45" y="373.5" width="1.6" height="4" fill="#40e0d8" opacity="0.85"/>
<rect x="137.45" y="373.5" width="1.5" height="4" fill="#18b8f4" opacity="0.85"/>
<rect x="151.45" y="373.5" width="1.6" height="4" fill="#18b8f4" opacity="0.75"/>
<rect x="123.45" y="377.5" width="1.6" height="2" fill="#f0c020" opacity="0.9"/>
<rect x="137.45" y="377.5" width="1.5" height="2" fill="#f0c020" opacity="0.9"/>
<rect x="151.45" y="377.5" width="1.6" height="2" fill="#40e0d8" opacity="0.85"/>
<rect x="123.45" y="379.5" width="1.6" height="3" fill="#18b8f4" opacity="0.65"/>
<rect x="137.45" y="379.5" width="1.5" height="3" fill="#18b8f4" opacity="0.65"/>
<rect x="151.45" y="379.5" width="1.6" height="3" fill="#18b8f4" opacity="0.65"/>
<rect x="123.45" y="382.5" width="1.6" height="6" fill="#18b8f4" opacity="0.48"/>
<rect x="137.45" y="382.5" width="1.5" height="6" fill="#18b8f4" opacity="0.4"/>
<rect x="151.45" y="382.5" width="1.6" height="6" fill="#18b8f4" opacity="0.4"/>
<rect x="123.45" y="388.5" width="1.6" height="5" fill="#18b8f4" opacity="0.68"/>
<rect x="137.45" y="388.5" width="1.5" height="5" fill="#18b8f4" opacity="0.65"/>
<rect x="151.45" y="388.5" width="1.6" height="5" fill="#18b8f4" opacity="0.6"/>
<rect x="123.45" y="412.5" width="1.6" height="4" fill="#18b8f4" opacity="0.4"/>
<rect x="151.45" y="412.5" width="1.6" height="4" fill="#18b8f4" opacity="0.33"/>
<rect x="123.45" y="430.5" width="1.6" height="6" fill="#18b8f4" opacity="0.3"/>
<rect x="123.45" y="441.5" width="1.6" height="8" fill="#18b8f4" opacity="0.45"/>
<rect x="137.45" y="441.5" width="1.5" height="8" fill="#18b8f4" opacity="0.33"/>
<rect x="123.45" y="464.5" width="1.6" height="8" fill="#18b8f4" opacity="0.42"/>
<rect x="123.45" y="478.5" width="1.6" height="5" fill="#18b8f4" opacity="0.85"/>
<rect x="137.45" y="478.5" width="1.5" height="5" fill="#40e0d8" opacity="0.85"/>
<rect x="151.45" y="478.5" width="1.6" height="5" fill="#18b8f4" opacity="0.45"/>
<rect x="123.45" y="483.5" width="1.6" height="7" fill="#40e0d8" opacity="0.85"/>
<rect x="137.45" y="483.5" width="1.5" height="7" fill="#18b8f4" opacity="0.85"/>
<rect x="151.45" y="483.5" width="1.6" height="7" fill="#18b8f4" opacity="0.4"/>
<rect x="123.45" y="490.5" width="1.6" height="7" fill="#18b8f4" opacity="0.3"/>
<rect x="137.45" y="490.5" width="1.5" height="7" fill="#18b8f4" opacity="0.4"/>
<rect x="123.45" y="530.5" width="1.6" height="7" fill="#18b8f4" opacity="0.42"/>
<rect x="123.45" y="537.5" width="1.6" height="8" fill="#18b8f4" opacity="0.4"/>
<rect x="137.45" y="537.5" width="1.5" height="8" fill="#18b8f4" opacity="0.35"/>
<rect x="123.45" y="556.5" width="1.6" height="2" fill="#18b8f4" opacity="0.65"/>
<rect x="137.45" y="556.5" width="1.5" height="2" fill="#18b8f4" opacity="0.42"/>
<rect x="123.45" y="566.5" width="1.6" height="6" fill="#40e0d8" opacity="0.85"/>
<rect x="137.45" y="566.5" width="1.5" height="6" fill="#40e0d8" opacity="0.85"/>
<rect x="151.45" y="566.5" width="1.6" height="6" fill="#40e0d8" opacity="0.85"/>
<rect x="123.45" y="572.5" width="1.6" height="2" fill="#18b8f4" opacity="0.55"/>
<rect x="137.45" y="572.5" width="1.5" height="2" fill="#18b8f4" opacity="0.55"/>
<rect x="151.45" y="572.5" width="1.6" height="2" fill="#18b8f4" opacity="0.55"/>
<rect x="123.45" y="574.5" width="1.6" height="6" fill="#40e0d8" opacity="0.85"/>
<rect x="137.45" y="574.5" width="1.5" height="6" fill="#40e0d8" opacity="0.85"/>
<rect x="151.45" y="574.5" width="1.6" height="6" fill="#40e0d8" opacity="0.85"/>
<rect x="123.45" y="624.5" width="1.6" height="5" fill="#18b8f4" opacity="0.4"/>
<g filter="url(#nzh2)">
<rect x="110.95" y="103.5" width="12.5" height="9" fill="#ff6800"/>
<rect x="125.05" y="103.5" width="12.4" height="9" fill="#ff5500"/>
<rect x="110.95" y="373.5" width="12.5" height="4" fill="#ff5e00"/>
<rect x="125.05" y="373.5" width="12.4" height="4" fill="#ff5500"/>
<rect x="138.95" y="373.5" width="12.5" height="4" fill="#ff6800"/>
<rect x="153.05" y="373.5" width="11.8" height="4" fill="#ff8e00"/>
<rect x="153.05" y="377.5" width="11.8" height="2" fill="#f30900"/>
<rect x="110.95" y="379.5" width="12.5" height="3" fill="#ff8e00"/>
<rect x="125.05" y="379.5" width="12.4" height="3" fill="#ff8e00"/>
<rect x="138.95" y="379.5" width="12.5" height="3" fill="#ff8e00"/>
<rect x="153.05" y="379.5" width="11.8" height="3" fill="#ff8e00"/>
<rect x="110.95" y="388.5" width="12.5" height="5" fill="#ff8400"/>
<rect x="125.05" y="388.5" width="12.4" height="5" fill="#ff8e00"/>
<rect x="138.95" y="388.5" width="12.5" height="5" fill="#ff8e00"/>
<rect x="153.05" y="388.5" width="11.8" height="5" fill="#ffa100"/>
<rect x="110.95" y="478.5" width="12.5" height="5" fill="#ff7b00"/>
<rect x="125.05" y="478.5" width="12.4" height="5" fill="#ff4200"/>
<rect x="138.95" y="478.5" width="12.5" height="5" fill="#ff7100"/>
<rect x="110.95" y="483.5" width="12.5" height="7" fill="#ff5e00"/>
<rect x="125.05" y="483.5" width="12.4" height="7" fill="#ff2f00"/>
<rect x="138.95" y="483.5" width="12.5" height="7" fill="#ffa100"/>
<rect x="110.95" y="556.5" width="12.5" height="2" fill="#ff8e00"/>
<rect x="125.05" y="556.5" width="12.4" height="2" fill="#ff8e00"/>
<rect x="110.95" y="566.5" width="12.5" height="6" fill="#ff5500"/>
<rect x="125.05" y="566.5" width="12.4" height="6" fill="#ff4200"/>
<rect x="138.95" y="566.5" width="12.5" height="6" fill="#ff4200"/>
<rect x="153.05" y="566.5" width="11.8" height="6" fill="#ff5e00"/>
<rect x="110.95" y="572.5" width="12.5" height="2" fill="#ffa100"/>
<rect x="125.05" y="572.5" width="12.4" height="2" fill="#ffa100"/>
<rect x="138.95" y="572.5" width="12.5" height="2" fill="#ffa100"/>
<rect x="153.05" y="572.5" width="11.8" height="2" fill="#ffa100"/>
<rect x="110.95" y="574.5" width="12.5" height="6" fill="#ff2600"/>
<rect x="125.05" y="574.5" width="12.4" height="6" fill="#ff2600"/>
<rect x="138.95" y="574.5" width="12.5" height="6" fill="#ff2600"/>
<rect x="153.05" y="574.5" width="11.8" height="6" fill="#ff2f00"/>
</g>
<rect x="110.95" y="357.5" width="12.5" height="2" fill="#970000"/>
<rect x="125.05" y="357.5" width="12.4" height="2" fill="#970000"/>
<rect x="138.95" y="357.5" width="12.5" height="2" fill="#970000"/>
<rect x="153.05" y="357.5" width="11.8" height="2" fill="#970000"/>
<rect x="110.95" y="377.5" width="12.5" height="2" fill="#e80000"/>
<rect x="125.05" y="377.5" width="12.4" height="2" fill="#dc0000"/>
<rect x="138.95" y="377.5" width="12.5" height="2" fill="#e80000"/>
<rect x="86.95" y="103.5" width="24" height="13" fill="url(#gl)" opacity="0.4"/>
<rect x="164.85" y="103.5" width="11.5" height="13" fill="url(#gr)" opacity="0.26"/>
<rect x="86.95" y="357.5" width="24" height="6" fill="url(#gl)" opacity="0.6"/>
<rect x="164.85" y="357.5" width="11.5" height="6" fill="url(#gr)" opacity="0.39"/>
<rect x="86.95" y="373.5" width="24" height="14" fill="url(#gl)" opacity="1"/>
<rect x="164.85" y="373.5" width="11.5" height="14" fill="url(#gr)" opacity="0.65"/>
<rect x="86.95" y="388.5" width="24" height="9" fill="url(#gl)" opacity="0.8"/>
<rect x="164.85" y="388.5" width="11.5" height="9" fill="url(#gr)" opacity="0.52"/>
<rect x="86.95" y="464.5" width="24" height="14" fill="url(#gl)" opacity="0.5"/>
<rect x="164.85" y="464.5" width="11.5" height="14" fill="url(#gr)" opacity="0.33"/>
<rect x="86.95" y="478.5" width="24" height="14" fill="url(#gl)" opacity="1"/>
<rect x="164.85" y="478.5" width="11.5" height="14" fill="url(#gr)" opacity="0.65"/>
<rect x="86.95" y="441.5" width="24" height="10" fill="url(#gl)" opacity="0.35"/>
<rect x="164.85" y="441.5" width="11.5" height="10" fill="url(#gr)" opacity="0.23"/>
<rect x="86.95" y="517.5" width="24" height="27" fill="url(#gl)" opacity="0.35"/>
<rect x="164.85" y="517.5" width="11.5" height="27" fill="url(#gr)" opacity="0.23"/>
<rect x="86.95" y="566.5" width="24" height="14" fill="url(#gl)" opacity="1"/>
<rect x="164.85" y="566.5" width="11.5" height="14" fill="url(#gr)" opacity="0.65"/>
<rect x="86.95" y="619.5" width="24" height="8" fill="url(#gl)" opacity="0.3"/>
<rect x="164.85" y="619.5" width="11.5" height="8" fill="url(#gr)" opacity="0.2"/>
<rect x="110.95" y="-0.5" width="1" height="104" fill="#38dce0" opacity="0.8"/>
<rect x="122.45" y="-0.5" width="1" height="104" fill="#38dce0" opacity="0.8"/>
<rect x="111.95" y="-0.5" width="0.9" height="104" fill="#80f890" opacity="0.28"/>
<rect x="121.55" y="-0.5" width="0.9" height="104" fill="#80f890" opacity="0.28"/>
<rect x="125.05" y="-0.5" width="1" height="104" fill="#38dce0" opacity="0.8"/>
<rect x="136.45" y="-0.5" width="1" height="104" fill="#38dce0" opacity="0.8"/>
<rect x="126.05" y="-0.5" width="0.9" height="104" fill="#80f890" opacity="0.28"/>
<rect x="135.55" y="-0.5" width="0.9" height="104" fill="#80f890" opacity="0.28"/>
<rect x="138.95" y="-0.5" width="1" height="358" fill="#38dce0" opacity="0.8"/>
<rect x="150.45" y="-0.5" width="1" height="358" fill="#38dce0" opacity="0.8"/>
<rect x="139.95" y="-0.5" width="0.9" height="358" fill="#80f890" opacity="0.28"/>
<rect x="149.55" y="-0.5" width="0.9" height="358" fill="#80f890" opacity="0.28"/>
<rect x="153.05" y="-0.5" width="1" height="358" fill="#38dce0" opacity="0.8"/>
<rect x="163.85" y="-0.5" width="1" height="358" fill="#38dce0" opacity="0.8"/>
<rect x="154.05" y="-0.5" width="0.9" height="358" fill="#80f890" opacity="0.28"/>
<rect x="162.95" y="-0.5" width="0.9" height="358" fill="#80f890" opacity="0.28"/>
<rect x="110.95" y="103.5" width="1" height="9" fill="#a0f060" opacity="0.75"/>
<rect x="122.45" y="103.5" width="1" height="9" fill="#a0f060" opacity="0.75"/>
<rect x="111.95" y="103.5" width="0.9" height="9" fill="#f0f020" opacity="0.3"/>
<rect x="121.55" y="103.5" width="0.9" height="9" fill="#f0f020" opacity="0.3"/>
<rect x="125.05" y="103.5" width="1" height="9" fill="#a0f060" opacity="0.75"/>
<rect x="136.45" y="103.5" width="1" height="9" fill="#a0f060" opacity="0.75"/>
<rect x="126.05" y="103.5" width="0.9" height="9" fill="#f0f020" opacity="0.3"/>
<rect x="135.55" y="103.5" width="0.9" height="9" fill="#f0f020" opacity="0.3"/>
<rect x="110.95" y="112.5" width="1" height="245" fill="#38dce0" opacity="0.8"/>
<rect x="122.45" y="112.5" width="1" height="245" fill="#38dce0" opacity="0.8"/>
<rect x="111.95" y="112.5" width="0.9" height="245" fill="#80f890" opacity="0.28"/>
<rect x="121.55" y="112.5" width="0.9" height="245" fill="#80f890" opacity="0.28"/>
<rect x="125.05" y="112.5" width="1" height="245" fill="#38dce0" opacity="0.8"/>
<rect x="136.45" y="112.5" width="1" height="245" fill="#38dce0" opacity="0.8"/>
<rect x="126.05" y="112.5" width="0.9" height="245" fill="#80f890" opacity="0.28"/>
<rect x="135.55" y="112.5" width="0.9" height="245" fill="#80f890" opacity="0.28"/>
<rect x="110.95" y="357.5" width="1" height="2" fill="#a0f060" opacity="0.75"/>
<rect x="122.45" y="357.5" width="1" height="2" fill="#a0f060" opacity="0.75"/>
<rect x="111.95" y="357.5" width="0.9" height="2" fill="#f0f020" opacity="0.3"/>
<rect x="121.55" y="357.5" width="0.9" height="2" fill="#f0f020" opacity="0.3"/>
<rect x="125.05" y="357.5" width="1" height="2" fill="#a0f060" opacity="0.75"/>
<rect x="136.45" y="357.5" width="1" height="2" fill="#a0f060" opacity="0.75"/>
<rect x="126.05" y="357.5" width="0.9" height="2" fill="#f0f020" opacity="0.3"/>
<rect x="135.55" y="357.5" width="0.9" height="2" fill="#f0f020" opacity="0.3"/>
<rect x="138.95" y="357.5" width="1" height="2" fill="#a0f060" opacity="0.75"/>
<rect x="150.45" y="357.5" width="1" height="2" fill="#a0f060" opacity="0.75"/>
<rect x="139.95" y="357.5" width="0.9" height="2" fill="#f0f020" opacity="0.3"/>
<rect x="149.55" y="357.5" width="0.9" height="2" fill="#f0f020" opacity="0.3"/>
<rect x="153.05" y="357.5" width="1" height="2" fill="#a0f060" opacity="0.75"/>
<rect x="163.85" y="357.5" width="1" height="2" fill="#a0f060" opacity="0.75"/>
<rect x="154.05" y="357.5" width="0.9" height="2" fill="#f0f020" opacity="0.3"/>
<rect x="162.95" y="357.5" width="0.9" height="2" fill="#f0f020" opacity="0.3"/>
<rect x="110.95" y="359.5" width="1" height="14" fill="#38dce0" opacity="0.8"/>
<rect x="122.45" y="359.5" width="1" height="14" fill="#38dce0" opacity="0.8"/>
<rect x="111.95" y="359.5" width="0.9" height="14" fill="#80f890" opacity="0.28"/>
<rect x="121.55" y="359.5" width="0.9" height="14" fill="#80f890" opacity="0.28"/>
<rect x="125.05" y="359.5" width="1" height="14" fill="#38dce0" opacity="0.8"/>
<rect x="136.45" y="359.5" width="1" height="14" fill="#38dce0" opacity="0.8"/>
<rect x="126.05" y="359.5" width="0.9" height="14" fill="#80f890" opacity="0.28"/>
<rect x="135.55" y="359.5" width="0.9" height="14" fill="#80f890" opacity="0.28"/>
<rect x="138.95" y="359.5" width="1" height="14" fill="#38dce0" opacity="0.8"/>
<rect x="150.45" y="359.5" width="1" height="14" fill="#38dce0" opacity="0.8"/>
<rect x="139.95" y="359.5" width="0.9" height="14" fill="#80f890" opacity="0.28"/>
<rect x="149.55" y="359.5" width="0.9" height="14" fill="#80f890" opacity="0.28"/>
<rect x="153.05" y="359.5" width="1" height="14" fill="#38dce0" opacity="0.8"/>
<rect x="163.85" y="359.5" width="1" height="14" fill="#38dce0" opacity="0.8"/>
<rect x="154.05" y="359.5" width="0.9" height="14" fill="#80f890" opacity="0.28"/>
<rect x="162.95" y="359.5" width="0.9" height="14" fill="#80f890" opacity="0.28"/>
<rect x="110.95" y="373.5" width="1" height="9" fill="#a0f060" opacity="0.75"/>
<rect x="122.45" y="373.5" width="1" height="9" fill="#a0f060" opacity="0.75"/>
<rect x="111.95" y="373.5" width="0.9" height="9" fill="#f0f020" opacity="0.3"/>
<rect x="121.55" y="373.5" width="0.9" height="9" fill="#f0f020" opacity="0.3"/>
<rect x="125.05" y="373.5" width="1" height="9" fill="#a0f060" opacity="0.75"/>
<rect x="136.45" y="373.5" width="1" height="9" fill="#a0f060" opacity="0.75"/>
<rect x="126.05" y="373.5" width="0.9" height="9" fill="#f0f020" opacity="0.3"/>
<rect x="135.55" y="373.5" width="0.9" height="9" fill="#f0f020" opacity="0.3"/>
<rect x="138.95" y="373.5" width="1" height="9" fill="#a0f060" opacity="0.75"/>
<rect x="150.45" y="373.5" width="1" height="9" fill="#a0f060" opacity="0.75"/>
<rect x="139.95" y="373.5" width="0.9" height="9" fill="#f0f020" opacity="0.3"/>
<rect x="149.55" y="373.5" width="0.9" height="9" fill="#f0f020" opacity="0.3"/>
<rect x="153.05" y="373.5" width="1" height="9" fill="#a0f060" opacity="0.75"/>
<rect x="163.85" y="373.5" width="1" height="9" fill="#a0f060" opacity="0.75"/>
<rect x="154.05" y="373.5" width="0.9" height="9" fill="#f0f020" opacity="0.3"/>
<rect x="162.95" y="373.5" width="0.9" height="9" fill="#f0f020" opacity="0.3"/>
<rect x="110.95" y="382.5" width="1" height="6" fill="#38dce0" opacity="0.8"/>
<rect x="122.45" y="382.5" width="1" height="6" fill="#38dce0" opacity="0.8"/>
<rect x="111.95" y="382.5" width="0.9" height="6" fill="#80f890" opacity="0.28"/>
<rect x="121.55" y="382.5" width="0.9" height="6" fill="#80f890" opacity="0.28"/>
<rect x="125.05" y="382.5" width="1" height="6" fill="#38dce0" opacity="0.8"/>
<rect x="136.45" y="382.5" width="1" height="6" fill="#38dce0" opacity="0.8"/>
<rect x="126.05" y="382.5" width="0.9" height="6" fill="#80f890" opacity="0.28"/>
<rect x="135.55" y="382.5" width="0.9" height="6" fill="#80f890" opacity="0.28"/>
<rect x="138.95" y="382.5" width="1" height="6" fill="#38dce0" opacity="0.8"/>
<rect x="150.45" y="382.5" width="1" height="6" fill="#38dce0" opacity="0.8"/>
<rect x="139.95" y="382.5" width="0.9" height="6" fill="#80f890" opacity="0.28"/>
<rect x="149.55" y="382.5" width="0.9" height="6" fill="#80f890" opacity="0.28"/>
<rect x="153.05" y="382.5" width="1" height="6" fill="#38dce0" opacity="0.8"/>
<rect x="163.85" y="382.5" width="1" height="6" fill="#38dce0" opacity="0.8"/>
<rect x="154.05" y="382.5" width="0.9" height="6" fill="#80f890" opacity="0.28"/>
<rect x="162.95" y="382.5" width="0.9" height="6" fill="#80f890" opacity="0.28"/>
<rect x="110.95" y="388.5" width="1" height="5" fill="#a0f060" opacity="0.75"/>
<rect x="122.45" y="388.5" width="1" height="5" fill="#a0f060" opacity="0.75"/>
<rect x="111.95" y="388.5" width="0.9" height="5" fill="#f0f020" opacity="0.3"/>
<rect x="121.55" y="388.5" width="0.9" height="5" fill="#f0f020" opacity="0.3"/>
<rect x="125.05" y="388.5" width="1" height="5" fill="#a0f060" opacity="0.75"/>
<rect x="136.45" y="388.5" width="1" height="5" fill="#a0f060" opacity="0.75"/>
<rect x="126.05" y="388.5" width="0.9" height="5" fill="#f0f020" opacity="0.3"/>
<rect x="135.55" y="388.5" width="0.9" height="5" fill="#f0f020" opacity="0.3"/>
<rect x="138.95" y="388.5" width="1" height="5" fill="#a0f060" opacity="0.75"/>
<rect x="150.45" y="388.5" width="1" height="5" fill="#a0f060" opacity="0.75"/>
<rect x="139.95" y="388.5" width="0.9" height="5" fill="#f0f020" opacity="0.3"/>
<rect x="149.55" y="388.5" width="0.9" height="5" fill="#f0f020" opacity="0.3"/>
<rect x="153.05" y="388.5" width="1" height="5" fill="#a0f060" opacity="0.75"/>
<rect x="163.85" y="388.5" width="1" height="5" fill="#a0f060" opacity="0.75"/>
<rect x="154.05" y="388.5" width="0.9" height="5" fill="#f0f020" opacity="0.3"/>
<rect x="162.95" y="388.5" width="0.9" height="5" fill="#f0f020" opacity="0.3"/>
<rect x="110.95" y="393.5" width="1" height="85" fill="#38dce0" opacity="0.8"/>
<rect x="122.45" y="393.5" width="1" height="85" fill="#38dce0" opacity="0.8"/>
<rect x="111.95" y="393.5" width="0.9" height="85" fill="#80f890" opacity="0.28"/>
<rect x="121.55" y="393.5" width="0.9" height="85" fill="#80f890" opacity="0.28"/>
<rect x="125.05" y="393.5" width="1" height="85" fill="#38dce0" opacity="0.8"/>
<rect x="136.45" y="393.5" width="1" height="85" fill="#38dce0" opacity="0.8"/>
<rect x="126.05" y="393.5" width="0.9" height="85" fill="#80f890" opacity="0.28"/>
<rect x="135.55" y="393.5" width="0.9" height="85" fill="#80f890" opacity="0.28"/>
<rect x="138.95" y="393.5" width="1" height="85" fill="#38dce0" opacity="0.8"/>
<rect x="150.45" y="393.5" width="1" height="85" fill="#38dce0" opacity="0.8"/>
<rect x="139.95" y="393.5" width="0.9" height="85" fill="#80f890" opacity="0.28"/>
<rect x="149.55" y="393.5" width="0.9" height="85" fill="#80f890" opacity="0.28"/>
<rect x="153.05" y="393.5" width="1" height="173" fill="#38dce0" opacity="0.8"/>
<rect x="163.85" y="393.5" width="1" height="173" fill="#38dce0" opacity="0.8"/>
<rect x="154.05" y="393.5" width="0.9" height="173" fill="#80f890" opacity="0.28"/>
<rect x="162.95" y="393.5" width="0.9" height="173" fill="#80f890" opacity="0.28"/>
<rect x="110.95" y="478.5" width="1" height="12" fill="#a0f060" opacity="0.75"/>
<rect x="122.45" y="478.5" width="1" height="12" fill="#a0f060" opacity="0.75"/>
<rect x="111.95" y="478.5" width="0.9" height="12" fill="#f0f020" opacity="0.3"/>
<rect x="121.55" y="478.5" width="0.9" height="12" fill="#f0f020" opacity="0.3"/>
<rect x="125.05" y="478.5" width="1" height="12" fill="#a0f060" opacity="0.75"/>
<rect x="136.45" y="478.5" width="1" height="12" fill="#a0f060" opacity="0.75"/>
<rect x="126.05" y="478.5" width="0.9" height="12" fill="#f0f020" opacity="0.3"/>
<rect x="135.55" y="478.5" width="0.9" height="12" fill="#f0f020" opacity="0.3"/>
<rect x="138.95" y="478.5" width="1" height="12" fill="#a0f060" opacity="0.75"/>
<rect x="150.45" y="478.5" width="1" height="12" fill="#a0f060" opacity="0.75"/>
<rect x="139.95" y="478.5" width="0.9" height="12" fill="#f0f020" opacity="0.3"/>
<rect x="149.55" y="478.5" width="0.9" height="12" fill="#f0f020" opacity="0.3"/>
<rect x="110.95" y="490.5" width="1" height="66" fill="#38dce0" opacity="0.8"/>
<rect x="122.45" y="490.5" width="1" height="66" fill="#38dce0" opacity="0.8"/>
<rect x="111.95" y="490.5" width="0.9" height="66" fill="#80f890" opacity="0.28"/>
<rect x="121.55" y="490.5" width="0.9" height="66" fill="#80f890" opacity="0.28"/>
<rect x="125.05" y="490.5" width="1" height="66" fill="#38dce0" opacity="0.8"/>
<rect x="136.45" y="490.5" width="1" height="66" fill="#38dce0" opacity="0.8"/>
<rect x="126.05" y="490.5" width="0.9" height="66" fill="#80f890" opacity="0.28"/>
<rect x="135.55" y="490.5" width="0.9" height="66" fill="#80f890" opacity="0.28"/>
<rect x="138.95" y="490.5" width="1" height="76" fill="#38dce0" opacity="0.8"/>
<rect x="150.45" y="490.5" width="1" height="76" fill="#38dce0" opacity="0.8"/>
<rect x="139.95" y="490.5" width="0.9" height="76" fill="#80f890" opacity="0.28"/>
<rect x="149.55" y="490.5" width="0.9" height="76" fill="#80f890" opacity="0.28"/>
<rect x="110.95" y="556.5" width="1" height="2" fill="#a0f060" opacity="0.75"/>
<rect x="122.45" y="556.5" width="1" height="2" fill="#a0f060" opacity="0.75"/>
<rect x="111.95" y="556.5" width="0.9" height="2" fill="#f0f020" opacity="0.3"/>
<rect x="121.55" y="556.5" width="0.9" height="2" fill="#f0f020" opacity="0.3"/>
<rect x="125.05" y="556.5" width="1" height="2" fill="#a0f060" opacity="0.75"/>
<rect x="136.45" y="556.5" width="1" height="2" fill="#a0f060" opacity="0.75"/>
<rect x="126.05" y="556.5" width="0.9" height="2" fill="#f0f020" opacity="0.3"/>
<rect x="135.55" y="556.5" width="0.9" height="2" fill="#f0f020" opacity="0.3"/>
<rect x="110.95" y="558.5" width="1" height="8" fill="#38dce0" opacity="0.8"/>
<rect x="122.45" y="558.5" width="1" height="8" fill="#38dce0" opacity="0.8"/>
<rect x="111.95" y="558.5" width="0.9" height="8" fill="#80f890" opacity="0.28"/>
<rect x="121.55" y="558.5" width="0.9" height="8" fill="#80f890" opacity="0.28"/>
<rect x="125.05" y="558.5" width="1" height="8" fill="#38dce0" opacity="0.8"/>
<rect x="136.45" y="558.5" width="1" height="8" fill="#38dce0" opacity="0.8"/>
<rect x="126.05" y="558.5" width="0.9" height="8" fill="#80f890" opacity="0.28"/>
<rect x="135.55" y="558.5" width="0.9" height="8" fill="#80f890" opacity="0.28"/>
<rect x="110.95" y="566.5" width="1" height="14" fill="#a0f060" opacity="0.75"/>
<rect x="122.45" y="566.5" width="1" height="14" fill="#a0f060" opacity="0.75"/>
<rect x="111.95" y="566.5" width="0.9" height="14" fill="#f0f020" opacity="0.3"/>
<rect x="121.55" y="566.5" width="0.9" height="14" fill="#f0f020" opacity="0.3"/>
<rect x="125.05" y="566.5" width="1" height="14" fill="#a0f060" opacity="0.75"/>
<rect x="136.45" y="566.5" width="1" height="14" fill="#a0f060" opacity="0.75"/>
<rect x="126.05" y="566.5" width="0.9" height="14" fill="#f0f020" opacity="0.3"/>
<rect x="135.55" y="566.5" width="0.9" height="14" fill="#f0f020" opacity="0.3"/>
<rect x="138.95" y="566.5" width="1" height="14" fill="#a0f060" opacity="0.75"/>
<rect x="150.45" y="566.5" width="1" height="14" fill="#a0f060" opacity="0.75"/>
<rect x="139.95" y="566.5" width="0.9" height="14" fill="#f0f020" opacity="0.3"/>
<rect x="149.55" y="566.5" width="0.9" height="14" fill="#f0f020" opacity="0.3"/>
<rect x="153.05" y="566.5" width="1" height="14" fill="#a0f060" opacity="0.75"/>
<rect x="163.85" y="566.5" width="1" height="14" fill="#a0f060" opacity="0.75"/>
<rect x="154.05" y="566.5" width="0.9" height="14" fill="#f0f020" opacity="0.3"/>
<rect x="162.95" y="566.5" width="0.9" height="14" fill="#f0f020" opacity="0.3"/>
<rect x="110.95" y="580.5" width="1" height="59.5" fill="#38dce0" opacity="0.8"/>
<rect x="122.45" y="580.5" width="1" height="59.5" fill="#38dce0" opacity="0.8"/>
<rect x="111.95" y="580.5" width="0.9" height="59.5" fill="#80f890" opacity="0.28"/>
<rect x="121.55" y="580.5" width="0.9" height="59.5" fill="#80f890" opacity="0.28"/>
<rect x="125.05" y="580.5" width="1" height="59.5" fill="#38dce0" opacity="0.8"/>
<rect x="136.45" y="580.5" width="1" height="59.5" fill="#38dce0" opacity="0.8"/>
<rect x="126.05" y="580.5" width="0.9" height="59.5" fill="#80f890" opacity="0.28"/>
<rect x="135.55" y="580.5" width="0.9" height="59.5" fill="#80f890" opacity="0.28"/>
<rect x="138.95" y="580.5" width="1" height="59.5" fill="#38dce0" opacity="0.8"/>
<rect x="150.45" y="580.5" width="1" height="59.5" fill="#38dce0" opacity="0.8"/>
<rect x="139.95" y="580.5" width="0.9" height="59.5" fill="#80f890" opacity="0.28"/>
<rect x="149.55" y="580.5" width="0.9" height="59.5" fill="#80f890" opacity="0.28"/>
<rect x="153.05" y="580.5" width="1" height="59.5" fill="#38dce0" opacity="0.8"/>
<rect x="163.85" y="580.5" width="1" height="59.5" fill="#38dce0" opacity="0.8"/>
<rect x="154.05" y="580.5" width="0.9" height="59.5" fill="#80f890" opacity="0.28"/>
<rect x="162.95" y="580.5" width="0.9" height="59.5" fill="#80f890" opacity="0.28"/>
<rect x="0" y="4.5" width="177" height="9" fill="#fff"/>
<rect x="0" y="18.5" width="177" height="2" fill="#fff"/>
<rect x="0" y="22.5" width="177" height="5" fill="#fff"/>
<rect x="0" y="34.5" width="177" height="6" fill="#fff"/>
<rect x="0" y="47.5" width="177" height="3" fill="#fff"/>
<rect x="0" y="55.5" width="177" height="2" fill="#fff"/>
<rect x="0" y="58.5" width="177" height="1" fill="#fff"/>
<rect x="0" y="62.5" width="177" height="2" fill="#fff"/>
<rect x="0" y="78.5" width="177" height="2" fill="#fff"/>
<rect x="0" y="83.5" width="177" height="16" fill="#fff"/>
<rect x="0" y="122.5" width="177" height="8" fill="#fff"/>
<rect x="0" y="132.5" width="177" height="4" fill="#fff"/>
<rect x="0" y="137.5" width="177" height="1" fill="#fff"/>
<rect x="0" y="143.5" width="177" height="1" fill="#fff"/>
<rect x="0" y="153.5" width="177" height="13" fill="#fff"/>
<rect x="0" y="171.5" width="177" height="1" fill="#fff"/>
<rect x="0" y="176.5" width="177" height="1" fill="#fff"/>
<rect x="0" y="179.5" width="177" height="1" fill="#fff"/>
<rect x="0" y="182.5" width="177" height="1" fill="#fff"/>
<rect x="0" y="184.5" width="177" height="19" fill="#fff"/>
<rect x="0" y="205.5" width="177" height="1" fill="#fff"/>
<rect x="0" y="207.5" width="177" height="1" fill="#fff"/>
<rect x="0" y="213.5" width="177" height="1" fill="#fff"/>
<rect x="0" y="220.5" width="177" height="1" fill="#fff"/>
<rect x="0" y="223.5" width="177" height="1" fill="#fff"/>
<rect x="0" y="226.5" width="177" height="1" fill="#fff"/>
<rect x="0" y="229.5" width="177" height="1" fill="#fff"/>
<rect x="0" y="261.5" width="177" height="1" fill="#fff"/>
<rect x="0" y="267.5" width="177" height="1" fill="#fff"/>
<rect x="0" y="276.5" width="177" height="1" fill="#fff"/>
<rect x="0" y="279.5" width="177" height="5" fill="#fff"/>
<rect x="0" y="305.5" width="177" height="2" fill="#fff"/>
<rect x="0" y="317.5" width="177" height="1" fill="#fff"/>
<rect x="0" y="353.5" width="177" height="4" fill="#fff"/>
<rect x="0" y="368.5" width="177" height="1" fill="#fff"/>
<rect x="0" y="381.5" width="177" height="1" fill="#fff"/>
<rect x="0" y="397.5" width="177" height="1" fill="#fff"/>
<rect x="0" y="409.5" width="177" height="1" fill="#fff"/>
<rect x="0" y="411.5" width="177" height="1" fill="#fff"/>
<rect x="0" y="419.5" width="177" height="1" fill="#fff"/>
<rect x="0" y="422.5" width="177" height="5" fill="#fff"/>
<rect x="0" y="435.5" width="177" height="1" fill="#fff"/>
<rect x="0" y="452.5" width="177" height="1" fill="#fff"/>
<rect x="0" y="463.5" width="177" height="1" fill="#fff"/>
<rect x="0" y="482.5" width="177" height="1" fill="#fff"/>
<rect x="0" y="493.5" width="177" height="4" fill="#fff"/>
<rect x="0" y="509.5" width="177" height="1" fill="#fff"/>
<rect x="0" y="517.5" width="177" height="1" fill="#fff"/>
<rect x="0" y="544.5" width="177" height="1" fill="#fff"/>
<rect x="0" y="549.5" width="177" height="2" fill="#fff"/>
<rect x="0" y="558.5" width="177" height="1" fill="#fff"/>
<rect x="0" y="561.5" width="177" height="5" fill="#fff"/>
<rect x="0" y="582.5" width="177" height="4" fill="#fff"/>
<rect x="0" y="627.5" width="177" height="2" fill="#fff"/>
<rect x="0" y="637.5" width="177" height="2" fill="#fff"/>
<rect x="0" y="161.5" width="177" height="1" fill="#30d8f8"/>
<rect x="0" y="181.5" width="177" height="1" fill="#58d8e0"/>
<rect x="0" y="14.5" width="177" height="1" fill="#000"/>
<rect x="0" y="29.5" width="177" height="1" fill="#000"/>
<rect x="0" y="34.5" width="177" height="1" fill="#000"/>
<rect x="0" y="45.5" width="177" height="1" fill="#000"/>
<rect x="0" y="50.5" width="177" height="1" fill="#000"/>
<rect x="0" y="60.5" width="177" height="1" fill="#000"/>
<rect x="0" y="66.5" width="177" height="1" fill="#000"/>
<rect x="0" y="92.5" width="177" height="1" fill="#000"/>
<rect x="0" y="117.5" width="177" height="2" fill="#000"/>
<rect x="0" y="130.5" width="177" height="1" fill="#000"/>
<rect x="0" y="136.5" width="177" height="1" fill="#000"/>
<rect x="0" y="169.5" width="177" height="1" fill="#000"/>
<rect x="0" y="173.5" width="177" height="1" fill="#000"/>
<rect x="0" y="177.5" width="177" height="2" fill="#000"/>
<rect x="0" y="180.5" width="177" height="1" fill="#000"/>
<rect x="0" y="183.5" width="177" height="1" fill="#000"/>
<rect x="0" y="212.5" width="177" height="1" fill="#000"/>
<rect x="0" y="219.5" width="177" height="1" fill="#000"/>
<rect x="0" y="224.5" width="177" height="2" fill="#000"/>
<rect x="0" y="275.5" width="177" height="1" fill="#000"/>
<rect x="0" y="287.5" width="177" height="1" fill="#000"/>
<rect x="0" y="297.5" width="177" height="1" fill="#000"/>
<rect x="0" y="309.5" width="177" height="2" fill="#000"/>
<rect x="0" y="316.5" width="177" height="1" fill="#000"/>
<rect x="0" y="323.5" width="177" height="1" fill="#000"/>
<rect x="0" y="328.5" width="177" height="1" fill="#000"/>
<rect x="0" y="348.5" width="177" height="1" fill="#000"/>
<rect x="0" y="350.5" width="177" height="1" fill="#000"/>
<rect x="0" y="363.5" width="177" height="5" fill="#000"/>
<rect x="0" y="369.5" width="177" height="4" fill="#000"/>
<rect x="0" y="387.5" width="177" height="2" fill="#000"/>
<rect x="0" y="399.5" width="177" height="4" fill="#000"/>
<rect x="0" y="405.5" width="177" height="2" fill="#000"/>
<rect x="0" y="415.5" width="177" height="2" fill="#000"/>
<rect x="0" y="429.5" width="177" height="1" fill="#000"/>
<rect x="0" y="506.5" width="177" height="1" fill="#000"/>
<rect x="0" y="580.5" width="177" height="1" fill="#000"/>
<rect x="0" y="586.5" width="177" height="1" fill="#000"/>
<rect x="-0.5" y="634.5" width="1" height="5.5" fill="#000"/>
<rect x="-0.5" y="0" width="1" height="5.5" fill="#000"/>
<rect x="40.98" y="634.5" width="1" height="5.5" fill="#000"/>
<rect x="40.98" y="0" width="1" height="5.5" fill="#000"/>
<rect x="82.46" y="634.5" width="1" height="5.5" fill="#000"/>
<rect x="82.46" y="0" width="1" height="5.5" fill="#000"/>
<rect x="123.94" y="634.5" width="1" height="5.5" fill="#000"/>
<rect x="123.94" y="0" width="1" height="5.5" fill="#000"/>
<rect x="165.42" y="634.5" width="1" height="5.5" fill="#000"/>
<rect x="165.42" y="0" width="1" height="5.5" fill="#000"/>
<rect x="0" y="639.5" width="5.5" height="1" fill="#000"/>
<rect x="171.5" y="639.5" width="5.5" height="1" fill="#000"/>
<rect x="0" y="506.17" width="5.5" height="1" fill="#000"/>
<rect x="171.5" y="506.17" width="5.5" height="1" fill="#000"/>
<rect x="0" y="372.83" width="5.5" height="1" fill="#000"/>
<rect x="171.5" y="372.83" width="5.5" height="1" fill="#000"/>
<rect x="0" y="239.5" width="5.5" height="1" fill="#000"/>
<rect x="171.5" y="239.5" width="5.5" height="1" fill="#000"/>
<rect x="0" y="106.17" width="5.5" height="1" fill="#000"/>
<rect x="171.5" y="106.17" width="5.5" height="1" fill="#000"/>
<rect x="0" y="0" width="177" height="640" fill="none" stroke="#000" stroke-width="1"/>
</g>
<g transform="translate(768.5,80.5)">
<g filter="url(#nzd3)">
<rect x="0" y="203.5" width="177" height="150" fill="#000cf0"/>
</g>
<g filter="url(#nzb3)">
<rect x="0" y="-0.5" width="177" height="204" fill="#002cfa"/>
<rect x="0" y="353.5" width="177" height="74" fill="#0024f8"/>
<rect x="0" y="427.5" width="177" height="213" fill="#0020f6"/>
<rect x="0" y="427.5" width="177" height="212.5" fill="#fff" filter="url(#cl3)"/>
</g>
<rect x="111.25" y="0" width="53.9" height="640" fill="#0418d0"/>
<g filter="url(#nzy3)">
<rect x="111.25" y="-0.5" width="12.5" height="14" fill="#adff4a"/>
<rect x="125.35" y="-0.5" width="12.4" height="14" fill="#adff4a"/>
<rect x="139.25" y="-0.5" width="12.5" height="14" fill="#9cff5a"/>
<rect x="153.35" y="-0.5" width="11.8" height="14" fill="#7bff7b"/>
<rect x="111.25" y="13.5" width="12.5" height="14" fill="#efff08"/>
<rect x="125.35" y="13.5" width="12.4" height="14" fill="#deff19"/>
<rect x="139.25" y="13.5" width="12.5" height="14" fill="#adff4a"/>
<rect x="153.35" y="13.5" width="11.8" height="14" fill="#7bff7b"/>
<rect x="111.25" y="27.5" width="12.5" height="13" fill="#bdff3a"/>
<rect x="125.35" y="27.5" width="12.4" height="13" fill="#bdff3a"/>
<rect x="139.25" y="27.5" width="12.5" height="13" fill="#7bff7b"/>
<rect x="153.35" y="27.5" width="11.8" height="13" fill="#6bff8c"/>
<rect x="111.25" y="40.5" width="12.5" height="10" fill="#ceff29"/>
<rect x="125.35" y="40.5" width="12.4" height="10" fill="#efff08"/>
<rect x="139.25" y="40.5" width="12.5" height="10" fill="#adff4a"/>
<rect x="153.35" y="40.5" width="11.8" height="10" fill="#adff4a"/>
<rect x="111.25" y="50.5" width="12.5" height="14" fill="#efff08"/>
<rect x="125.35" y="50.5" width="12.4" height="14" fill="#efff08"/>
<rect x="139.25" y="50.5" width="12.5" height="14" fill="#bdff3a"/>
<rect x="153.35" y="50.5" width="11.8" height="14" fill="#7bff7b"/>
<rect x="111.25" y="64.5" width="12.5" height="16" fill="#ffec00"/>
<rect x="125.35" y="64.5" width="12.4" height="16" fill="#efff08"/>
<rect x="139.25" y="64.5" width="12.5" height="16" fill="#bdff3a"/>
<rect x="153.35" y="64.5" width="11.8" height="16" fill="#6bff8c"/>
<rect x="111.25" y="80.5" width="12.5" height="19" fill="#ffc600"/>
<rect x="125.35" y="80.5" width="12.4" height="19" fill="#efff08"/>
<rect x="139.25" y="80.5" width="12.5" height="19" fill="#ffec00"/>
<rect x="153.35" y="80.5" width="11.8" height="19" fill="#bdff3a"/>
<rect x="111.25" y="99.5" width="12.5" height="4" fill="#ffec00"/>
<rect x="125.35" y="99.5" width="12.4" height="4" fill="#ffec00"/>
<rect x="139.25" y="99.5" width="12.5" height="4" fill="#efff08"/>
<rect x="153.35" y="99.5" width="11.8" height="4" fill="#efff08"/>
<rect x="139.25" y="103.5" width="12.5" height="8" fill="#ffb300"/>
<rect x="111.25" y="111.5" width="12.5" height="8" fill="#ffc600"/>
<rect x="125.35" y="111.5" width="12.4" height="8" fill="#ffc600"/>
<rect x="139.25" y="111.5" width="12.5" height="8" fill="#ffec00"/>
<rect x="153.35" y="111.5" width="11.8" height="8" fill="#ffec00"/>
<rect x="111.25" y="119.5" width="12.5" height="12" fill="#5aff9c"/>
<rect x="125.35" y="119.5" width="12.4" height="12" fill="#5aff9c"/>
<rect x="139.25" y="119.5" width="12.5" height="12" fill="#5aff9c"/>
<rect x="153.35" y="119.5" width="11.8" height="12" fill="#5aff9c"/>
<rect x="111.25" y="131.5" width="12.5" height="5" fill="#ceff29"/>
<rect x="125.35" y="131.5" width="12.4" height="5" fill="#ceff29"/>
<rect x="139.25" y="131.5" width="12.5" height="5" fill="#adff4a"/>
<rect x="153.35" y="131.5" width="11.8" height="5" fill="#9cff5a"/>
<rect x="111.25" y="136.5" width="12.5" height="8" fill="#bdff3a"/>
<rect x="125.35" y="136.5" width="12.4" height="8" fill="#ceff29"/>
<rect x="139.25" y="136.5" width="12.5" height="8" fill="#9cff5a"/>
<rect x="153.35" y="136.5" width="11.8" height="8" fill="#7bff7b"/>
<rect x="111.25" y="144.5" width="12.5" height="22" fill="#ceff29"/>
<rect x="125.35" y="144.5" width="12.4" height="22" fill="#ceff29"/>
<rect x="139.25" y="144.5" width="12.5" height="22" fill="#9cff5a"/>
<rect x="153.35" y="144.5" width="11.8" height="22" fill="#5aff9c"/>
<rect x="111.25" y="166.5" width="12.5" height="37" fill="#deff19"/>
<rect x="125.35" y="166.5" width="12.4" height="37" fill="#ffec00"/>
<rect x="139.25" y="166.5" width="12.5" height="37" fill="#bdff3a"/>
<rect x="153.35" y="166.5" width="11.8" height="37" fill="#7bff7b"/>
<rect x="111.25" y="203.5" width="12.5" height="11" fill="#ceff29"/>
<rect x="125.35" y="203.5" width="12.4" height="11" fill="#adff4a"/>
<rect x="139.25" y="203.5" width="12.5" height="11" fill="#84ff73"/>
<rect x="153.35" y="203.5" width="11.8" height="11" fill="#84ff73"/>
<rect x="111.25" y="214.5" width="12.5" height="7" fill="#d6ff21"/>
<rect x="125.35" y="214.5" width="12.4" height="7" fill="#bdff3a"/>
<rect x="139.25" y="214.5" width="12.5" height="7" fill="#bdff3a"/>
<rect x="153.35" y="214.5" width="11.8" height="7" fill="#adff4a"/>
<rect x="111.25" y="221.5" width="12.5" height="9" fill="#ceff29"/>
<rect x="125.35" y="221.5" width="12.4" height="9" fill="#deff19"/>
<rect x="139.25" y="221.5" width="12.5" height="9" fill="#bdff3a"/>
<rect x="153.35" y="221.5" width="11.8" height="9" fill="#adff4a"/>
<rect x="111.25" y="230.5" width="12.5" height="14" fill="#deff19"/>
<rect x="125.35" y="230.5" width="12.4" height="14" fill="#d6ff21"/>
<rect x="139.25" y="230.5" width="12.5" height="14" fill="#9cff5a"/>
<rect x="153.35" y="230.5" width="11.8" height="14" fill="#7bff7b"/>
<rect x="111.25" y="244.5" width="12.5" height="9" fill="#deff19"/>
<rect x="125.35" y="244.5" width="12.4" height="9" fill="#ffe300"/>
<rect x="139.25" y="244.5" width="12.5" height="9" fill="#adff4a"/>
<rect x="153.35" y="244.5" width="11.8" height="9" fill="#7bff7b"/>
<rect x="111.25" y="253.5" width="12.5" height="9" fill="#ceff29"/>
<rect x="125.35" y="253.5" width="12.4" height="9" fill="#ceff29"/>
<rect x="139.25" y="253.5" width="12.5" height="9" fill="#9cff5a"/>
<rect x="153.35" y="253.5" width="11.8" height="9" fill="#7bff7b"/>
<rect x="111.25" y="262.5" width="12.5" height="6" fill="#ceff29"/>
<rect x="125.35" y="262.5" width="12.4" height="6" fill="#ceff29"/>
<rect x="139.25" y="262.5" width="12.5" height="6" fill="#9cff5a"/>
<rect x="153.35" y="262.5" width="11.8" height="6" fill="#84ff73"/>
<rect x="111.25" y="268.5" width="12.5" height="9" fill="#ffe300"/>
<rect x="125.35" y="268.5" width="12.4" height="9" fill="#efff08"/>
<rect x="139.25" y="268.5" width="12.5" height="9" fill="#9cff5a"/>
<rect x="153.35" y="268.5" width="11.8" height="9" fill="#84ff73"/>
<rect x="111.25" y="277.5" width="12.5" height="7" fill="#9cff5a"/>
<rect x="125.35" y="277.5" width="12.4" height="7" fill="#9cff5a"/>
<rect x="139.25" y="277.5" width="12.5" height="7" fill="#9cff5a"/>
<rect x="153.35" y="277.5" width="11.8" height="7" fill="#9cff5a"/>
<rect x="111.25" y="284.5" width="12.5" height="4" fill="#ceff29"/>
<rect x="125.35" y="284.5" width="12.4" height="4" fill="#ceff29"/>
<rect x="139.25" y="284.5" width="12.5" height="4" fill="#bdff3a"/>
<rect x="153.35" y="284.5" width="11.8" height="4" fill="#adff4a"/>
<rect x="111.25" y="288.5" width="12.5" height="10" fill="#deff19"/>
<rect x="125.35" y="288.5" width="12.4" height="10" fill="#bdff3a"/>
<rect x="139.25" y="288.5" width="12.5" height="10" fill="#adff4a"/>
<rect x="153.35" y="288.5" width="11.8" height="10" fill="#adff4a"/>
<rect x="111.25" y="298.5" width="12.5" height="9" fill="#f7f600"/>
<rect x="125.35" y="298.5" width="12.4" height="9" fill="#d6ff21"/>
<rect x="139.25" y="298.5" width="12.5" height="9" fill="#ceff29"/>
<rect x="153.35" y="298.5" width="11.8" height="9" fill="#bdff3a"/>
<rect x="111.25" y="307.5" width="12.5" height="4" fill="#ffd900"/>
<rect x="125.35" y="307.5" width="12.4" height="4" fill="#deff19"/>
<rect x="139.25" y="307.5" width="12.5" height="4" fill="#ffec00"/>
<rect x="153.35" y="307.5" width="11.8" height="4" fill="#deff19"/>
<rect x="111.25" y="311.5" width="12.5" height="7" fill="#9cff5a"/>
<rect x="125.35" y="311.5" width="12.4" height="7" fill="#bdff3a"/>
<rect x="139.25" y="311.5" width="12.5" height="7" fill="#9cff5a"/>
<rect x="153.35" y="311.5" width="11.8" height="7" fill="#adff4a"/>
<rect x="111.25" y="318.5" width="12.5" height="6" fill="#deff19"/>
<rect x="125.35" y="318.5" width="12.4" height="6" fill="#d6ff21"/>
<rect x="139.25" y="318.5" width="12.5" height="6" fill="#adff4a"/>
<rect x="153.35" y="318.5" width="11.8" height="6" fill="#84ff73"/>
<rect x="111.25" y="324.5" width="12.5" height="5" fill="#d6ff21"/>
<rect x="125.35" y="324.5" width="12.4" height="5" fill="#ceff29"/>
<rect x="139.25" y="324.5" width="12.5" height="5" fill="#9cff5a"/>
<rect x="153.35" y="324.5" width="11.8" height="5" fill="#84ff73"/>
<rect x="111.25" y="329.5" width="12.5" height="8" fill="#deff19"/>
<rect x="125.35" y="329.5" width="12.4" height="8" fill="#c5ff31"/>
<rect x="139.25" y="329.5" width="12.5" height="8" fill="#adff4a"/>
<rect x="153.35" y="329.5" width="11.8" height="8" fill="#a5ff52"/>
<rect x="111.25" y="337.5" width="12.5" height="6" fill="#ffec00"/>
<rect x="125.35" y="337.5" width="12.4" height="6" fill="#c5ff31"/>
<rect x="139.25" y="337.5" width="12.5" height="6" fill="#adff4a"/>
<rect x="153.35" y="337.5" width="11.8" height="6" fill="#a5ff52"/>
<rect x="111.25" y="343.5" width="12.5" height="6" fill="#deff19"/>
<rect x="125.35" y="343.5" width="12.4" height="6" fill="#c5ff31"/>
<rect x="139.25" y="343.5" width="12.5" height="6" fill="#adff4a"/>
<rect x="153.35" y="343.5" width="11.8" height="6" fill="#a5ff52"/>
<rect x="111.25" y="349.5" width="12.5" height="2" fill="#deff19"/>
<rect x="125.35" y="349.5" width="12.4" height="2" fill="#deff19"/>
<rect x="139.25" y="349.5" width="12.5" height="2" fill="#deff19"/>
<rect x="153.35" y="349.5" width="11.8" height="2" fill="#deff19"/>
<rect x="111.25" y="351.5" width="12.5" height="6" fill="#9cff5a"/>
<rect x="125.35" y="351.5" width="12.4" height="6" fill="#9cff5a"/>
<rect x="139.25" y="351.5" width="12.5" height="6" fill="#9cff5a"/>
<rect x="153.35" y="351.5" width="11.8" height="6" fill="#9cff5a"/>
<rect x="111.25" y="359.5" width="12.5" height="14" fill="#ffb300"/>
<rect x="125.35" y="359.5" width="12.4" height="14" fill="#ffbd00"/>
<rect x="139.25" y="359.5" width="12.5" height="14" fill="#ffc600"/>
<rect x="153.35" y="359.5" width="11.8" height="14" fill="#ffc600"/>
<rect x="125.35" y="382.5" width="12.4" height="6" fill="#ffaa00"/>
<rect x="139.25" y="382.5" width="12.5" height="6" fill="#ffb300"/>
<rect x="153.35" y="382.5" width="11.8" height="6" fill="#ffbd00"/>
<rect x="153.35" y="388.5" width="11.8" height="5" fill="#ffc600"/>
<rect x="111.25" y="393.5" width="12.5" height="9" fill="#ffd900"/>
<rect x="125.35" y="393.5" width="12.4" height="9" fill="#ffd900"/>
<rect x="139.25" y="393.5" width="12.5" height="9" fill="#deff19"/>
<rect x="153.35" y="393.5" width="11.8" height="9" fill="#bdff3a"/>
<rect x="111.25" y="402.5" width="12.5" height="4" fill="#ffd900"/>
<rect x="125.35" y="402.5" width="12.4" height="4" fill="#ffec00"/>
<rect x="139.25" y="402.5" width="12.5" height="4" fill="#efff08"/>
<rect x="153.35" y="402.5" width="11.8" height="4" fill="#ceff29"/>
<rect x="111.25" y="406.5" width="12.5" height="6" fill="#ceff29"/>
<rect x="125.35" y="406.5" width="12.4" height="6" fill="#ceff29"/>
<rect x="139.25" y="406.5" width="12.5" height="6" fill="#ceff29"/>
<rect x="153.35" y="406.5" width="11.8" height="6" fill="#ceff29"/>
<rect x="111.25" y="412.5" width="12.5" height="4" fill="#ffaa00"/>
<rect x="125.35" y="412.5" width="12.4" height="4" fill="#ffc600"/>
<rect x="139.25" y="412.5" width="12.5" height="4" fill="#ffd900"/>
<rect x="153.35" y="412.5" width="11.8" height="4" fill="#ffb300"/>
<rect x="111.25" y="416.5" width="12.5" height="3" fill="#deff19"/>
<rect x="125.35" y="416.5" width="12.4" height="3" fill="#ffec00"/>
<rect x="139.25" y="416.5" width="12.5" height="3" fill="#deff19"/>
<rect x="153.35" y="416.5" width="11.8" height="3" fill="#ceff29"/>
<rect x="111.25" y="419.5" width="12.5" height="8" fill="#ceff29"/>
<rect x="125.35" y="419.5" width="12.4" height="8" fill="#ceff29"/>
<rect x="139.25" y="419.5" width="12.5" height="8" fill="#ceff29"/>
<rect x="153.35" y="419.5" width="11.8" height="8" fill="#ceff29"/>
<rect x="111.25" y="427.5" width="12.5" height="3" fill="#adff4a"/>
<rect x="125.35" y="427.5" width="12.4" height="3" fill="#adff4a"/>
<rect x="139.25" y="427.5" width="12.5" height="3" fill="#adff4a"/>
<rect x="153.35" y="427.5" width="11.8" height="3" fill="#adff4a"/>
<rect x="111.25" y="430.5" width="12.5" height="6" fill="#ffd000"/>
<rect x="125.35" y="430.5" width="12.4" height="6" fill="#ffd000"/>
<rect x="139.25" y="430.5" width="12.5" height="6" fill="#ceff29"/>
<rect x="153.35" y="430.5" width="11.8" height="6" fill="#bdff3a"/>
<rect x="111.25" y="436.5" width="12.5" height="3" fill="#efff08"/>
<rect x="125.35" y="436.5" width="12.4" height="3" fill="#e6ff10"/>
<rect x="139.25" y="436.5" width="12.5" height="3" fill="#ceff29"/>
<rect x="153.35" y="436.5" width="11.8" height="3" fill="#deff19"/>
<rect x="111.25" y="439.5" width="12.5" height="10" fill="#ffbd00"/>
<rect x="125.35" y="439.5" width="12.4" height="10" fill="#efff08"/>
<rect x="139.25" y="439.5" width="12.5" height="10" fill="#ffec00"/>
<rect x="153.35" y="439.5" width="11.8" height="10" fill="#ffbd00"/>
<rect x="111.25" y="449.5" width="12.5" height="4" fill="#deff19"/>
<rect x="125.35" y="449.5" width="12.4" height="4" fill="#deff19"/>
<rect x="139.25" y="449.5" width="12.5" height="4" fill="#deff19"/>
<rect x="153.35" y="449.5" width="11.8" height="4" fill="#deff19"/>
<rect x="111.25" y="453.5" width="12.5" height="11" fill="#ffd000"/>
<rect x="125.35" y="453.5" width="12.4" height="11" fill="#ffd000"/>
<rect x="139.25" y="453.5" width="12.5" height="11" fill="#d6ff21"/>
<rect x="153.35" y="453.5" width="11.8" height="11" fill="#efff08"/>
<rect x="111.25" y="464.5" width="12.5" height="8" fill="#ffaa00"/>
<rect x="125.35" y="464.5" width="12.4" height="8" fill="#ffb300"/>
<rect x="139.25" y="464.5" width="12.5" height="8" fill="#e6ff10"/>
<rect x="153.35" y="464.5" width="11.8" height="8" fill="#ffec00"/>
<rect x="111.25" y="472.5" width="12.5" height="5" fill="#ffc600"/>
<rect x="125.35" y="472.5" width="12.4" height="5" fill="#ffec00"/>
<rect x="139.25" y="472.5" width="12.5" height="5" fill="#ffb300"/>
<rect x="153.35" y="472.5" width="11.8" height="5" fill="#deff19"/>
<rect x="153.35" y="483.5" width="11.8" height="7" fill="#ffaa00"/>
<rect x="111.25" y="490.5" width="12.5" height="7" fill="#ffc600"/>
<rect x="125.35" y="490.5" width="12.4" height="7" fill="#ffc600"/>
<rect x="139.25" y="490.5" width="12.5" height="7" fill="#ffc600"/>
<rect x="153.35" y="490.5" width="11.8" height="7" fill="#ffd900"/>
<rect x="111.25" y="497.5" width="12.5" height="13" fill="#ffe300"/>
<rect x="125.35" y="497.5" width="12.4" height="13" fill="#e6ff10"/>
<rect x="139.25" y="497.5" width="12.5" height="13" fill="#ceff29"/>
<rect x="153.35" y="497.5" width="11.8" height="13" fill="#d6ff21"/>
<rect x="111.25" y="510.5" width="12.5" height="7" fill="#ffd000"/>
<rect x="125.35" y="510.5" width="12.4" height="7" fill="#ffd900"/>
<rect x="139.25" y="510.5" width="12.5" height="7" fill="#ceff29"/>
<rect x="153.35" y="510.5" width="11.8" height="7" fill="#bdff3a"/>
<rect x="111.25" y="517.5" width="12.5" height="9" fill="#ffd900"/>
<rect x="125.35" y="517.5" width="12.4" height="9" fill="#ffd000"/>
<rect x="139.25" y="517.5" width="12.5" height="9" fill="#ffd900"/>
<rect x="153.35" y="517.5" width="11.8" height="9" fill="#ffd000"/>
<rect x="111.25" y="526.5" width="12.5" height="4" fill="#d6ff21"/>
<rect x="125.35" y="526.5" width="12.4" height="4" fill="#d6ff21"/>
<rect x="139.25" y="526.5" width="12.5" height="4" fill="#d6ff21"/>
<rect x="153.35" y="526.5" width="11.8" height="4" fill="#d6ff21"/>
<rect x="111.25" y="530.5" width="12.5" height="7" fill="#ffb300"/>
<rect x="125.35" y="530.5" width="12.4" height="7" fill="#ffb300"/>
<rect x="139.25" y="530.5" width="12.5" height="7" fill="#f7f600"/>
<rect x="153.35" y="530.5" width="11.8" height="7" fill="#ceff29"/>
<rect x="111.25" y="537.5" width="12.5" height="8" fill="#ffb300"/>
<rect x="125.35" y="537.5" width="12.4" height="8" fill="#ffc600"/>
<rect x="139.25" y="537.5" width="12.5" height="8" fill="#ffec00"/>
<rect x="153.35" y="537.5" width="11.8" height="8" fill="#ffe300"/>
<rect x="111.25" y="545.5" width="12.5" height="6" fill="#ffd900"/>
<rect x="125.35" y="545.5" width="12.4" height="6" fill="#ffd900"/>
<rect x="139.25" y="545.5" width="12.5" height="6" fill="#deff19"/>
<rect x="153.35" y="545.5" width="11.8" height="6" fill="#ceff29"/>
<rect x="111.25" y="551.5" width="12.5" height="5" fill="#efff08"/>
<rect x="125.35" y="551.5" width="12.4" height="5" fill="#efff08"/>
<rect x="139.25" y="551.5" width="12.5" height="5" fill="#e6ff10"/>
<rect x="153.35" y="551.5" width="11.8" height="5" fill="#bdff3a"/>
<rect x="139.25" y="556.5" width="12.5" height="2" fill="#e6ff10"/>
<rect x="153.35" y="556.5" width="11.8" height="2" fill="#bdff3a"/>
<rect x="111.25" y="558.5" width="12.5" height="8" fill="#efff08"/>
<rect x="125.35" y="558.5" width="12.4" height="8" fill="#efff08"/>
<rect x="139.25" y="558.5" width="12.5" height="8" fill="#deff19"/>
<rect x="153.35" y="558.5" width="11.8" height="8" fill="#ceff29"/>
<rect x="111.25" y="580.5" width="12.5" height="19" fill="#ffec00"/>
<rect x="125.35" y="580.5" width="12.4" height="19" fill="#efff08"/>
<rect x="139.25" y="580.5" width="12.5" height="19" fill="#ceff29"/>
<rect x="153.35" y="580.5" width="11.8" height="19" fill="#deff19"/>
<rect x="111.25" y="599.5" width="12.5" height="25" fill="#efff08"/>
<rect x="125.35" y="599.5" width="12.4" height="25" fill="#efff08"/>
<rect x="139.25" y="599.5" width="12.5" height="25" fill="#ceff29"/>
<rect x="153.35" y="599.5" width="11.8" height="25" fill="#ceff29"/>
<rect x="111.25" y="624.5" width="12.5" height="5" fill="#ffbd00"/>
<rect x="125.35" y="624.5" width="12.4" height="5" fill="#ffbd00"/>
<rect x="139.25" y="624.5" width="12.5" height="5" fill="#deff19"/>
<rect x="153.35" y="624.5" width="11.8" height="5" fill="#ceff29"/>
<rect x="111.25" y="629.5" width="12.5" height="4" fill="#efff08"/>
<rect x="125.35" y="629.5" width="12.4" height="4" fill="#deff19"/>
<rect x="139.25" y="629.5" width="12.5" height="4" fill="#ceff29"/>
<rect x="153.35" y="629.5" width="11.8" height="4" fill="#ceff29"/>
<rect x="111.25" y="633.5" width="12.5" height="6.5" fill="#bdff3a"/>
<rect x="125.35" y="633.5" width="12.4" height="6.5" fill="#ceff29"/>
<rect x="139.25" y="633.5" width="12.5" height="6.5" fill="#bdff3a"/>
<rect x="153.35" y="633.5" width="11.8" height="6.5" fill="#bdff3a"/>
</g>
<rect x="123.75" y="103.5" width="1.6" height="8" fill="#18b8f4" opacity="0.8"/>
<rect x="137.75" y="103.5" width="1.5" height="8" fill="#18b8f4" opacity="0.55"/>
<rect x="151.75" y="103.5" width="1.6" height="8" fill="#18b8f4" opacity="0.5"/>
<rect x="123.75" y="111.5" width="1.6" height="8" fill="#18b8f4" opacity="0.35"/>
<rect x="123.75" y="357.5" width="1.6" height="2" fill="#f0c020" opacity="0.9"/>
<rect x="137.75" y="357.5" width="1.5" height="2" fill="#f0c020" opacity="0.9"/>
<rect x="151.75" y="357.5" width="1.6" height="2" fill="#f0c020" opacity="0.9"/>
<rect x="123.75" y="359.5" width="1.6" height="14" fill="#18b8f4" opacity="0.42"/>
<rect x="137.75" y="359.5" width="1.5" height="14" fill="#18b8f4" opacity="0.38"/>
<rect x="151.75" y="359.5" width="1.6" height="14" fill="#18b8f4" opacity="0.35"/>
<rect x="123.75" y="373.5" width="1.6" height="4" fill="#18b8f4" opacity="0.85"/>
<rect x="137.75" y="373.5" width="1.5" height="4" fill="#18b8f4" opacity="0.85"/>
<rect x="151.75" y="373.5" width="1.6" height="4" fill="#18b8f4" opacity="0.73"/>
<rect x="123.75" y="377.5" width="1.6" height="2" fill="#f0c020" opacity="0.9"/>
<rect x="137.75" y="377.5" width="1.5" height="2" fill="#f0c020" opacity="0.9"/>
<rect x="151.75" y="377.5" width="1.6" height="2" fill="#40e0d8" opacity="0.85"/>
<rect x="123.75" y="379.5" width="1.6" height="3" fill="#18b8f4" opacity="0.65"/>
<rect x="137.75" y="379.5" width="1.5" height="3" fill="#18b8f4" opacity="0.65"/>
<rect x="151.75" y="379.5" width="1.6" height="3" fill="#18b8f4" opacity="0.65"/>
<rect x="123.75" y="382.5" width="1.6" height="6" fill="#18b8f4" opacity="0.52"/>
<rect x="137.75" y="382.5" width="1.5" height="6" fill="#18b8f4" opacity="0.48"/>
<rect x="151.75" y="382.5" width="1.6" height="6" fill="#18b8f4" opacity="0.42"/>
<rect x="123.75" y="388.5" width="1.6" height="5" fill="#18b8f4" opacity="0.62"/>
<rect x="137.75" y="388.5" width="1.5" height="5" fill="#18b8f4" opacity="0.62"/>
<rect x="151.75" y="388.5" width="1.6" height="5" fill="#18b8f4" opacity="0.48"/>
<rect x="123.75" y="412.5" width="1.6" height="4" fill="#18b8f4" opacity="0.42"/>
<rect x="137.75" y="412.5" width="1.5" height="4" fill="#18b8f4" opacity="0.3"/>
<rect x="151.75" y="412.5" width="1.6" height="4" fill="#18b8f4" opacity="0.35"/>
<rect x="123.75" y="464.5" width="1.6" height="8" fill="#18b8f4" opacity="0.48"/>
<rect x="123.75" y="477.5" width="1.6" height="6" fill="#18b8f4" opacity="0.85"/>
<rect x="137.75" y="477.5" width="1.5" height="6" fill="#18b8f4" opacity="0.85"/>
<rect x="151.75" y="477.5" width="1.6" height="6" fill="#18b8f4" opacity="0.7"/>
<rect x="123.75" y="483.5" width="1.6" height="7" fill="#18b8f4" opacity="0.82"/>
<rect x="137.75" y="483.5" width="1.5" height="7" fill="#18b8f4" opacity="0.62"/>
<rect x="151.75" y="483.5" width="1.6" height="7" fill="#18b8f4" opacity="0.6"/>
<rect x="123.75" y="490.5" width="1.6" height="7" fill="#18b8f4" opacity="0.35"/>
<rect x="137.75" y="490.5" width="1.5" height="7" fill="#18b8f4" opacity="0.35"/>
<rect x="151.75" y="490.5" width="1.6" height="7" fill="#18b8f4" opacity="0.3"/>
<rect x="123.75" y="530.5" width="1.6" height="7" fill="#18b8f4" opacity="0.45"/>
<rect x="123.75" y="537.5" width="1.6" height="8" fill="#18b8f4" opacity="0.4"/>
<rect x="123.75" y="556.5" width="1.6" height="2" fill="#18b8f4" opacity="0.62"/>
<rect x="137.75" y="556.5" width="1.5" height="2" fill="#18b8f4" opacity="0.3"/>
<rect x="123.75" y="566.5" width="1.6" height="6" fill="#40e0d8" opacity="0.85"/>
<rect x="137.75" y="566.5" width="1.5" height="6" fill="#40e0d8" opacity="0.85"/>
<rect x="151.75" y="566.5" width="1.6" height="6" fill="#18b8f4" opacity="0.85"/>
<rect x="123.75" y="572.5" width="1.6" height="2" fill="#18b8f4" opacity="0.55"/>
<rect x="137.75" y="572.5" width="1.5" height="2" fill="#18b8f4" opacity="0.55"/>
<rect x="151.75" y="572.5" width="1.6" height="2" fill="#18b8f4" opacity="0.55"/>
<rect x="123.75" y="574.5" width="1.6" height="6" fill="#40e0d8" opacity="0.85"/>
<rect x="137.75" y="574.5" width="1.5" height="6" fill="#40e0d8" opacity="0.85"/>
<rect x="151.75" y="574.5" width="1.6" height="6" fill="#40e0d8" opacity="0.85"/>
<rect x="123.75" y="624.5" width="1.6" height="5" fill="#18b8f4" opacity="0.4"/>
<g filter="url(#nzh3)">
<rect x="111.25" y="103.5" width="12.5" height="8" fill="#ff5500"/>
<rect x="125.35" y="103.5" width="12.4" height="8" fill="#ff8e00"/>
<rect x="153.35" y="103.5" width="11.8" height="8" fill="#ffa100"/>
<rect x="111.25" y="373.5" width="12.5" height="4" fill="#ff5e00"/>
<rect x="125.35" y="373.5" width="12.4" height="4" fill="#ff5e00"/>
<rect x="139.25" y="373.5" width="12.5" height="4" fill="#ff6800"/>
<rect x="153.35" y="373.5" width="11.8" height="4" fill="#ff9700"/>
<rect x="139.25" y="377.5" width="12.5" height="2" fill="#f30900"/>
<rect x="153.35" y="377.5" width="11.8" height="2" fill="#ff1300"/>
<rect x="111.25" y="379.5" width="12.5" height="3" fill="#ff8e00"/>
<rect x="125.35" y="379.5" width="12.4" height="3" fill="#ff8e00"/>
<rect x="139.25" y="379.5" width="12.5" height="3" fill="#ff8e00"/>
<rect x="153.35" y="379.5" width="11.8" height="3" fill="#ff8e00"/>
<rect x="111.25" y="382.5" width="12.5" height="6" fill="#ffa100"/>
<rect x="111.25" y="388.5" width="12.5" height="5" fill="#ff9700"/>
<rect x="125.35" y="388.5" width="12.4" height="5" fill="#ff8e00"/>
<rect x="139.25" y="388.5" width="12.5" height="5" fill="#ff9700"/>
<rect x="111.25" y="477.5" width="12.5" height="6" fill="#ff6800"/>
<rect x="125.35" y="477.5" width="12.4" height="6" fill="#ff5500"/>
<rect x="139.25" y="477.5" width="12.5" height="6" fill="#ff6800"/>
<rect x="153.35" y="477.5" width="11.8" height="6" fill="#ffa100"/>
<rect x="111.25" y="483.5" width="12.5" height="7" fill="#ff3900"/>
<rect x="125.35" y="483.5" width="12.4" height="7" fill="#ffa100"/>
<rect x="139.25" y="483.5" width="12.5" height="7" fill="#ff8400"/>
<rect x="111.25" y="556.5" width="12.5" height="2" fill="#ff8e00"/>
<rect x="125.35" y="556.5" width="12.4" height="2" fill="#ff9700"/>
<rect x="111.25" y="566.5" width="12.5" height="6" fill="#ff5500"/>
<rect x="125.35" y="566.5" width="12.4" height="6" fill="#ff3900"/>
<rect x="139.25" y="566.5" width="12.5" height="6" fill="#ff4c00"/>
<rect x="153.35" y="566.5" width="11.8" height="6" fill="#ff7b00"/>
<rect x="111.25" y="572.5" width="12.5" height="2" fill="#ffa100"/>
<rect x="125.35" y="572.5" width="12.4" height="2" fill="#ffa100"/>
<rect x="139.25" y="572.5" width="12.5" height="2" fill="#ffa100"/>
<rect x="153.35" y="572.5" width="11.8" height="2" fill="#ffa100"/>
<rect x="111.25" y="574.5" width="12.5" height="6" fill="#ff2600"/>
<rect x="125.35" y="574.5" width="12.4" height="6" fill="#ff2600"/>
<rect x="139.25" y="574.5" width="12.5" height="6" fill="#ff2f00"/>
<rect x="153.35" y="574.5" width="11.8" height="6" fill="#ff5500"/>
</g>
<rect x="111.25" y="357.5" width="12.5" height="2" fill="#970000"/>
<rect x="125.35" y="357.5" width="12.4" height="2" fill="#970000"/>
<rect x="139.25" y="357.5" width="12.5" height="2" fill="#970000"/>
<rect x="153.35" y="357.5" width="11.8" height="2" fill="#970000"/>
<rect x="111.25" y="377.5" width="12.5" height="2" fill="#e80000"/>
<rect x="125.35" y="377.5" width="12.4" height="2" fill="#e80000"/>
<rect x="87.25" y="103.5" width="24" height="12" fill="url(#gl)" opacity="0.4"/>
<rect x="165.15" y="103.5" width="11.5" height="12" fill="url(#gr)" opacity="0.26"/>
<rect x="87.25" y="357.5" width="24" height="6" fill="url(#gl)" opacity="0.6"/>
<rect x="165.15" y="357.5" width="11.5" height="6" fill="url(#gr)" opacity="0.39"/>
<rect x="87.25" y="373.5" width="24" height="24" fill="url(#gl)" opacity="1"/>
<rect x="165.15" y="373.5" width="11.5" height="24" fill="url(#gr)" opacity="0.65"/>
<rect x="87.25" y="475.5" width="24" height="17" fill="url(#gl)" opacity="1"/>
<rect x="165.15" y="475.5" width="11.5" height="17" fill="url(#gr)" opacity="0.65"/>
<rect x="87.25" y="566.5" width="24" height="14" fill="url(#gl)" opacity="1"/>
<rect x="165.15" y="566.5" width="11.5" height="14" fill="url(#gr)" opacity="0.65"/>
<rect x="87.25" y="517.5" width="24" height="27" fill="url(#gl)" opacity="0.3"/>
<rect x="165.15" y="517.5" width="11.5" height="27" fill="url(#gr)" opacity="0.2"/>
<rect x="87.25" y="619.5" width="24" height="10" fill="url(#gl)" opacity="0.4"/>
<rect x="165.15" y="619.5" width="11.5" height="10" fill="url(#gr)" opacity="0.26"/>
<rect x="111.25" y="-0.5" width="1" height="104" fill="#38dce0" opacity="0.8"/>
<rect x="122.75" y="-0.5" width="1" height="104" fill="#38dce0" opacity="0.8"/>
<rect x="112.25" y="-0.5" width="0.9" height="104" fill="#80f890" opacity="0.28"/>
<rect x="121.85" y="-0.5" width="0.9" height="104" fill="#80f890" opacity="0.28"/>
<rect x="125.35" y="-0.5" width="1" height="104" fill="#38dce0" opacity="0.8"/>
<rect x="136.75" y="-0.5" width="1" height="104" fill="#38dce0" opacity="0.8"/>
<rect x="126.35" y="-0.5" width="0.9" height="104" fill="#80f890" opacity="0.28"/>
<rect x="135.85" y="-0.5" width="0.9" height="104" fill="#80f890" opacity="0.28"/>
<rect x="139.25" y="-0.5" width="1" height="358" fill="#38dce0" opacity="0.8"/>
<rect x="150.75" y="-0.5" width="1" height="358" fill="#38dce0" opacity="0.8"/>
<rect x="140.25" y="-0.5" width="0.9" height="358" fill="#80f890" opacity="0.28"/>
<rect x="149.85" y="-0.5" width="0.9" height="358" fill="#80f890" opacity="0.28"/>
<rect x="153.35" y="-0.5" width="1" height="104" fill="#38dce0" opacity="0.8"/>
<rect x="164.15" y="-0.5" width="1" height="104" fill="#38dce0" opacity="0.8"/>
<rect x="154.35" y="-0.5" width="0.9" height="104" fill="#80f890" opacity="0.28"/>
<rect x="163.25" y="-0.5" width="0.9" height="104" fill="#80f890" opacity="0.28"/>
<rect x="111.25" y="103.5" width="1" height="8" fill="#a0f060" opacity="0.75"/>
<rect x="122.75" y="103.5" width="1" height="8" fill="#a0f060" opacity="0.75"/>
<rect x="112.25" y="103.5" width="0.9" height="8" fill="#f0f020" opacity="0.3"/>
<rect x="121.85" y="103.5" width="0.9" height="8" fill="#f0f020" opacity="0.3"/>
<rect x="125.35" y="103.5" width="1" height="8" fill="#a0f060" opacity="0.75"/>
<rect x="136.75" y="103.5" width="1" height="8" fill="#a0f060" opacity="0.75"/>
<rect x="126.35" y="103.5" width="0.9" height="8" fill="#f0f020" opacity="0.3"/>
<rect x="135.85" y="103.5" width="0.9" height="8" fill="#f0f020" opacity="0.3"/>
<rect x="153.35" y="103.5" width="1" height="8" fill="#a0f060" opacity="0.75"/>
<rect x="164.15" y="103.5" width="1" height="8" fill="#a0f060" opacity="0.75"/>
<rect x="154.35" y="103.5" width="0.9" height="8" fill="#f0f020" opacity="0.3"/>
<rect x="163.25" y="103.5" width="0.9" height="8" fill="#f0f020" opacity="0.3"/>
<rect x="111.25" y="111.5" width="1" height="246" fill="#38dce0" opacity="0.8"/>
<rect x="122.75" y="111.5" width="1" height="246" fill="#38dce0" opacity="0.8"/>
<rect x="112.25" y="111.5" width="0.9" height="246" fill="#80f890" opacity="0.28"/>
<rect x="121.85" y="111.5" width="0.9" height="246" fill="#80f890" opacity="0.28"/>
<rect x="125.35" y="111.5" width="1" height="246" fill="#38dce0" opacity="0.8"/>
<rect x="136.75" y="111.5" width="1" height="246" fill="#38dce0" opacity="0.8"/>
<rect x="126.35" y="111.5" width="0.9" height="246" fill="#80f890" opacity="0.28"/>
<rect x="135.85" y="111.5" width="0.9" height="246" fill="#80f890" opacity="0.28"/>
<rect x="153.35" y="111.5" width="1" height="246" fill="#38dce0" opacity="0.8"/>
<rect x="164.15" y="111.5" width="1" height="246" fill="#38dce0" opacity="0.8"/>
<rect x="154.35" y="111.5" width="0.9" height="246" fill="#80f890" opacity="0.28"/>
<rect x="163.25" y="111.5" width="0.9" height="246" fill="#80f890" opacity="0.28"/>
<rect x="111.25" y="357.5" width="1" height="2" fill="#a0f060" opacity="0.75"/>
<rect x="122.75" y="357.5" width="1" height="2" fill="#a0f060" opacity="0.75"/>
<rect x="112.25" y="357.5" width="0.9" height="2" fill="#f0f020" opacity="0.3"/>
<rect x="121.85" y="357.5" width="0.9" height="2" fill="#f0f020" opacity="0.3"/>
<rect x="125.35" y="357.5" width="1" height="2" fill="#a0f060" opacity="0.75"/>
<rect x="136.75" y="357.5" width="1" height="2" fill="#a0f060" opacity="0.75"/>
<rect x="126.35" y="357.5" width="0.9" height="2" fill="#f0f020" opacity="0.3"/>
<rect x="135.85" y="357.5" width="0.9" height="2" fill="#f0f020" opacity="0.3"/>
<rect x="139.25" y="357.5" width="1" height="2" fill="#a0f060" opacity="0.75"/>
<rect x="150.75" y="357.5" width="1" height="2" fill="#a0f060" opacity="0.75"/>
<rect x="140.25" y="357.5" width="0.9" height="2" fill="#f0f020" opacity="0.3"/>
<rect x="149.85" y="357.5" width="0.9" height="2" fill="#f0f020" opacity="0.3"/>
<rect x="153.35" y="357.5" width="1" height="2" fill="#a0f060" opacity="0.75"/>
<rect x="164.15" y="357.5" width="1" height="2" fill="#a0f060" opacity="0.75"/>
<rect x="154.35" y="357.5" width="0.9" height="2" fill="#f0f020" opacity="0.3"/>
<rect x="163.25" y="357.5" width="0.9" height="2" fill="#f0f020" opacity="0.3"/>
<rect x="111.25" y="359.5" width="1" height="14" fill="#38dce0" opacity="0.8"/>
<rect x="122.75" y="359.5" width="1" height="14" fill="#38dce0" opacity="0.8"/>
<rect x="112.25" y="359.5" width="0.9" height="14" fill="#80f890" opacity="0.28"/>
<rect x="121.85" y="359.5" width="0.9" height="14" fill="#80f890" opacity="0.28"/>
<rect x="125.35" y="359.5" width="1" height="14" fill="#38dce0" opacity="0.8"/>
<rect x="136.75" y="359.5" width="1" height="14" fill="#38dce0" opacity="0.8"/>
<rect x="126.35" y="359.5" width="0.9" height="14" fill="#80f890" opacity="0.28"/>
<rect x="135.85" y="359.5" width="0.9" height="14" fill="#80f890" opacity="0.28"/>
<rect x="139.25" y="359.5" width="1" height="14" fill="#38dce0" opacity="0.8"/>
<rect x="150.75" y="359.5" width="1" height="14" fill="#38dce0" opacity="0.8"/>
<rect x="140.25" y="359.5" width="0.9" height="14" fill="#80f890" opacity="0.28"/>
<rect x="149.85" y="359.5" width="0.9" height="14" fill="#80f890" opacity="0.28"/>
<rect x="153.35" y="359.5" width="1" height="14" fill="#38dce0" opacity="0.8"/>
<rect x="164.15" y="359.5" width="1" height="14" fill="#38dce0" opacity="0.8"/>
<rect x="154.35" y="359.5" width="0.9" height="14" fill="#80f890" opacity="0.28"/>
<rect x="163.25" y="359.5" width="0.9" height="14" fill="#80f890" opacity="0.28"/>
<rect x="111.25" y="373.5" width="1" height="20" fill="#a0f060" opacity="0.75"/>
<rect x="122.75" y="373.5" width="1" height="20" fill="#a0f060" opacity="0.75"/>
<rect x="112.25" y="373.5" width="0.9" height="20" fill="#f0f020" opacity="0.3"/>
<rect x="121.85" y="373.5" width="0.9" height="20" fill="#f0f020" opacity="0.3"/>
<rect x="125.35" y="373.5" width="1" height="9" fill="#a0f060" opacity="0.75"/>
<rect x="136.75" y="373.5" width="1" height="9" fill="#a0f060" opacity="0.75"/>
<rect x="126.35" y="373.5" width="0.9" height="9" fill="#f0f020" opacity="0.3"/>
<rect x="135.85" y="373.5" width="0.9" height="9" fill="#f0f020" opacity="0.3"/>
<rect x="139.25" y="373.5" width="1" height="9" fill="#a0f060" opacity="0.75"/>
<rect x="150.75" y="373.5" width="1" height="9" fill="#a0f060" opacity="0.75"/>
<rect x="140.25" y="373.5" width="0.9" height="9" fill="#f0f020" opacity="0.3"/>
<rect x="149.85" y="373.5" width="0.9" height="9" fill="#f0f020" opacity="0.3"/>
<rect x="153.35" y="373.5" width="1" height="9" fill="#a0f060" opacity="0.75"/>
<rect x="164.15" y="373.5" width="1" height="9" fill="#a0f060" opacity="0.75"/>
<rect x="154.35" y="373.5" width="0.9" height="9" fill="#f0f020" opacity="0.3"/>
<rect x="163.25" y="373.5" width="0.9" height="9" fill="#f0f020" opacity="0.3"/>
<rect x="125.35" y="382.5" width="1" height="6" fill="#38dce0" opacity="0.8"/>
<rect x="136.75" y="382.5" width="1" height="6" fill="#38dce0" opacity="0.8"/>
<rect x="126.35" y="382.5" width="0.9" height="6" fill="#80f890" opacity="0.28"/>
<rect x="135.85" y="382.5" width="0.9" height="6" fill="#80f890" opacity="0.28"/>
<rect x="139.25" y="382.5" width="1" height="6" fill="#38dce0" opacity="0.8"/>
<rect x="150.75" y="382.5" width="1" height="6" fill="#38dce0" opacity="0.8"/>
<rect x="140.25" y="382.5" width="0.9" height="6" fill="#80f890" opacity="0.28"/>
<rect x="149.85" y="382.5" width="0.9" height="6" fill="#80f890" opacity="0.28"/>
<rect x="153.35" y="382.5" width="1" height="95" fill="#38dce0" opacity="0.8"/>
<rect x="164.15" y="382.5" width="1" height="95" fill="#38dce0" opacity="0.8"/>
<rect x="154.35" y="382.5" width="0.9" height="95" fill="#80f890" opacity="0.28"/>
<rect x="163.25" y="382.5" width="0.9" height="95" fill="#80f890" opacity="0.28"/>
<rect x="125.35" y="388.5" width="1" height="5" fill="#a0f060" opacity="0.75"/>
<rect x="136.75" y="388.5" width="1" height="5" fill="#a0f060" opacity="0.75"/>
<rect x="126.35" y="388.5" width="0.9" height="5" fill="#f0f020" opacity="0.3"/>
<rect x="135.85" y="388.5" width="0.9" height="5" fill="#f0f020" opacity="0.3"/>
<rect x="139.25" y="388.5" width="1" height="5" fill="#a0f060" opacity="0.75"/>
<rect x="150.75" y="388.5" width="1" height="5" fill="#a0f060" opacity="0.75"/>
<rect x="140.25" y="388.5" width="0.9" height="5" fill="#f0f020" opacity="0.3"/>
<rect x="149.85" y="388.5" width="0.9" height="5" fill="#f0f020" opacity="0.3"/>
<rect x="111.25" y="393.5" width="1" height="84" fill="#38dce0" opacity="0.8"/>
<rect x="122.75" y="393.5" width="1" height="84" fill="#38dce0" opacity="0.8"/>
<rect x="112.25" y="393.5" width="0.9" height="84" fill="#80f890" opacity="0.28"/>
<rect x="121.85" y="393.5" width="0.9" height="84" fill="#80f890" opacity="0.28"/>
<rect x="125.35" y="393.5" width="1" height="84" fill="#38dce0" opacity="0.8"/>
<rect x="136.75" y="393.5" width="1" height="84" fill="#38dce0" opacity="0.8"/>
<rect x="126.35" y="393.5" width="0.9" height="84" fill="#80f890" opacity="0.28"/>
<rect x="135.85" y="393.5" width="0.9" height="84" fill="#80f890" opacity="0.28"/>
<rect x="139.25" y="393.5" width="1" height="84" fill="#38dce0" opacity="0.8"/>
<rect x="150.75" y="393.5" width="1" height="84" fill="#38dce0" opacity="0.8"/>
<rect x="140.25" y="393.5" width="0.9" height="84" fill="#80f890" opacity="0.28"/>
<rect x="149.85" y="393.5" width="0.9" height="84" fill="#80f890" opacity="0.28"/>
<rect x="111.25" y="477.5" width="1" height="13" fill="#a0f060" opacity="0.75"/>
<rect x="122.75" y="477.5" width="1" height="13" fill="#a0f060" opacity="0.75"/>
<rect x="112.25" y="477.5" width="0.9" height="13" fill="#f0f020" opacity="0.3"/>
<rect x="121.85" y="477.5" width="0.9" height="13" fill="#f0f020" opacity="0.3"/>
<rect x="125.35" y="477.5" width="1" height="13" fill="#a0f060" opacity="0.75"/>
<rect x="136.75" y="477.5" width="1" height="13" fill="#a0f060" opacity="0.75"/>
<rect x="126.35" y="477.5" width="0.9" height="13" fill="#f0f020" opacity="0.3"/>
<rect x="135.85" y="477.5" width="0.9" height="13" fill="#f0f020" opacity="0.3"/>
<rect x="139.25" y="477.5" width="1" height="13" fill="#a0f060" opacity="0.75"/>
<rect x="150.75" y="477.5" width="1" height="13" fill="#a0f060" opacity="0.75"/>
<rect x="140.25" y="477.5" width="0.9" height="13" fill="#f0f020" opacity="0.3"/>
<rect x="149.85" y="477.5" width="0.9" height="13" fill="#f0f020" opacity="0.3"/>
<rect x="153.35" y="477.5" width="1" height="6" fill="#a0f060" opacity="0.75"/>
<rect x="164.15" y="477.5" width="1" height="6" fill="#a0f060" opacity="0.75"/>
<rect x="154.35" y="477.5" width="0.9" height="6" fill="#f0f020" opacity="0.3"/>
<rect x="163.25" y="477.5" width="0.9" height="6" fill="#f0f020" opacity="0.3"/>
<rect x="153.35" y="483.5" width="1" height="83" fill="#38dce0" opacity="0.8"/>
<rect x="164.15" y="483.5" width="1" height="83" fill="#38dce0" opacity="0.8"/>
<rect x="154.35" y="483.5" width="0.9" height="83" fill="#80f890" opacity="0.28"/>
<rect x="163.25" y="483.5" width="0.9" height="83" fill="#80f890" opacity="0.28"/>
<rect x="111.25" y="490.5" width="1" height="66" fill="#38dce0" opacity="0.8"/>
<rect x="122.75" y="490.5" width="1" height="66" fill="#38dce0" opacity="0.8"/>
<rect x="112.25" y="490.5" width="0.9" height="66" fill="#80f890" opacity="0.28"/>
<rect x="121.85" y="490.5" width="0.9" height="66" fill="#80f890" opacity="0.28"/>
<rect x="125.35" y="490.5" width="1" height="66" fill="#38dce0" opacity="0.8"/>
<rect x="136.75" y="490.5" width="1" height="66" fill="#38dce0" opacity="0.8"/>
<rect x="126.35" y="490.5" width="0.9" height="66" fill="#80f890" opacity="0.28"/>
<rect x="135.85" y="490.5" width="0.9" height="66" fill="#80f890" opacity="0.28"/>
<rect x="139.25" y="490.5" width="1" height="76" fill="#38dce0" opacity="0.8"/>
<rect x="150.75" y="490.5" width="1" height="76" fill="#38dce0" opacity="0.8"/>
<rect x="140.25" y="490.5" width="0.9" height="76" fill="#80f890" opacity="0.28"/>
<rect x="149.85" y="490.5" width="0.9" height="76" fill="#80f890" opacity="0.28"/>
<rect x="111.25" y="556.5" width="1" height="2" fill="#a0f060" opacity="0.75"/>
<rect x="122.75" y="556.5" width="1" height="2" fill="#a0f060" opacity="0.75"/>
<rect x="112.25" y="556.5" width="0.9" height="2" fill="#f0f020" opacity="0.3"/>
<rect x="121.85" y="556.5" width="0.9" height="2" fill="#f0f020" opacity="0.3"/>
<rect x="125.35" y="556.5" width="1" height="2" fill="#a0f060" opacity="0.75"/>
<rect x="136.75" y="556.5" width="1" height="2" fill="#a0f060" opacity="0.75"/>
<rect x="126.35" y="556.5" width="0.9" height="2" fill="#f0f020" opacity="0.3"/>
<rect x="135.85" y="556.5" width="0.9" height="2" fill="#f0f020" opacity="0.3"/>
<rect x="111.25" y="558.5" width="1" height="8" fill="#38dce0" opacity="0.8"/>
<rect x="122.75" y="558.5" width="1" height="8" fill="#38dce0" opacity="0.8"/>
<rect x="112.25" y="558.5" width="0.9" height="8" fill="#80f890" opacity="0.28"/>
<rect x="121.85" y="558.5" width="0.9" height="8" fill="#80f890" opacity="0.28"/>
<rect x="125.35" y="558.5" width="1" height="8" fill="#38dce0" opacity="0.8"/>
<rect x="136.75" y="558.5" width="1" height="8" fill="#38dce0" opacity="0.8"/>
<rect x="126.35" y="558.5" width="0.9" height="8" fill="#80f890" opacity="0.28"/>
<rect x="135.85" y="558.5" width="0.9" height="8" fill="#80f890" opacity="0.28"/>
<rect x="111.25" y="566.5" width="1" height="14" fill="#a0f060" opacity="0.75"/>
<rect x="122.75" y="566.5" width="1" height="14" fill="#a0f060" opacity="0.75"/>
<rect x="112.25" y="566.5" width="0.9" height="14" fill="#f0f020" opacity="0.3"/>
<rect x="121.85" y="566.5" width="0.9" height="14" fill="#f0f020" opacity="0.3"/>
<rect x="125.35" y="566.5" width="1" height="14" fill="#a0f060" opacity="0.75"/>
<rect x="136.75" y="566.5" width="1" height="14" fill="#a0f060" opacity="0.75"/>
<rect x="126.35" y="566.5" width="0.9" height="14" fill="#f0f020" opacity="0.3"/>
<rect x="135.85" y="566.5" width="0.9" height="14" fill="#f0f020" opacity="0.3"/>
<rect x="139.25" y="566.5" width="1" height="14" fill="#a0f060" opacity="0.75"/>
<rect x="150.75" y="566.5" width="1" height="14" fill="#a0f060" opacity="0.75"/>
<rect x="140.25" y="566.5" width="0.9" height="14" fill="#f0f020" opacity="0.3"/>
<rect x="149.85" y="566.5" width="0.9" height="14" fill="#f0f020" opacity="0.3"/>
<rect x="153.35" y="566.5" width="1" height="14" fill="#a0f060" opacity="0.75"/>
<rect x="164.15" y="566.5" width="1" height="14" fill="#a0f060" opacity="0.75"/>
<rect x="154.35" y="566.5" width="0.9" height="14" fill="#f0f020" opacity="0.3"/>
<rect x="163.25" y="566.5" width="0.9" height="14" fill="#f0f020" opacity="0.3"/>
<rect x="111.25" y="580.5" width="1" height="59.5" fill="#38dce0" opacity="0.8"/>
<rect x="122.75" y="580.5" width="1" height="59.5" fill="#38dce0" opacity="0.8"/>
<rect x="112.25" y="580.5" width="0.9" height="59.5" fill="#80f890" opacity="0.28"/>
<rect x="121.85" y="580.5" width="0.9" height="59.5" fill="#80f890" opacity="0.28"/>
<rect x="125.35" y="580.5" width="1" height="59.5" fill="#38dce0" opacity="0.8"/>
<rect x="136.75" y="580.5" width="1" height="59.5" fill="#38dce0" opacity="0.8"/>
<rect x="126.35" y="580.5" width="0.9" height="59.5" fill="#80f890" opacity="0.28"/>
<rect x="135.85" y="580.5" width="0.9" height="59.5" fill="#80f890" opacity="0.28"/>
<rect x="139.25" y="580.5" width="1" height="59.5" fill="#38dce0" opacity="0.8"/>
<rect x="150.75" y="580.5" width="1" height="59.5" fill="#38dce0" opacity="0.8"/>
<rect x="140.25" y="580.5" width="0.9" height="59.5" fill="#80f890" opacity="0.28"/>
<rect x="149.85" y="580.5" width="0.9" height="59.5" fill="#80f890" opacity="0.28"/>
<rect x="153.35" y="580.5" width="1" height="59.5" fill="#38dce0" opacity="0.8"/>
<rect x="164.15" y="580.5" width="1" height="59.5" fill="#38dce0" opacity="0.8"/>
<rect x="154.35" y="580.5" width="0.9" height="59.5" fill="#80f890" opacity="0.28"/>
<rect x="163.25" y="580.5" width="0.9" height="59.5" fill="#80f890" opacity="0.28"/>
<rect x="0" y="4.5" width="177" height="9" fill="#fff"/>
<rect x="0" y="18.5" width="177" height="2" fill="#fff"/>
<rect x="0" y="22.5" width="177" height="5" fill="#fff"/>
<rect x="0" y="34.5" width="177" height="6" fill="#fff"/>
<rect x="0" y="47.5" width="177" height="3" fill="#fff"/>
<rect x="0" y="55.5" width="177" height="2" fill="#fff"/>
<rect x="0" y="58.5" width="177" height="1" fill="#fff"/>
<rect x="0" y="62.5" width="177" height="2" fill="#fff"/>
<rect x="0" y="78.5" width="177" height="2" fill="#fff"/>
<rect x="0" y="83.5" width="177" height="16" fill="#fff"/>
<rect x="0" y="122.5" width="177" height="8" fill="#fff"/>
<rect x="0" y="132.5" width="177" height="4" fill="#fff"/>
<rect x="0" y="137.5" width="177" height="1" fill="#fff"/>
<rect x="0" y="143.5" width="177" height="1" fill="#fff"/>
<rect x="0" y="153.5" width="177" height="13" fill="#fff"/>
<rect x="0" y="171.5" width="177" height="1" fill="#fff"/>
<rect x="0" y="176.5" width="177" height="1" fill="#fff"/>
<rect x="0" y="179.5" width="177" height="1" fill="#fff"/>
<rect x="0" y="182.5" width="177" height="1" fill="#fff"/>
<rect x="0" y="184.5" width="177" height="19" fill="#fff"/>
<rect x="0" y="205.5" width="177" height="1" fill="#fff"/>
<rect x="0" y="207.5" width="177" height="1" fill="#fff"/>
<rect x="0" y="213.5" width="177" height="1" fill="#fff"/>
<rect x="0" y="220.5" width="177" height="1" fill="#fff"/>
<rect x="0" y="223.5" width="177" height="1" fill="#fff"/>
<rect x="0" y="226.5" width="177" height="1" fill="#fff"/>
<rect x="0" y="229.5" width="177" height="1" fill="#fff"/>
<rect x="0" y="261.5" width="177" height="1" fill="#fff"/>
<rect x="0" y="267.5" width="177" height="1" fill="#fff"/>
<rect x="0" y="276.5" width="177" height="1" fill="#fff"/>
<rect x="0" y="279.5" width="177" height="5" fill="#fff"/>
<rect x="0" y="305.5" width="177" height="2" fill="#fff"/>
<rect x="0" y="317.5" width="177" height="1" fill="#fff"/>
<rect x="0" y="353.5" width="177" height="4" fill="#fff"/>
<rect x="0" y="368.5" width="177" height="1" fill="#fff"/>
<rect x="0" y="381.5" width="177" height="1" fill="#fff"/>
<rect x="0" y="397.5" width="177" height="1" fill="#fff"/>
<rect x="0" y="409.5" width="177" height="1" fill="#fff"/>
<rect x="0" y="411.5" width="177" height="1" fill="#fff"/>
<rect x="0" y="419.5" width="177" height="1" fill="#fff"/>
<rect x="0" y="422.5" width="177" height="5" fill="#fff"/>
<rect x="0" y="435.5" width="177" height="1" fill="#fff"/>
<rect x="0" y="452.5" width="177" height="1" fill="#fff"/>
<rect x="0" y="463.5" width="177" height="1" fill="#fff"/>
<rect x="0" y="482.5" width="177" height="1" fill="#fff"/>
<rect x="0" y="493.5" width="177" height="4" fill="#fff"/>
<rect x="0" y="509.5" width="177" height="1" fill="#fff"/>
<rect x="0" y="517.5" width="177" height="1" fill="#fff"/>
<rect x="0" y="544.5" width="177" height="1" fill="#fff"/>
<rect x="0" y="549.5" width="177" height="2" fill="#fff"/>
<rect x="0" y="558.5" width="177" height="1" fill="#fff"/>
<rect x="0" y="561.5" width="177" height="5" fill="#fff"/>
<rect x="0" y="582.5" width="177" height="4" fill="#fff"/>
<rect x="0" y="627.5" width="177" height="2" fill="#fff"/>
<rect x="0" y="637.5" width="177" height="2" fill="#fff"/>
<rect x="0" y="161.5" width="177" height="1" fill="#40d0f8"/>
<rect x="0" y="181.5" width="177" height="1" fill="#ffffff"/>
<rect x="0" y="14.5" width="177" height="1" fill="#000"/>
<rect x="0" y="29.5" width="177" height="1" fill="#000"/>
<rect x="0" y="34.5" width="177" height="1" fill="#000"/>
<rect x="0" y="45.5" width="177" height="1" fill="#000"/>
<rect x="0" y="50.5" width="177" height="1" fill="#000"/>
<rect x="0" y="60.5" width="177" height="1" fill="#000"/>
<rect x="0" y="66.5" width="177" height="1" fill="#000"/>
<rect x="0" y="92.5" width="177" height="1" fill="#000"/>
<rect x="0" y="117.5" width="177" height="2" fill="#000"/>
<rect x="0" y="130.5" width="177" height="1" fill="#000"/>
<rect x="0" y="136.5" width="177" height="1" fill="#000"/>
<rect x="0" y="169.5" width="177" height="1" fill="#000"/>
<rect x="0" y="173.5" width="177" height="1" fill="#000"/>
<rect x="0" y="177.5" width="177" height="2" fill="#000"/>
<rect x="0" y="180.5" width="177" height="1" fill="#000"/>
<rect x="0" y="183.5" width="177" height="1" fill="#000"/>
<rect x="0" y="212.5" width="177" height="1" fill="#000"/>
<rect x="0" y="219.5" width="177" height="1" fill="#000"/>
<rect x="0" y="224.5" width="177" height="2" fill="#000"/>
<rect x="0" y="275.5" width="177" height="1" fill="#000"/>
<rect x="0" y="287.5" width="177" height="1" fill="#000"/>
<rect x="0" y="297.5" width="177" height="1" fill="#000"/>
<rect x="0" y="309.5" width="177" height="2" fill="#000"/>
<rect x="0" y="316.5" width="177" height="1" fill="#000"/>
<rect x="0" y="323.5" width="177" height="1" fill="#000"/>
<rect x="0" y="328.5" width="177" height="1" fill="#000"/>
<rect x="0" y="348.5" width="177" height="1" fill="#000"/>
<rect x="0" y="350.5" width="177" height="1" fill="#000"/>
<rect x="0" y="363.5" width="177" height="5" fill="#000"/>
<rect x="0" y="369.5" width="177" height="4" fill="#000"/>
<rect x="0" y="387.5" width="177" height="2" fill="#000"/>
<rect x="0" y="399.5" width="177" height="4" fill="#000"/>
<rect x="0" y="405.5" width="177" height="2" fill="#000"/>
<rect x="0" y="415.5" width="177" height="2" fill="#000"/>
<rect x="0" y="429.5" width="177" height="1" fill="#000"/>
<rect x="0" y="506.5" width="177" height="1" fill="#000"/>
<rect x="0" y="580.5" width="177" height="1" fill="#000"/>
<rect x="0" y="586.5" width="177" height="1" fill="#000"/>
<rect x="-0.5" y="634.5" width="1" height="5.5" fill="#000"/>
<rect x="-0.5" y="0" width="1" height="5.5" fill="#000"/>
<rect x="40.98" y="634.5" width="1" height="5.5" fill="#000"/>
<rect x="40.98" y="0" width="1" height="5.5" fill="#000"/>
<rect x="82.46" y="634.5" width="1" height="5.5" fill="#000"/>
<rect x="82.46" y="0" width="1" height="5.5" fill="#000"/>
<rect x="123.94" y="634.5" width="1" height="5.5" fill="#000"/>
<rect x="123.94" y="0" width="1" height="5.5" fill="#000"/>
<rect x="165.42" y="634.5" width="1" height="5.5" fill="#000"/>
<rect x="165.42" y="0" width="1" height="5.5" fill="#000"/>
<rect x="0" y="639.5" width="5.5" height="1" fill="#000"/>
<rect x="171.5" y="639.5" width="5.5" height="1" fill="#000"/>
<rect x="0" y="506.17" width="5.5" height="1" fill="#000"/>
<rect x="171.5" y="506.17" width="5.5" height="1" fill="#000"/>
<rect x="0" y="372.83" width="5.5" height="1" fill="#000"/>
<rect x="171.5" y="372.83" width="5.5" height="1" fill="#000"/>
<rect x="0" y="239.5" width="5.5" height="1" fill="#000"/>
<rect x="171.5" y="239.5" width="5.5" height="1" fill="#000"/>
<rect x="0" y="106.17" width="5.5" height="1" fill="#000"/>
<rect x="171.5" y="106.17" width="5.5" height="1" fill="#000"/>
<rect x="0" y="0" width="177" height="640" fill="none" stroke="#000" stroke-width="1"/>
</g>
<g>
<rect x="1019.25" y="160.5" width="15.5" height="480" fill="url(#cb)" stroke="#000" stroke-width="1"/>
<rect x="1019" y="256" width="6" height="1" fill="#000"/>
<rect x="1029" y="256" width="6" height="1" fill="#000"/>
<rect x="1019" y="352" width="6" height="1" fill="#000"/>
<rect x="1029" y="352" width="6" height="1" fill="#000"/>
<rect x="1019" y="448" width="6" height="1" fill="#000"/>
<rect x="1029" y="448" width="6" height="1" fill="#000"/>
<rect x="1019" y="544" width="6" height="1" fill="#000"/>
<rect x="1029" y="544" width="6" height="1" fill="#000"/>
<rect x="1021.95" y="160.5" width="0.9" height="5" fill="#000" opacity="0.8"/>
<rect x="1021.95" y="635.5" width="0.9" height="5" fill="#000" opacity="0.8"/>
<rect x="1024.95" y="160.5" width="0.9" height="5" fill="#000" opacity="0.8"/>
<rect x="1024.95" y="635.5" width="0.9" height="5" fill="#000" opacity="0.8"/>
<rect x="1027.95" y="160.5" width="0.9" height="5" fill="#000" opacity="0.8"/>
<rect x="1027.95" y="635.5" width="0.9" height="5" fill="#000" opacity="0.8"/>
<rect x="1030.95" y="160.5" width="0.9" height="5" fill="#000" opacity="0.8"/>
<rect x="1030.95" y="635.5" width="0.9" height="5" fill="#000" opacity="0.8"/>
<rect x="1017.65" y="646" width="0.7" height="1" fill="#666"/>
<rect x="1021.65" y="646" width="0.7" height="1" fill="#666"/>
<rect x="1024.65" y="646" width="0.7" height="1" fill="#666"/>
<rect x="1027.65" y="646" width="0.7" height="1" fill="#666"/>
<rect x="1030.65" y="646" width="0.7" height="1" fill="#666"/>
<rect x="1033.65" y="646" width="0.7" height="1" fill="#666"/>
</g>
<g font-family="'DejaVu Sans','Liberation Sans',sans-serif" fill="#000">
<text x="525" y="25.6" font-size="12" text-anchor="start" letter-spacing="0.27">2018-12-17 0.0-24.0</text>
<text x="123.2" y="72.8" font-size="15.3" textLength="193" lengthAdjust="spacingAndGlyphs">XX, V10*V13=EA23*EA11</text>
<text x="131.5" y="736" font-size="12" text-anchor="middle">320</text>
<text x="172.98" y="736" font-size="12" text-anchor="middle">335</text>
<text x="214.46" y="736" font-size="12" text-anchor="middle">350</text>
<text x="255.94" y="736" font-size="12" text-anchor="middle">365</text>
<text x="297.42" y="736" font-size="12" text-anchor="middle">380</text>
<text x="126.7" y="724.4" font-size="12" text-anchor="end">0</text>
<text x="126.7" y="589.87" font-size="12" text-anchor="end">5</text>
<text x="126.7" y="456.53" font-size="12" text-anchor="end">10</text>
<text x="126.7" y="323.2" font-size="12" text-anchor="end">15</text>
<text x="126.7" y="189.87" font-size="12" text-anchor="end">20</text>
<text x="335.7" y="72.8" font-size="15.3" textLength="193" lengthAdjust="spacingAndGlyphs">YY, V10*V13=EA23*EA11</text>
<text x="344.5" y="736" font-size="12" text-anchor="middle">320</text>
<text x="385.98" y="736" font-size="12" text-anchor="middle">335</text>
<text x="427.46" y="736" font-size="12" text-anchor="middle">350</text>
<text x="468.94" y="736" font-size="12" text-anchor="middle">365</text>
<text x="510.42" y="736" font-size="12" text-anchor="middle">380</text>
<text x="339.7" y="724.4" font-size="12" text-anchor="end">0</text>
<text x="339.7" y="589.87" font-size="12" text-anchor="end">5</text>
<text x="339.7" y="456.53" font-size="12" text-anchor="end">10</text>
<text x="339.7" y="323.2" font-size="12" text-anchor="end">15</text>
<text x="339.7" y="189.87" font-size="12" text-anchor="end">20</text>
<text x="548.2" y="72.8" font-size="15.3" textLength="193" lengthAdjust="spacingAndGlyphs">XY, V10*V13=EA23*EA11</text>
<text x="556.5" y="736" font-size="12" text-anchor="middle">320</text>
<text x="597.98" y="736" font-size="12" text-anchor="middle">335</text>
<text x="639.46" y="736" font-size="12" text-anchor="middle">350</text>
<text x="680.94" y="736" font-size="12" text-anchor="middle">365</text>
<text x="722.42" y="736" font-size="12" text-anchor="middle">380</text>
<text x="551.7" y="724.4" font-size="12" text-anchor="end">0</text>
<text x="551.7" y="589.87" font-size="12" text-anchor="end">5</text>
<text x="551.7" y="456.53" font-size="12" text-anchor="end">10</text>
<text x="551.7" y="323.2" font-size="12" text-anchor="end">15</text>
<text x="551.7" y="189.87" font-size="12" text-anchor="end">20</text>
<text x="760.2" y="72.8" font-size="15.3" textLength="193" lengthAdjust="spacingAndGlyphs">YX, V10*V13=EA23*EA11</text>
<text x="768.5" y="736" font-size="12" text-anchor="middle">320</text>
<text x="809.98" y="736" font-size="12" text-anchor="middle">335</text>
<text x="851.46" y="736" font-size="12" text-anchor="middle">350</text>
<text x="892.94" y="736" font-size="12" text-anchor="middle">365</text>
<text x="934.42" y="736" font-size="12" text-anchor="middle">380</text>
<text x="763.7" y="724.4" font-size="12" text-anchor="end">0</text>
<text x="763.7" y="589.87" font-size="12" text-anchor="end">5</text>
<text x="763.7" y="456.53" font-size="12" text-anchor="end">10</text>
<text x="763.7" y="323.2" font-size="12" text-anchor="end">15</text>
<text x="763.7" y="189.87" font-size="12" text-anchor="end">20</text>
<text x="432" y="755.5" font-size="12" text-anchor="start" letter-spacing="0.28">frequency (MHz)</text>
<text x="101" y="400" font-size="12" text-anchor="middle" letter-spacing="0.28" transform="rotate(-90 101 400)">UT (hours)</text>
<text x="985.5" y="400" font-size="12" letter-spacing="0.13" text-anchor="middle" transform="rotate(-90 985.5 400)">log<tspan font-size="8.4" dy="2.5">10</tspan><tspan dy="-2.5"> amplitude</tspan></text>
<text x="1013.3" y="162.9" font-size="10" text-anchor="end">1</text>
<text x="1013.3" y="258.9" font-size="10" text-anchor="end">0</text>
<text x="1013.3" y="354.9" font-size="10" text-anchor="end">−1</text>
<text x="1013.3" y="450.9" font-size="10" text-anchor="end">−2</text>
<text x="1013.3" y="546.9" font-size="10" text-anchor="end">−3</text>
<text x="1013.3" y="642.9" font-size="10" text-anchor="end">−4</text>
</g>
</svg></body></html>
